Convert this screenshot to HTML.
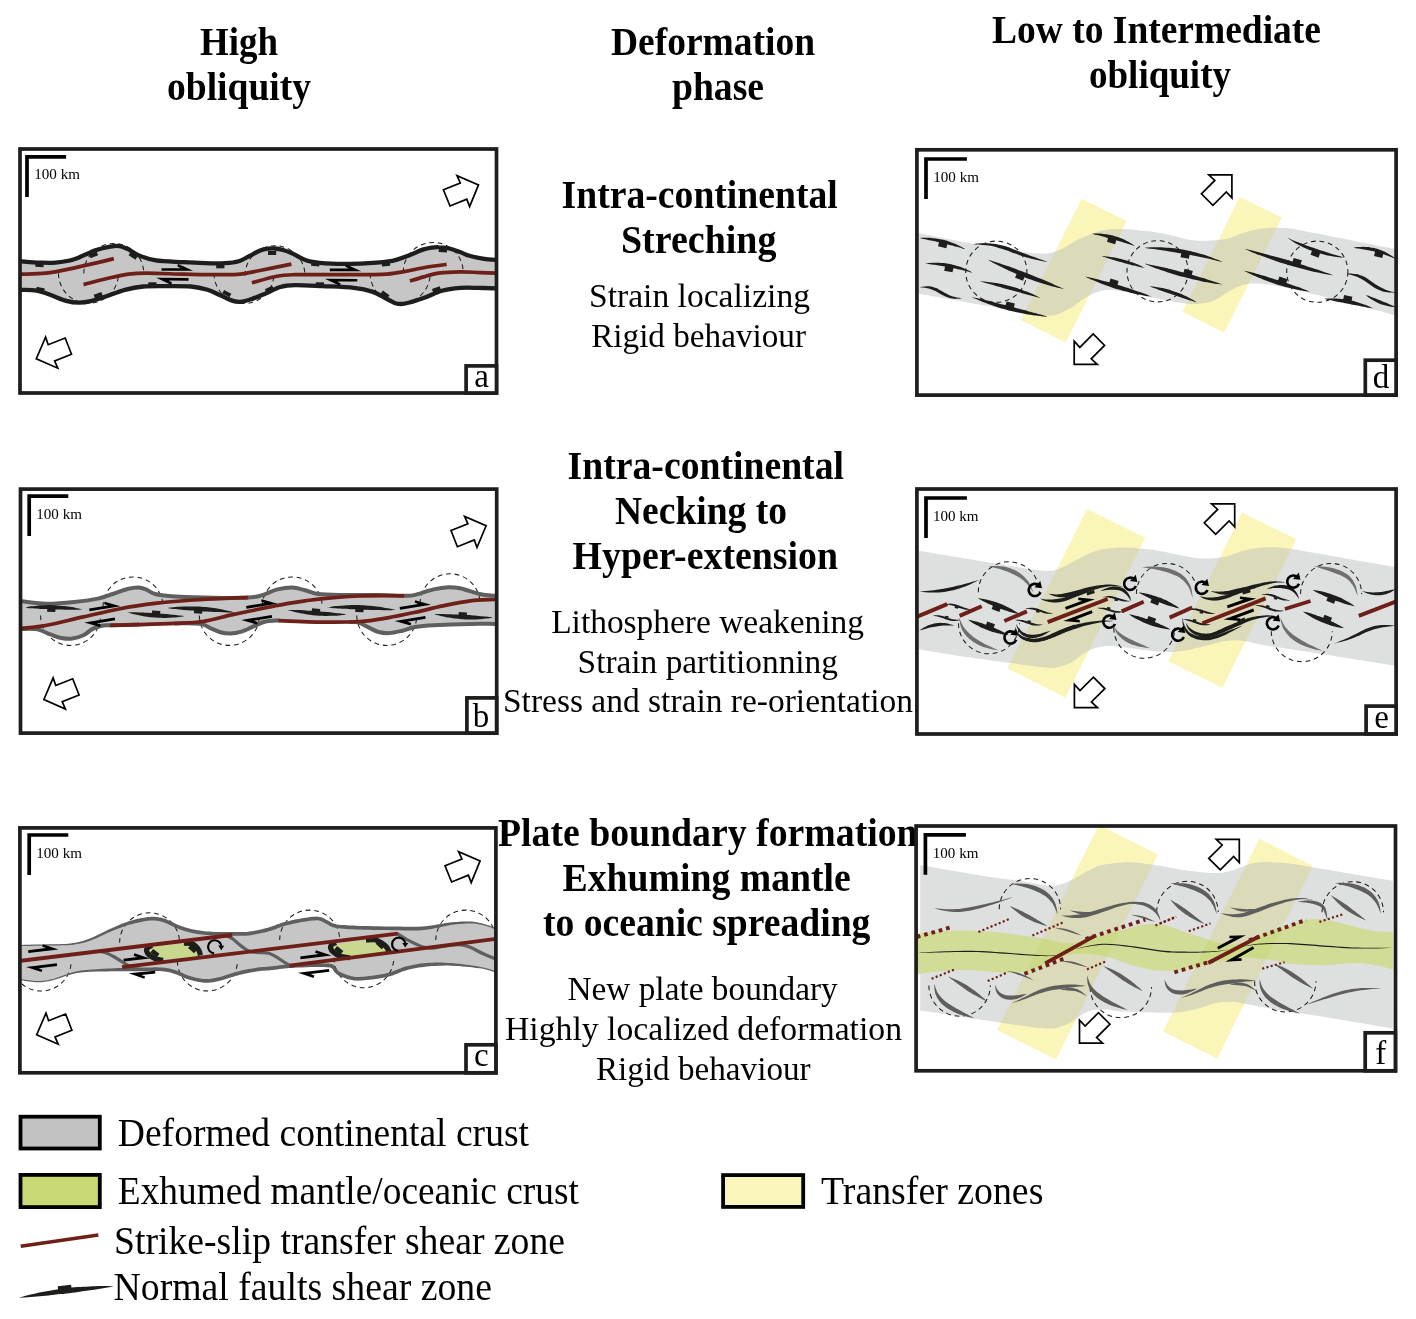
<!DOCTYPE html>
<html><head><meta charset="utf-8"><title>Deformation phases</title>
<style>html,body{margin:0;padding:0;background:#fff}svg{display:block;will-change:transform}text{font-family:"Liberation Serif",serif}</style></head><body>
<svg width="1416" height="1319" viewBox="0 0 1416 1319">
<rect width="1416" height="1319" fill="#fff"/>
<text x="200" y="55" font-size="39.3" font-weight="bold" textLength="78" lengthAdjust="spacingAndGlyphs" fill="#000">High</text>
<text x="167" y="99.8" font-size="39.3" font-weight="bold" textLength="144" lengthAdjust="spacingAndGlyphs" fill="#000">obliquity</text>
<text x="611" y="55" font-size="39.3" font-weight="bold" textLength="204" lengthAdjust="spacingAndGlyphs" fill="#000">Deformation</text>
<text x="672" y="99.8" font-size="39.3" font-weight="bold" textLength="92" lengthAdjust="spacingAndGlyphs" fill="#000">phase</text>
<text x="992" y="43.1" font-size="39.3" font-weight="bold" textLength="329" lengthAdjust="spacingAndGlyphs" fill="#000">Low to Intermediate</text>
<text x="1089" y="87.9" font-size="39.3" font-weight="bold" textLength="142" lengthAdjust="spacingAndGlyphs" fill="#000">obliquity</text>
<text x="561.6" y="208.1" font-size="39.3" font-weight="bold" textLength="276.2" lengthAdjust="spacingAndGlyphs" fill="#000">Intra-continental</text>
<text x="621" y="252.9" font-size="39.3" font-weight="bold" textLength="155.4" lengthAdjust="spacingAndGlyphs" fill="#000">Streching</text>
<text x="589" y="306.9" font-size="33.5" textLength="221" lengthAdjust="spacingAndGlyphs" fill="#000">Strain localizing</text>
<text x="591.2" y="347" font-size="33.5" textLength="214.8" lengthAdjust="spacingAndGlyphs" fill="#000">Rigid behaviour</text>
<text x="567.6" y="479.3" font-size="39.3" font-weight="bold" textLength="276.4" lengthAdjust="spacingAndGlyphs" fill="#000">Intra-continental</text>
<text x="615" y="524.1" font-size="39.3" font-weight="bold" textLength="172" lengthAdjust="spacingAndGlyphs" fill="#000">Necking to</text>
<text x="572.6" y="569" font-size="39.3" font-weight="bold" textLength="265.4" lengthAdjust="spacingAndGlyphs" fill="#000">Hyper-extension</text>
<text x="551.2" y="633" font-size="33.5" textLength="312.8" lengthAdjust="spacingAndGlyphs" fill="#000">Lithosphere weakening</text>
<text x="577.6" y="672.6" font-size="33.5" textLength="260.4" lengthAdjust="spacingAndGlyphs" fill="#000">Strain partitionning</text>
<text x="503" y="712.1" font-size="33.5" textLength="410" lengthAdjust="spacingAndGlyphs" fill="#000">Stress and strain re-orientation</text>
<text x="498" y="845.7" font-size="39.3" font-weight="bold" textLength="419.6" lengthAdjust="spacingAndGlyphs" fill="#000">Plate boundary formation</text>
<text x="562.6" y="891.2" font-size="39.3" font-weight="bold" textLength="288.2" lengthAdjust="spacingAndGlyphs" fill="#000">Exhuming mantle</text>
<text x="543" y="935.8" font-size="39.3" font-weight="bold" textLength="327.4" lengthAdjust="spacingAndGlyphs" fill="#000">to oceanic spreading</text>
<text x="567.4" y="999.8" font-size="33.5" textLength="270.4" lengthAdjust="spacingAndGlyphs" fill="#000">New plate boundary</text>
<text x="505" y="1039.6" font-size="33.5" textLength="397.1" lengthAdjust="spacingAndGlyphs" fill="#000">Highly localized deformation</text>
<text x="596" y="1079.7" font-size="33.5" textLength="214.6" lengthAdjust="spacingAndGlyphs" fill="#000">Rigid behaviour</text>
<rect x="20.5" y="1116.7" width="79.3" height="31.8" fill="#c2c2c2" stroke="#000" stroke-width="3.8"/>
<rect x="20.5" y="1174.9" width="79.3" height="32.2" fill="#c7d874" stroke="#000" stroke-width="3.8"/>
<rect x="723.1" y="1175.1" width="80.1" height="31.8" fill="#faf6bb" stroke="#000" stroke-width="3.8"/>
<text x="117.8" y="1146" font-size="39.2" textLength="411.2" lengthAdjust="spacingAndGlyphs" fill="#000">Deformed continental crust</text>
<text x="117.8" y="1203.8" font-size="39.2" textLength="461.2" lengthAdjust="spacingAndGlyphs" fill="#000">Exhumed mantle/oceanic crust</text>
<text x="114" y="1253.5" font-size="39.2" textLength="451" lengthAdjust="spacingAndGlyphs" fill="#000">Strike-slip transfer shear zone</text>
<text x="113.5" y="1299.7" font-size="39.2" textLength="378.5" lengthAdjust="spacingAndGlyphs" fill="#000">Normal faults shear zone</text>
<text x="821" y="1204" font-size="39.2" textLength="222.4" lengthAdjust="spacingAndGlyphs" fill="#000">Transfer zones</text>
<line x1="20.7" y1="1246.2" x2="98.3" y2="1235" stroke="#6e1f18" stroke-width="3.6"/>
<path d="M19,1297.7C20,1297.4 22.8,1296.5 24.8,1296C26.7,1295.5 28.6,1295 30.6,1294.6C32.5,1294.1 34.5,1293.7 36.4,1293.2C38.3,1292.8 40.3,1292.4 42.2,1292C44.2,1291.6 46.1,1291.3 48.1,1290.9C50,1290.6 52,1290.2 53.9,1289.9C55.9,1289.6 57.9,1289.3 59.8,1289C61.8,1288.8 63.7,1288.5 65.7,1288.3C67.7,1288 69.6,1287.8 71.6,1287.6C73.6,1287.4 75.5,1287.3 77.5,1287.1C79.5,1286.9 81.5,1286.8 83.4,1286.7C85.4,1286.6 87.4,1286.5 89.4,1286.4C91.4,1286.3 93.4,1286.2 95.3,1286.2C97.3,1286.1 99.3,1286.1 101.3,1286.1C103.3,1286.1 105.3,1286.1 107.3,1286.1C109.3,1286.2 112.3,1286.4 113.3,1286.4L113.3,1286.4C112.3,1286.6 109.4,1287.2 107.5,1287.5C105.5,1287.9 103.5,1288.2 101.6,1288.5C99.6,1288.8 97.7,1289.1 95.7,1289.4C93.8,1289.7 91.8,1290 89.9,1290.3C87.9,1290.6 85.9,1290.9 84,1291.1C82,1291.4 80.1,1291.7 78.1,1291.9C76.1,1292.2 74.2,1292.5 72.2,1292.7C70.2,1293 68.3,1293.2 66.3,1293.4C64.4,1293.7 62.4,1293.9 60.4,1294.1C58.5,1294.3 56.5,1294.6 54.5,1294.8C52.6,1295 50.6,1295.2 48.6,1295.4C46.6,1295.6 44.7,1295.8 42.7,1295.9C40.7,1296.1 38.8,1296.3 36.8,1296.5C34.8,1296.6 32.8,1296.8 30.9,1297C28.9,1297.1 26.9,1297.3 24.9,1297.4C23,1297.5 20,1297.7 19,1297.7Z" fill="#1d1d1b"/><rect x="57.9" y="1285.5" width="13.5" height="4.2" fill="#1d1d1b" transform="rotate(-6.8 64.7 1287.6)"/>
<clipPath id="clipa"><rect x="19.9" y="149" width="476.6" height="244.1"/></clipPath>
<g clip-path="url(#clipa)">
<path d="M16,261C16.9,261.1 17.1,261 21.1,261.3C25.1,261.6 34.3,262.4 40,262.6C45.7,262.8 49.5,263.1 55.1,262.6C60.7,262.1 66.7,261.6 73.4,259.5C80.1,257.4 89.4,252.5 95.5,250.3C101.6,248.2 106.2,247.3 110.2,246.6C114.2,245.9 116.4,245.6 119.4,246.1C122.5,246.6 125.1,247.8 128.5,249.4C131.9,251 135,254 139.6,255.8C144.2,257.6 148.8,259.3 156.1,260.4C163.4,261.5 175.4,261.7 183.6,262.2C191.8,262.7 198.1,263 205,263.2C211.9,263.4 219.4,263.5 225,263.2C230.6,262.9 234.6,262.5 238.7,261.3C242.8,260.1 246.1,257.6 249.7,255.8C253.3,254 257.1,251.7 260.2,250.5C263.2,249.3 265.6,249 268,248.7C270.4,248.4 272.4,248.3 274.9,248.5C277.4,248.7 280.2,249.2 283,250C285.8,250.8 288.6,251.8 291.4,253C294.2,254.2 296.9,256.1 300,257.5C303.1,258.9 304.5,260.3 309.8,261.3C315.1,262.3 325.1,263.3 331.8,263.7C338.5,264.1 343.9,264 350,263.9C356.1,263.8 361.4,263.7 368.5,263.2C375.6,262.7 386.3,261.9 392.4,260.8C398.5,259.7 400.1,258.6 405.3,256.7C410.5,254.8 419.2,250.9 423.6,249.4C428.1,247.9 429.6,248 432,247.6C434.4,247.2 435.4,247 438.3,247.2C441.2,247.3 445.7,247.7 449.3,248.5C452.9,249.3 456.6,250.8 460,252C463.4,253.2 465.5,254.7 469.5,255.8C473.5,256.9 479.9,258.2 484.2,258.9C488.5,259.6 492.2,259.6 495.2,259.8C498.2,260 500.9,260 502,260L502,288.4C500.9,288.4 499.1,288.4 495.2,288.3C491.3,288.2 484.5,288 478.7,287.9C472.9,287.8 466.4,287.4 460.3,287.9C454.2,288.4 448.1,289 442,290.7C435.9,292.4 429.7,295.9 423.6,298C417.5,300.1 409.9,302.6 405.3,303.5C400.7,304.4 399.2,304.2 396.1,303.5C393,302.8 390.9,301 386.9,299C382.9,297 377.7,293.5 372.2,291.6C366.7,289.8 362.1,288.8 353.8,287.9C345.5,287 332.4,286.6 322.6,286.1C312.8,285.7 302.1,285.1 295.1,285.2C288.1,285.3 285.3,285.6 280.4,287C275.5,288.4 270.6,291.3 265.7,293.4C260.8,295.4 255.3,297.9 251,299.3C246.7,300.7 243.3,301.6 240,301.8C236.7,302 234.7,301.5 231.4,300.4C228.1,299.3 224.3,297.1 220.3,295.3C216.3,293.5 212.4,291.3 207.5,289.8C202.6,288.3 198,287.1 191,286.5C184,285.9 173.3,286.1 165.3,286.1C157.3,286.1 149.9,285.9 143.2,286.5C136.5,287.1 131,288.2 124.9,289.8C118.8,291.4 112,294.4 106.5,296.2C101,298 96.4,299.7 91.8,300.8C87.2,301.9 83.3,302.6 79,302.6C74.7,302.6 70.7,302 66.1,300.8C61.5,299.6 56.3,297 51.4,295.3C46.5,293.6 41.8,291.6 36.7,290.7C31.7,289.8 24.6,290 21.1,289.8C17.7,289.6 16.9,289.6 16,289.6Z" fill="#c6c6c6"/>
<path d="M83.8,273.5 A30,30 0 0 1 143.8,273.5" fill="none" stroke="#1d1d1b" stroke-width="1.05" stroke-dasharray="4.8,3.8"/>
<path d="M58.5,273.3 A30,30 0 0 0 118.5,273.3" fill="none" stroke="#1d1d1b" stroke-width="1.05" stroke-dasharray="4.8,3.8"/>
<path d="M245,275.7 A30,30 0 0 1 305,275.7" fill="none" stroke="#1d1d1b" stroke-width="1.05" stroke-dasharray="4.8,3.8"/>
<path d="M214,273.5 A30,30 0 0 0 274,273.5" fill="none" stroke="#1d1d1b" stroke-width="1.05" stroke-dasharray="4.8,3.8"/>
<path d="M403.2,272.4 A30,30 0 0 1 463.2,272.4" fill="none" stroke="#1d1d1b" stroke-width="1.05" stroke-dasharray="4.8,3.8"/>
<path d="M370.2,273.5 A30,30 0 0 0 430.2,273.5" fill="none" stroke="#1d1d1b" stroke-width="1.05" stroke-dasharray="4.8,3.8"/>
<rect x="35.4" y="263" width="8.2" height="4" fill="#1d1d1b" transform="rotate(3 39.5 265)"/>
<rect x="89.5" y="252.9" width="8.2" height="4" fill="#1d1d1b" transform="rotate(-22 93.6 254.9)"/>
<rect x="129" y="253.8" width="8.2" height="4" fill="#1d1d1b" transform="rotate(32 133.1 255.8)"/>
<rect x="216.2" y="264.3" width="8.2" height="4" fill="#1d1d1b" transform="rotate(0 220.3 266.3)"/>
<rect x="268" y="251" width="8.2" height="4" fill="#1d1d1b" transform="rotate(0 272.1 253)"/>
<rect x="311.2" y="262.1" width="8.2" height="4" fill="#1d1d1b" transform="rotate(5 315.3 264.1)"/>
<rect x="381.9" y="262.1" width="8.2" height="4" fill="#1d1d1b" transform="rotate(-5 386 264.1)"/>
<rect x="438.8" y="248.3" width="8.2" height="4" fill="#1d1d1b" transform="rotate(3 442.9 250.3)"/>
<rect x="36.3" y="287.6" width="8.2" height="4" fill="#1d1d1b" transform="rotate(12 40.4 289.6)"/>
<rect x="94.1" y="293.3" width="8.2" height="4" fill="#1d1d1b" transform="rotate(-20 98.2 295.3)"/>
<rect x="148.3" y="282.3" width="8.2" height="4" fill="#1d1d1b" transform="rotate(0 152.4 284.3)"/>
<rect x="222.7" y="291.6" width="8.2" height="4" fill="#1d1d1b" transform="rotate(27 226.8 293.6)"/>
<rect x="265.3" y="287.4" width="8.2" height="4" fill="#1d1d1b" transform="rotate(-25 269.4 289.4)"/>
<rect x="315.8" y="282.3" width="8.2" height="4" fill="#1d1d1b" transform="rotate(0 319.9 284.3)"/>
<rect x="380.9" y="292.6" width="8.2" height="4" fill="#1d1d1b" transform="rotate(35 385 294.6)"/>
<rect x="432.4" y="287.6" width="8.2" height="4" fill="#1d1d1b" transform="rotate(-20 436.5 289.6)"/>
<path d="M16,261C16.9,261.1 17.1,261 21.1,261.3C25.1,261.6 34.3,262.4 40,262.6C45.7,262.8 49.5,263.1 55.1,262.6C60.7,262.1 66.7,261.6 73.4,259.5C80.1,257.4 89.4,252.5 95.5,250.3C101.6,248.2 106.2,247.3 110.2,246.6C114.2,245.9 116.4,245.6 119.4,246.1C122.5,246.6 125.1,247.8 128.5,249.4C131.9,251 135,254 139.6,255.8C144.2,257.6 148.8,259.3 156.1,260.4C163.4,261.5 175.4,261.7 183.6,262.2C191.8,262.7 198.1,263 205,263.2C211.9,263.4 219.4,263.5 225,263.2C230.6,262.9 234.6,262.5 238.7,261.3C242.8,260.1 246.1,257.6 249.7,255.8C253.3,254 257.1,251.7 260.2,250.5C263.2,249.3 265.6,249 268,248.7C270.4,248.4 272.4,248.3 274.9,248.5C277.4,248.7 280.2,249.2 283,250C285.8,250.8 288.6,251.8 291.4,253C294.2,254.2 296.9,256.1 300,257.5C303.1,258.9 304.5,260.3 309.8,261.3C315.1,262.3 325.1,263.3 331.8,263.7C338.5,264.1 343.9,264 350,263.9C356.1,263.8 361.4,263.7 368.5,263.2C375.6,262.7 386.3,261.9 392.4,260.8C398.5,259.7 400.1,258.6 405.3,256.7C410.5,254.8 419.2,250.9 423.6,249.4C428.1,247.9 429.6,248 432,247.6C434.4,247.2 435.4,247 438.3,247.2C441.2,247.3 445.7,247.7 449.3,248.5C452.9,249.3 456.6,250.8 460,252C463.4,253.2 465.5,254.7 469.5,255.8C473.5,256.9 479.9,258.2 484.2,258.9C488.5,259.6 492.2,259.6 495.2,259.8C498.2,260 500.9,260 502,260" fill="none" stroke="#1d1d1b" stroke-width="4.3"/>
<path d="M16,289.6C16.9,289.6 17.7,289.6 21.1,289.8C24.6,290 31.7,289.8 36.7,290.7C41.8,291.6 46.5,293.6 51.4,295.3C56.3,297 61.5,299.6 66.1,300.8C70.7,302 74.7,302.6 79,302.6C83.3,302.6 87.2,301.9 91.8,300.8C96.4,299.7 101,298 106.5,296.2C112,294.4 118.8,291.4 124.9,289.8C131,288.2 136.5,287.1 143.2,286.5C149.9,285.9 157.3,286.1 165.3,286.1C173.3,286.1 184,285.9 191,286.5C198,287.1 202.6,288.3 207.5,289.8C212.4,291.3 216.3,293.5 220.3,295.3C224.3,297.1 228.1,299.3 231.4,300.4C234.7,301.5 236.7,302 240,301.8C243.3,301.6 246.7,300.7 251,299.3C255.3,297.9 260.8,295.4 265.7,293.4C270.6,291.3 275.5,288.4 280.4,287C285.3,285.6 288.1,285.3 295.1,285.2C302.1,285.1 312.8,285.7 322.6,286.1C332.4,286.6 345.5,287 353.8,287.9C362.1,288.8 366.7,289.8 372.2,291.6C377.7,293.5 382.9,297 386.9,299C390.9,301 393,302.8 396.1,303.5C399.2,304.2 400.7,304.4 405.3,303.5C409.9,302.6 417.5,300.1 423.6,298C429.7,295.9 435.9,292.4 442,290.7C448.1,289 454.2,288.4 460.3,287.9C466.4,287.4 472.9,287.8 478.7,287.9C484.5,288 491.3,288.2 495.2,288.3C499.1,288.4 500.9,288.4 502,288.4" fill="none" stroke="#1d1d1b" stroke-width="4.3"/>
<polygon points="161.5,270.8 193.1,270.8 178.2,264 177.2,266.3 180.7,268.2 161.5,268.2" fill="#000"/>
<polygon points="188.5,278.1 156.2,277.8 171,284.7 172.1,282.4 168.6,280.5 188.5,280.7" fill="#000"/>
<polygon points="329.8,271.2 361.2,271.2 346.3,264.4 345.3,266.7 348.8,268.6 329.8,268.6" fill="#000"/>
<polygon points="357.3,279 324.8,278.8 339.7,285.7 340.7,283.4 337.2,281.5 357.3,281.6" fill="#000"/>
<path d="M16,274.3C16.9,274.3 16.1,274.4 21.1,274.2C26.1,274 37.2,274.2 45.9,273.2C54.6,272.2 65.1,269.8 73.4,268.1C81.7,266.4 88.8,264.7 95.5,263.1C102.2,261.5 110.8,259.4 113.8,258.6" fill="none" stroke="#6e1f18" stroke-width="3.7"/>
<path d="M83.5,284.6C88,283.5 102.7,279.5 110.2,277.8C117.7,276.1 122.4,275 128.5,274.2C134.6,273.4 137.7,273.2 146.9,273.2C156.1,273.2 171.4,273.9 183.6,274.2C195.8,274.4 210.9,274.7 220.3,274.7C229.7,274.7 233.4,274.9 240,274.2C246.6,273.5 251.4,272.2 260,270.5C268.6,268.8 286.2,265.2 291.4,264.1" fill="none" stroke="#6e1f18" stroke-width="3.7"/>
<path d="M251.9,282.8C256,281.7 269.5,277.6 276.7,276.2C283.9,274.8 285.9,274.9 295.1,274.7C304.3,274.4 319.6,274.7 331.8,274.7C344,274.7 359.3,274.8 368.5,274.7C377.7,274.6 380.8,274.8 386.9,274.2C393,273.6 399.2,272.5 405.3,271.4C411.4,270.3 416.7,268.9 423.6,267.7C430.5,266.5 442.8,264.9 446.6,264.4" fill="none" stroke="#6e1f18" stroke-width="3.7"/>
<path d="M409.9,281C412.2,280.3 418.9,278.2 423.6,276.9C428.3,275.6 432.2,274 438.3,273.2C444.4,272.4 453.4,271.9 460.3,271.8C467.2,271.7 474.2,272.4 480,272.6C485.8,272.8 491.5,273.1 495.2,273.2C498.9,273.3 500.9,273.4 502,273.4" fill="none" stroke="#6e1f18" stroke-width="3.7"/>
<polygon points="443.4,189.8 460.3,183 457,175.7 478.5,184.9 469.6,206.6 466.8,199.1 450,206" fill="#fff" stroke="#000" stroke-width="1.7" stroke-linejoin="miter"/>
<polygon points="71.5,354.2 54.6,360.9 57.8,368.2 36.3,358.7 45.6,337.1 48.2,344.7 65.2,338" fill="#fff" stroke="#000" stroke-width="1.7" stroke-linejoin="miter"/>
</g>
<path d="M27,196.9 V156.9 H66.1" fill="none" stroke="#000" stroke-width="3.7"/><text x="34.3" y="179.3" font-size="14" textLength="45.6" lengthAdjust="spacingAndGlyphs" fill="#000">100 km</text>
<rect x="20" y="149" width="476.5" height="244" fill="none" stroke="#1d1d1b" stroke-width="3.7"/><rect x="466.1" y="365.9" width="30.4" height="27.1" fill="#fff" stroke="#1d1d1b" stroke-width="3.7"/><text x="481.6" y="386.8" font-size="33" text-anchor="middle" fill="#000">a</text>
<clipPath id="clipb"><rect x="20.4" y="489" width="476.3" height="244.1"/></clipPath>
<g clip-path="url(#clipb)">
<path d="M16,601C17,601 16.8,600.8 21.9,601.3C27,601.8 38,603.6 46.7,603.7C55.4,603.8 65.7,602.8 74.3,601.9C82.9,601 91.7,599.9 98.1,598.6C104.5,597.3 107.9,595.6 112.8,594C117.7,592.4 123.2,590.1 127.5,589C131.8,587.9 135.4,587.4 138.5,587.5C141.6,587.6 143.1,588.3 145.9,589.4C148.7,590.5 150.8,592.9 155.1,594C159.4,595.1 165.2,595.7 171.6,596.2C178,596.8 183.8,597 193.6,597.3C203.4,597.6 221.3,598 230.3,598C239.3,598 243.3,597.9 247.8,597.6C252.3,597.4 254.6,597 257.4,596.5C260.2,596 261.3,595.5 264.7,594.3C268.1,593.1 272.9,590.5 277.5,589.4C282.1,588.3 287.6,587.4 292.2,587.5C296.8,587.6 300.8,589.2 305.1,590.3C309.4,591.4 311.8,593.2 317.9,594C324,594.8 331.7,594.8 341.8,594.9C351.9,595 368.1,594.8 378.5,594.9C388.9,595 398.1,595.8 404.2,595.8C410.3,595.8 410.4,596 415.3,594.9C420.2,593.8 428.1,590.7 433.6,589.4C439.1,588.1 443.7,587.4 448.3,587.2C452.9,587.1 456,587.4 461.2,588.5C466.4,589.6 473.9,592.8 479.5,594C485.1,595.2 491.4,595.5 495.1,595.8C498.9,596.1 500.9,596 502,596L502,623.9C500.9,623.9 500.4,623.9 495.1,623.9C489.8,623.9 480.6,623.7 470.3,623.9C460.1,624.1 442.8,624.7 433.6,625.2C424.4,625.7 420.5,626.1 415.3,627C410.1,627.9 406.7,629.7 402.4,630.7C398.1,631.7 393.6,632.9 389.6,633.1C385.6,633.3 381.9,632.9 378.5,632C375.1,631.1 372.8,629.5 369.4,627.9C366,626.3 361.5,623.4 358.3,622.4C355.1,621.4 355.8,622 350,622C344.2,622 335.3,622.4 323.4,622.1C311.5,621.8 288.3,620.5 278.5,620.4C268.7,620.3 268.8,620.8 264.7,621.8C260.6,622.8 258.1,624.5 254.2,626.1C250.3,627.7 245.4,630.4 241.4,631.6C237.4,632.8 233.7,633.4 230.3,633.5C226.9,633.6 224.2,633.3 221.2,632.5C218.1,631.7 215.1,630.3 212,628.9C208.9,627.5 205.9,625.2 202.8,624.3C199.7,623.4 198.2,623.5 193.6,623.4C189,623.2 184.5,623.2 175.3,623.4C166.1,623.6 149.4,624.3 138.5,624.6C127.6,624.9 116.2,625 110.1,625.2C104,625.4 104.7,625.1 101.8,625.7C98.9,626.3 95.7,627.3 92.6,628.9C89.5,630.5 86.8,633.7 83.4,635.3C80,636.9 76.1,638.1 72.4,638.6C68.7,639.1 65.1,638.7 61.4,638C57.7,637.3 54.4,635.8 50.4,634.4C46.4,633 42.2,630.3 37.5,629.4C32.8,628.5 25.5,629 21.9,628.9C18.3,628.8 17,628.8 16,628.8Z" fill="#c6c6c6"/>
<path d="M103,606.9 A30,30 0 0 1 163,606.9" fill="none" stroke="#1d1d1b" stroke-width="1.05" stroke-dasharray="4.8,3.8"/>
<path d="M40.6,615.4 A30,30 0 0 0 100.6,615.4" fill="none" stroke="#1d1d1b" stroke-width="1.05" stroke-dasharray="4.8,3.8"/>
<path d="M262.2,606.9 A30,30 0 0 1 322.2,606.9" fill="none" stroke="#1d1d1b" stroke-width="1.05" stroke-dasharray="4.8,3.8"/>
<path d="M199.4,615.4 A30,30 0 0 0 259.4,615.4" fill="none" stroke="#1d1d1b" stroke-width="1.05" stroke-dasharray="4.8,3.8"/>
<path d="M420.1,603.8 A30,30 0 0 1 480.1,603.8" fill="none" stroke="#1d1d1b" stroke-width="1.05" stroke-dasharray="4.8,3.8"/>
<path d="M356.8,615.4 A30,30 0 0 0 416.8,615.4" fill="none" stroke="#1d1d1b" stroke-width="1.05" stroke-dasharray="4.8,3.8"/>
<path d="M16,601C17,601 16.8,600.8 21.9,601.3C27,601.8 38,603.6 46.7,603.7C55.4,603.8 65.7,602.8 74.3,601.9C82.9,601 91.7,599.9 98.1,598.6C104.5,597.3 107.9,595.6 112.8,594C117.7,592.4 123.2,590.1 127.5,589C131.8,587.9 135.4,587.4 138.5,587.5C141.6,587.6 143.1,588.3 145.9,589.4C148.7,590.5 150.8,592.9 155.1,594C159.4,595.1 165.2,595.7 171.6,596.2C178,596.8 183.8,597 193.6,597.3C203.4,597.6 221.3,598 230.3,598C239.3,598 243.3,597.9 247.8,597.6C252.3,597.4 254.6,597 257.4,596.5C260.2,596 261.3,595.5 264.7,594.3C268.1,593.1 272.9,590.5 277.5,589.4C282.1,588.3 287.6,587.4 292.2,587.5C296.8,587.6 300.8,589.2 305.1,590.3C309.4,591.4 311.8,593.2 317.9,594C324,594.8 331.7,594.8 341.8,594.9C351.9,595 368.1,594.8 378.5,594.9C388.9,595 398.1,595.8 404.2,595.8C410.3,595.8 410.4,596 415.3,594.9C420.2,593.8 428.1,590.7 433.6,589.4C439.1,588.1 443.7,587.4 448.3,587.2C452.9,587.1 456,587.4 461.2,588.5C466.4,589.6 473.9,592.8 479.5,594C485.1,595.2 491.4,595.5 495.1,595.8C498.9,596.1 500.9,596 502,596" fill="none" stroke="#5f5f5f" stroke-width="4.0" stroke-linecap="round"/>
<path d="M16,628.8C17,628.8 18.3,628.8 21.9,628.9C25.5,629 32.8,628.5 37.5,629.4C42.2,630.3 46.4,633 50.4,634.4C54.4,635.8 57.7,637.3 61.4,638C65.1,638.7 68.7,639.1 72.4,638.6C76.1,638.1 80,636.9 83.4,635.3C86.8,633.7 89.5,630.5 92.6,628.9C95.7,627.3 98.9,626.3 101.8,625.7C104.7,625.1 104,625.4 110.1,625.2C116.2,625 133.8,624.7 138.5,624.6" fill="none" stroke="#5f5f5f" stroke-width="4.0" stroke-linecap="round"/>
<path d="M175.3,623.4C178.4,623.4 189,623.2 193.6,623.4C198.2,623.5 199.7,623.4 202.8,624.3C205.9,625.2 208.9,627.5 212,628.9C215.1,630.3 218.1,631.7 221.2,632.5C224.2,633.3 226.9,633.6 230.3,633.5C233.7,633.4 237.4,632.8 241.4,631.6C245.4,630.4 250.3,627.7 254.2,626.1C258.1,624.5 260.6,622.8 264.7,621.8C268.8,620.8 276.2,620.6 278.5,620.4" fill="none" stroke="#5f5f5f" stroke-width="4.0" stroke-linecap="round"/>
<path d="M350,622C351.4,622.1 355.1,621.4 358.3,622.4C361.5,623.4 366,626.3 369.4,627.9C372.8,629.5 375.1,631.1 378.5,632C381.9,632.9 385.6,633.3 389.6,633.1C393.6,632.9 398.1,631.7 402.4,630.7C406.7,629.7 410.1,627.9 415.3,627C420.5,626.1 424.4,625.7 433.6,625.2C442.8,624.7 460.1,624.1 470.3,623.9C480.6,623.7 489.8,623.9 495.1,623.9C500.4,623.9 500.9,623.9 502,623.9" fill="none" stroke="#5f5f5f" stroke-width="4.0" stroke-linecap="round"/>
<path d="M23.8,607.6C24.4,607.5 26.3,607.1 27.5,606.9C28.7,606.6 30,606.5 31.2,606.3C32.4,606.1 33.6,606 34.9,605.9C36.1,605.7 37.3,605.6 38.6,605.5C39.8,605.4 41,605.4 42.2,605.3C43.5,605.2 44.7,605.2 45.9,605.2C47.1,605.1 48.4,605.1 49.6,605.1C50.8,605.1 52,605.2 53.3,605.2C54.5,605.2 55.7,605.3 56.9,605.4C58.2,605.5 59.4,605.6 60.6,605.7C61.8,605.8 63,605.9 64.3,606C65.5,606.2 66.7,606.4 67.9,606.5C69.1,606.7 70.3,606.9 71.6,607.1C72.8,607.3 74,607.6 75.2,607.8C76.4,608.1 77.6,608.3 78.9,608.6C80.1,608.9 81.9,609.4 82.5,609.6L82.5,609.6C81.9,609.6 80,609.7 78.8,609.7C77.6,609.8 76.4,609.8 75.1,609.8C73.9,609.8 72.7,609.8 71.5,609.7C70.3,609.7 69,609.7 67.8,609.7C66.6,609.7 65.4,609.7 64.1,609.7C62.9,609.7 61.7,609.6 60.5,609.6C59.2,609.6 58,609.5 56.8,609.5C55.6,609.5 54.3,609.4 53.1,609.4C51.9,609.4 50.7,609.3 49.5,609.3C48.2,609.2 47,609.2 45.8,609.1C44.6,609 43.3,609 42.1,608.9C40.9,608.9 39.7,608.8 38.5,608.7C37.2,608.6 36,608.6 34.8,608.5C33.6,608.4 32.3,608.3 31.1,608.3C29.9,608.2 28.7,608.1 27.5,608C26.2,607.9 24.4,607.7 23.8,607.6Z" fill="#1d1d1b"/><rect x="47.2" y="608.3" width="8.2" height="3.6" fill="#1d1d1b" transform="rotate(2 51.3 610.1)"/>
<path d="M127.5,612.3C128.1,612.3 129.9,612.2 131.1,612.2C132.3,612.2 133.5,612.3 134.6,612.3C135.8,612.3 137,612.4 138.2,612.4C139.4,612.4 140.6,612.5 141.8,612.5C143,612.6 144.2,612.6 145.3,612.7C146.5,612.7 147.7,612.8 148.9,612.8C150.1,612.9 151.3,613 152.5,613C153.6,613.1 154.8,613.2 156,613.3C157.2,613.3 158.4,613.4 159.6,613.5C160.8,613.6 161.9,613.7 163.1,613.8C164.3,613.9 165.5,614 166.7,614.1C167.9,614.2 169,614.3 170.2,614.5C171.4,614.6 172.6,614.7 173.8,614.8C175,615 176.1,615.1 177.3,615.2C178.5,615.4 179.7,615.5 180.9,615.6C182,615.8 183.8,616.1 184.4,616.2L184.4,616.2C183.8,616.3 182,616.7 180.8,616.8C179.6,617 178.4,617.1 177.2,617.3C176,617.4 174.8,617.5 173.6,617.6C172.4,617.7 171.2,617.7 170,617.8C168.8,617.8 167.6,617.9 166.4,617.9C165.2,617.9 164,617.9 162.8,617.9C161.7,617.9 160.5,617.9 159.3,617.8C158.1,617.8 156.9,617.7 155.7,617.6C154.5,617.6 153.3,617.5 152.2,617.3C151,617.2 149.8,617.1 148.6,616.9C147.4,616.8 146.3,616.6 145.1,616.4C143.9,616.3 142.7,616.1 141.5,615.8C140.4,615.6 139.2,615.4 138,615.1C136.9,614.9 135.7,614.6 134.5,614.3C133.3,614 132.2,613.8 131,613.4C129.8,613.1 128.1,612.5 127.5,612.3Z" fill="#1d1d1b"/><rect x="152" y="610.8" width="8.2" height="3.6" fill="#1d1d1b" transform="rotate(3.9 156.1 612.6)"/>
<path d="M167,608.1C167.7,608 169.9,607.6 171.3,607.5C172.7,607.3 174.2,607.2 175.6,607.1C177,606.9 178.4,606.8 179.9,606.8C181.3,606.7 182.7,606.6 184.1,606.6C185.6,606.5 187,606.5 188.4,606.5C189.8,606.5 191.3,606.5 192.7,606.5C194.1,606.5 195.5,606.5 196.9,606.6C198.3,606.6 199.8,606.7 201.2,606.8C202.6,606.9 204,607 205.4,607.1C206.8,607.3 208.2,607.4 209.6,607.6C211.1,607.7 212.5,607.9 213.9,608.1C215.3,608.3 216.7,608.5 218.1,608.8C219.5,609 220.9,609.2 222.3,609.5C223.7,609.8 225.1,610.1 226.5,610.4C227.9,610.7 229.3,611 230.7,611.3C232.1,611.7 234.2,612.3 234.9,612.5L234.9,612.5C234.2,612.5 232.1,612.5 230.6,612.5C229.2,612.5 227.8,612.4 226.4,612.4C225,612.4 223.5,612.3 222.1,612.3C220.7,612.2 219.3,612.1 217.9,612.1C216.5,612 215,612 213.6,611.9C212.2,611.8 210.8,611.8 209.4,611.7C208,611.6 206.6,611.5 205.1,611.5C203.7,611.4 202.3,611.3 200.9,611.2C199.5,611.1 198.1,611 196.6,610.9C195.2,610.8 193.8,610.7 192.4,610.6C191,610.5 189.6,610.4 188.2,610.3C186.8,610.1 185.3,610 183.9,609.9C182.5,609.8 181.1,609.6 179.7,609.5C178.3,609.4 176.9,609.2 175.5,609.1C174,609 172.6,608.8 171.2,608.7C169.8,608.5 167.7,608.2 167,608.1Z" fill="#1d1d1b"/><rect x="194" y="609.9" width="8.2" height="3.6" fill="#1d1d1b" transform="rotate(3.7 198.1 611.7)"/>
<path d="M287.6,609.9C288.2,609.9 290.1,609.9 291.3,609.9C292.5,609.9 293.8,609.9 295,610C296.2,610 297.4,610.1 298.7,610.1C299.9,610.2 301.1,610.2 302.4,610.3C303.6,610.3 304.8,610.4 306,610.4C307.3,610.5 308.5,610.6 309.7,610.7C310.9,610.7 312.2,610.8 313.4,610.9C314.6,611 315.9,611.1 317.1,611.2C318.3,611.2 319.5,611.3 320.8,611.4C322,611.6 323.2,611.7 324.4,611.8C325.6,611.9 326.9,612 328.1,612.1C329.3,612.3 330.5,612.4 331.8,612.5C333,612.6 334.2,612.8 335.4,612.9C336.6,613.1 337.9,613.2 339.1,613.3C340.3,613.5 341.5,613.6 342.7,613.8C344,614 345.8,614.3 346.4,614.4L346.4,614.4C345.8,614.5 343.9,614.8 342.7,615C341.4,615.2 340.2,615.3 338.9,615.4C337.7,615.5 336.5,615.6 335.2,615.7C334,615.7 332.7,615.8 331.5,615.8C330.3,615.9 329,615.9 327.8,615.9C326.6,615.9 325.3,615.9 324.1,615.9C322.9,615.9 321.6,615.8 320.4,615.8C319.2,615.7 318,615.6 316.7,615.5C315.5,615.4 314.3,615.3 313.1,615.2C311.8,615.1 310.6,614.9 309.4,614.8C308.2,614.6 307,614.4 305.8,614.2C304.5,614 303.3,613.8 302.1,613.6C300.9,613.4 299.7,613.1 298.5,612.8C297.3,612.6 296,612.3 294.8,612C293.6,611.7 292.4,611.4 291.2,611.1C290,610.7 288.2,610.1 287.6,609.9Z" fill="#1d1d1b"/><rect x="311.9" y="608.6" width="8.2" height="3.6" fill="#1d1d1b" transform="rotate(4.4 316 610.4)"/>
<path d="M327.1,607.4C327.8,607.3 330,606.9 331.4,606.7C332.9,606.5 334.3,606.3 335.8,606.1C337.2,606 338.7,605.9 340.1,605.7C341.5,605.6 343,605.5 344.4,605.4C345.9,605.3 347.3,605.3 348.7,605.2C350.2,605.2 351.6,605.1 353.1,605.1C354.5,605.1 355.9,605.1 357.4,605.1C358.8,605.2 360.3,605.2 361.7,605.3C363.1,605.3 364.6,605.4 366,605.5C367.4,605.6 368.9,605.7 370.3,605.8C371.7,605.9 373.2,606.1 374.6,606.2C376,606.4 377.4,606.6 378.9,606.8C380.3,607 381.7,607.2 383.2,607.4C384.6,607.7 386,607.9 387.4,608.2C388.9,608.4 390.3,608.7 391.7,609C393.2,609.4 395.3,609.9 396,610.1L396,610.1C395.3,610.1 393.1,610.2 391.7,610.2C390.2,610.2 388.8,610.2 387.4,610.2C385.9,610.2 384.5,610.2 383.1,610.2C381.6,610.2 380.2,610.1 378.7,610.1C377.3,610.1 375.9,610.1 374.4,610C373,610 371.6,610 370.1,609.9C368.7,609.9 367.3,609.9 365.8,609.8C364.4,609.8 363,609.7 361.5,609.6C360.1,609.6 358.6,609.5 357.2,609.5C355.8,609.4 354.3,609.3 352.9,609.3C351.5,609.2 350,609.1 348.6,609C347.2,608.9 345.7,608.9 344.3,608.8C342.9,608.7 341.4,608.6 340,608.5C338.6,608.4 337.1,608.3 335.7,608.2C334.3,608.1 332.8,608 331.4,607.9C330,607.7 327.8,607.5 327.1,607.4Z" fill="#1d1d1b"/><rect x="355.3" y="608.5" width="8.2" height="3.6" fill="#1d1d1b" transform="rotate(2.2 359.4 610.3)"/>
<path d="M434.5,614.2C435.1,614.2 437,614.1 438.2,614.1C439.4,614.1 440.6,614.1 441.9,614.1C443.1,614.1 444.3,614.2 445.6,614.2C446.8,614.2 448,614.2 449.2,614.3C450.5,614.3 451.7,614.3 452.9,614.4C454.2,614.4 455.4,614.4 456.6,614.5C457.8,614.5 459.1,614.6 460.3,614.7C461.5,614.7 462.7,614.8 464,614.9C465.2,614.9 466.4,615 467.6,615.1C468.9,615.2 470.1,615.2 471.3,615.3C472.5,615.4 473.8,615.5 475,615.6C476.2,615.7 477.4,615.8 478.6,615.9C479.9,616 481.1,616.1 482.3,616.2C483.5,616.4 484.8,616.5 486,616.6C487.2,616.7 488.4,616.8 489.6,617C490.9,617.1 492.7,617.4 493.3,617.5L493.3,617.5C492.7,617.6 490.8,618 489.6,618.2C488.3,618.4 487.1,618.5 485.9,618.6C484.6,618.8 483.4,618.9 482.2,619C480.9,619.1 479.7,619.2 478.5,619.2C477.2,619.3 476,619.4 474.8,619.4C473.5,619.4 472.3,619.4 471.1,619.4C469.8,619.4 468.6,619.4 467.4,619.4C466.2,619.4 464.9,619.3 463.7,619.2C462.5,619.2 461.3,619.1 460,619C458.8,618.9 457.6,618.8 456.4,618.6C455.2,618.5 453.9,618.3 452.7,618.2C451.5,618 450.3,617.8 449.1,617.6C447.8,617.4 446.6,617.2 445.4,616.9C444.2,616.7 443,616.4 441.8,616.2C440.5,615.9 439.3,615.6 438.1,615.3C436.9,615 435.1,614.4 434.5,614.2Z" fill="#1d1d1b"/><rect x="458.7" y="612.3" width="8.2" height="3.6" fill="#1d1d1b" transform="rotate(3.2 462.8 614.1)"/>
<path d="M16,628.8C17,628.7 16.8,628.9 21.9,628.3C27,627.7 36.5,627.1 46.7,625.2C57,623.3 71.2,619.6 83.4,616.9C95.7,614.1 108,611 120.2,608.7C132.4,606.4 144.7,604.7 156.9,603.2C169.1,601.8 181.4,600.8 193.6,600C205.8,599.2 221.3,598.6 230.3,598.2C239.3,597.8 244.9,597.7 247.8,597.6" fill="none" stroke="#6e1f18" stroke-width="3.7"/>
<path d="M110.1,625.4C114.8,625.3 127.6,624.9 138.5,624.6C149.4,624.3 164.6,623.9 175.3,623.4C186,622.9 193.6,622.9 202.8,621.5C212,620.1 222.4,616.9 230.3,615.1C238.2,613.4 243.7,612.3 250,611C256.4,609.7 262.3,608.5 268.4,607.3C274.5,606.1 280.6,604.7 286.7,603.6C292.8,602.5 299,601.6 305.1,600.8C311.2,600 314.2,599.4 323.4,598.6C332.6,597.8 346.7,596.5 360.2,596C373.7,595.5 396.9,595.8 404.2,595.8" fill="none" stroke="#6e1f18" stroke-width="3.7"/>
<path d="M278.5,620.6C286,620.9 309.8,622 323.4,622.1C337,622.2 349.5,622.2 360.2,621.5C370.9,620.8 378.5,619.3 387.7,617.8C396.9,616.3 406.1,614.3 415.3,612.3C424.5,610.3 433.6,607.8 442.8,605.9C452,604 461.6,601.9 470.3,600.8C479,599.7 489.8,599.8 495.1,599.5C500.4,599.2 500.9,599.3 502,599.3" fill="none" stroke="#6e1f18" stroke-width="3.7"/>
<polygon points="89.5,611.2 120.5,606.2 104.7,601.7 104.1,604.1 107.8,605.4 89.1,608.4" fill="#000"/>
<polygon points="114.7,617.4 84.2,622.6 100.1,627 100.7,624.6 96.9,623.3 115.2,620.2" fill="#000"/>
<polygon points="246.5,608.7 277.5,603.7 261.7,599.2 261.1,601.6 264.8,602.9 246.1,605.9" fill="#000"/>
<polygon points="271.7,614.9 241.2,620.1 257.1,624.5 257.7,622.1 253.9,620.8 272.2,617.7" fill="#000"/>
<polygon points="400,609.7 431,604.7 415.2,600.2 414.6,602.6 418.3,603.9 399.6,606.9" fill="#000"/>
<polygon points="425.2,615.9 394.7,621.1 410.6,625.5 411.2,623.1 407.4,621.8 425.7,618.7" fill="#000"/>
<polygon points="451,530.5 467.9,523.8 464.6,516.4 486.1,525.8 477,547.5 474.3,539.9 457.4,546.7" fill="#fff" stroke="#000" stroke-width="1.7" stroke-linejoin="miter"/>
<polygon points="79.1,695 62.2,701.7 65.4,709 43.9,699.5 53.1,677.9 55.8,685.5 72.7,678.8" fill="#fff" stroke="#000" stroke-width="1.7" stroke-linejoin="miter"/>
</g>
<path d="M29.2,536.1 V496.2 H68.3" fill="none" stroke="#000" stroke-width="3.7"/><text x="36.3" y="519.2" font-size="14" textLength="45.6" lengthAdjust="spacingAndGlyphs" fill="#000">100 km</text>
<rect x="20.5" y="489.1" width="476.2" height="244" fill="none" stroke="#1d1d1b" stroke-width="3.7"/><rect x="466.9" y="697.9" width="29.7" height="35.1" fill="#fff" stroke="#1d1d1b" stroke-width="3.7"/><text x="481" y="726.6" font-size="33" text-anchor="middle" fill="#000">b</text>
<clipPath id="clipc"><rect x="19.8" y="827.8" width="476.1" height="245"/></clipPath>
<g clip-path="url(#clipc)">
<path d="M16,945.6C17,945.6 16.8,945.6 21.9,945.5C27,945.4 38.6,945.1 46.7,944.9C54.8,944.7 63.5,945 70.6,944.2C77.6,943.4 82.6,942.2 89,940C95.4,937.8 102.8,933.5 109.2,930.8C115.6,928 121.4,925.4 127.5,923.5C133.6,921.6 141,920 145.9,919.2C150.8,918.4 153.5,918.5 156.9,918.9C160.3,919.2 162.4,919.9 166.1,921.3C169.8,922.7 174.3,925.4 178.9,927.1C183.5,928.8 188.1,930.3 193.6,931.4C199.1,932.5 204.3,933.2 212,933.6C219.7,934 233.2,933.9 239.5,933.9C245.8,933.9 245.2,934.1 250,933.4C254.8,932.7 262.9,931 268.4,929.5C273.9,928 277.6,925.9 283.1,924.4C288.6,922.9 295.6,921.3 301.4,920.3C307.2,919.3 313.6,918.2 317.9,918.5C322.2,918.8 324,920.9 327.1,922.2C330.2,923.5 330.8,925.3 336.3,926.2C341.8,927.1 350.1,927.3 360.2,927.7C370.3,928.1 386.8,928.3 396.9,928.4C407,928.5 414.1,928.8 420.8,928.4C427.5,928 432.1,927 437.3,926.2C442.5,925.4 446.5,924.1 452,923.5C457.5,922.9 465.4,922.4 470.3,922.5C475.2,922.6 477.4,923.1 481.4,924C485.4,924.9 490.8,926.7 494.2,927.7C497.6,928.7 500.7,929.6 502,930L502,973.3C500.7,972.9 497.9,972.2 494.2,971.2C490.4,970.2 486.5,968.6 479.5,967.5C472.5,966.4 460.9,964.9 452,964.4C443.1,963.9 433.9,964.1 426.3,964.8C418.7,965.5 412.5,966.7 406.1,968.4C399.7,970.1 394.8,973.2 387.7,974.9C380.6,976.6 369.9,978 363.8,978.5C357.7,979 355.3,978.9 351,978C346.7,977.1 341.2,974.9 338.1,973C335,971.1 334.8,967.9 332.6,966.6C330.4,965.3 328.8,965.5 325,965.3C321.2,965.1 315.9,965.1 310,965.3C304.1,965.4 296.2,965.7 289.5,966.2C282.8,966.7 275.3,967.9 270,968.4C264.7,968.9 263,968.6 257.9,969.4C252.8,970.2 245.6,971.5 239.5,973C233.4,974.5 226.4,977.2 221.2,978.5C216,979.8 212.3,980.7 208.3,980.9C204.3,981.1 201,980.5 197.3,979.8C193.6,979.1 190,978 186.3,976.7C182.6,975.4 179.3,973.3 175.3,972.1C171.3,970.9 168.5,969.9 162.4,969.4C156.3,968.9 147.1,969.3 138.5,969.4C129.9,969.5 120.2,969.6 111,969.9C101.8,970.2 90.4,970.5 83.4,971.2C76.4,971.9 74,972.9 68.8,974.3C63.6,975.7 57.4,978.6 52.2,979.8C47,981 42.5,981.7 37.5,981.7C32.5,981.7 25.5,980.2 21.9,979.8C18.3,979.4 17,979.4 16,979.3Z" fill="#c6c6c6"/>
<path d="M11.2,961 A30,30 0 0 0 71.2,961" fill="none" stroke="#1d1d1b" stroke-width="1.05" stroke-dasharray="4.8,3.8"/>
<path d="M119.6,942.8 A30,30 0 0 1 179.6,942.8" fill="none" stroke="#1d1d1b" stroke-width="1.05" stroke-dasharray="4.8,3.8"/>
<path d="M177.4,960.9 A30,30 0 0 0 237.4,960.9" fill="none" stroke="#1d1d1b" stroke-width="1.05" stroke-dasharray="4.8,3.8"/>
<path d="M279.7,940.1 A30,30 0 0 1 339.7,940.1" fill="none" stroke="#1d1d1b" stroke-width="1.05" stroke-dasharray="4.8,3.8"/>
<path d="M333.8,957.7 A30,30 0 0 0 393.8,957.7" fill="none" stroke="#1d1d1b" stroke-width="1.05" stroke-dasharray="4.8,3.8"/>
<path d="M435.8,940.1 A30,30 0 0 1 495.8,940.1" fill="none" stroke="#1d1d1b" stroke-width="1.05" stroke-dasharray="4.8,3.8"/>
<path d="M16,946.2 L16.3,946.2 L16.6,946.2 L17,946.2 L17.4,946.2 L18.1,946.2 L19,946.2 L20.2,946.1 L21.9,946.1 L24.1,946 L26.8,946 L29.9,945.9 L33.2,945.8 L36.6,945.8 L40.1,945.7 L43.5,945.6 L46.7,945.5 L49.8,945.4 L52.9,945.4 L56,945.4 L59.1,945.4 L62.1,945.3 L65.1,945.3 L67.9,945.2 L70.7,944.9 L73.3,944.7 L75.7,944.3 L78,944 L80.2,943.5 L82.5,943 L84.7,942.4 L87,941.8 L89.4,941 L91.9,940.1 L94.4,939.1 L97,937.9 L99.6,936.7 L102.2,935.5 L104.8,934.3 L107.3,933.1 L109.8,932.1 L112.2,931.1 L114.5,930.1 L116.8,929.2 L119.1,928.3 L121.3,927.4 L123.5,926.6 L125.8,925.8 L128,925.1 L130.3,924.5 L132.7,923.9 L135.2,923.3 L137.6,922.7 L139.9,922.2 L142.2,921.7 L144.3,921.3 L146.2,921 L147.9,920.8 L149.4,920.6 L150.7,920.5 L152,920.5 L153.2,920.5 L154.3,920.5 L155.5,920.6 L156.7,920.7 L157.9,920.9 L158.9,921.1 L159.9,921.3 L160.9,921.5 L161.9,921.8 L163,922.2 L164.2,922.6 L165.4,923 L166.8,923.6 L168.2,924.2 L169.7,925 L171.3,925.7 L173,926.6 L174.7,927.4 L176.5,928.1 L178.2,928.8 L180,929.5 L181.8,930.1 L183.5,930.7 L185.4,931.2 L187.2,931.8 L189.2,932.3 L191.2,932.8 L193.2,933.2 L195.3,933.6 L197.4,934 L199.6,934.3 L201.8,934.6 L204.1,934.8 L206.5,935.1 L209.1,935.3 L211.9,935.4 L215.1,935.6 L218.6,935.7 L222.4,935.7 L226.2,935.8 L230,935.8 L233.6,935.8 L236.8,935.8 L239.5,935.7 L241.6,935.7 L243.1,935.8 L244.3,935.8 L245.4,935.8 L246.4,935.7 L247.4,935.6 L248.7,935.5 L250.3,935.2 L252.3,934.9 L254.5,934.5 L256.8,934.1 L259.3,933.5 L261.8,933 L264.3,932.4 L266.7,931.9 L268.9,931.3 L270.9,930.7 L272.9,930 L274.7,929.4 L276.4,928.7 L278.1,928 L279.9,927.4 L281.7,926.8 L283.6,926.2 L285.7,925.6 L287.9,925 L290.2,924.5 L292.5,923.9 L294.9,923.4 L297.2,923 L299.5,922.5 L301.7,922.1 L303.9,921.8 L306.1,921.4 L308.3,921 L310.5,920.7 L312.5,920.5 L314.4,920.4 L316.2,920.3 L317.8,920.3 L319.1,920.5 L320.2,920.8 L321.2,921.2 L322.1,921.6 L323.1,922.2 L324.1,922.7 L325.2,923.3 L326.3,923.9 L327.3,924.3 L328.1,924.8 L328.9,925.3 L329.9,925.9 L331,926.5 L332.3,927.1 L334,927.6 L336,928 L338.3,928.3 L340.8,928.6 L343.5,928.8 L346.4,929 L349.6,929.2 L352.9,929.3 L356.4,929.4 L360.1,929.5 L364.2,929.7 L368.7,929.8 L373.6,929.9 L378.5,930 L383.5,930.1 L388.3,930.1 L392.8,930.2 L396.9,930.2 L400.5,930.3 L403.9,930.4 L407.1,930.4 L410.1,930.4 L412.9,930.4 L415.7,930.4 L418.3,930.4 L420.9,930.2 L423.4,930.1 L425.7,929.8 L427.8,929.5 L429.9,929.2 L431.8,928.9 L433.8,928.5 L435.6,928.1 L437.6,927.8 L439.5,927.4 L441.3,927 L443.1,926.6 L444.8,926.2 L446.6,925.8 L448.4,925.4 L450.2,925.1 L452.2,924.8 L454.3,924.5 L456.6,924.3 L459,924.1 L461.4,923.9 L463.9,923.7 L466.2,923.6 L468.3,923.5 L470.3,923.4 L472,923.5 L473.5,923.5 L474.8,923.6 L476.1,923.8 L477.3,924 L478.5,924.2 L479.8,924.4 L481.2,924.7 L482.8,925 L484.4,925.4 L486.1,925.9 L487.8,926.4 L489.5,926.9 L491.1,927.4 L492.6,927.9 L494,928.3 L495.3,928.7 L496.5,929.1 L497.6,929.4 L498.7,929.7 L499.7,930 L500.5,930.2 L501.2,930.5 L501.8,930.6 L502.2,929.4 L501.6,929.2 L500.9,929 L500.1,928.7 L499.1,928.5 L498,928.1 L496.9,927.8 L495.7,927.4 L494.4,927.1 L493,926.7 L491.5,926.2 L489.9,925.7 L488.2,925.2 L486.5,924.7 L484.8,924.2 L483.1,923.7 L481.6,923.3 L480.1,923 L478.8,922.7 L477.6,922.4 L476.3,922.1 L475,921.9 L473.6,921.8 L472.1,921.6 L470.3,921.6 L468.3,921.5 L466.1,921.5 L463.8,921.5 L461.3,921.6 L458.8,921.7 L456.4,921.9 L454,922 L451.8,922.2 L449.8,922.4 L447.9,922.7 L446,923 L444.2,923.3 L442.5,923.7 L440.7,924 L438.9,924.3 L437,924.6 L435.1,924.9 L433.2,925.2 L431.3,925.5 L429.4,925.7 L427.4,926 L425.3,926.2 L423.1,926.4 L420.7,926.6 L418.2,926.7 L415.6,926.7 L412.9,926.7 L410.1,926.7 L407.1,926.7 L404,926.7 L400.6,926.6 L396.9,926.6 L392.9,926.5 L388.4,926.4 L383.5,926.4 L378.6,926.3 L373.6,926.2 L368.8,926.1 L364.3,926 L360.3,925.9 L356.6,925.7 L353.1,925.6 L349.7,925.5 L346.6,925.3 L343.8,925.1 L341.1,924.9 L338.7,924.7 L336.6,924.4 L334.9,924 L333.6,923.6 L332.6,923.2 L331.7,922.7 L330.9,922.2 L330,921.7 L329,921.1 L327.9,920.5 L326.8,920 L325.9,919.5 L324.9,918.9 L323.8,918.3 L322.6,917.8 L321.3,917.3 L319.7,916.9 L318,916.7 L316.2,916.6 L314.2,916.7 L312.1,916.8 L310,917.1 L307.8,917.4 L305.5,917.7 L303.3,918.1 L301.1,918.5 L298.8,918.9 L296.5,919.3 L294.1,919.8 L291.7,920.3 L289.4,920.9 L287,921.5 L284.8,922 L282.6,922.6 L280.6,923.2 L278.6,923.9 L276.8,924.6 L275.1,925.2 L273.4,925.9 L271.6,926.5 L269.8,927.1 L267.9,927.7 L265.8,928.3 L263.5,928.8 L261,929.4 L258.6,929.9 L256.1,930.4 L253.8,930.9 L251.6,931.3 L249.7,931.6 L248.2,931.8 L247,931.9 L246.1,932 L245.3,932.1 L244.3,932.1 L243.1,932.1 L241.6,932 L239.5,932.1 L236.8,932.1 L233.6,932.1 L230,932.1 L226.3,932.1 L222.4,932 L218.7,932 L215.2,931.9 L212.1,931.8 L209.4,931.6 L206.8,931.4 L204.5,931.2 L202.2,930.9 L200.1,930.6 L198,930.3 L196,930 L194,929.6 L192,929.2 L190.1,928.7 L188.2,928.2 L186.4,927.7 L184.7,927.2 L183,926.6 L181.2,926 L179.6,925.4 L177.9,924.7 L176.2,924 L174.6,923.2 L173,922.4 L171.4,921.6 L169.8,920.9 L168.2,920.2 L166.8,919.6 L165.4,919.1 L164.2,918.6 L163,918.3 L161.9,917.9 L160.7,917.6 L159.6,917.4 L158.4,917.2 L157.1,917.1 L155.8,916.9 L154.6,916.8 L153.3,916.8 L151.9,916.8 L150.5,916.8 L149,916.9 L147.4,917.1 L145.6,917.4 L143.6,917.7 L141.5,918.1 L139.2,918.6 L136.7,919.1 L134.3,919.7 L131.8,920.4 L129.4,921.1 L127,921.9 L124.7,922.7 L122.4,923.5 L120.1,924.4 L117.9,925.4 L115.6,926.4 L113.3,927.4 L111,928.4 L108.6,929.5 L106.2,930.7 L103.7,931.9 L101.1,933.2 L98.6,934.5 L96,935.8 L93.5,937 L91,938.1 L88.6,939 L86.3,939.8 L84.1,940.5 L82,941.2 L79.8,941.7 L77.7,942.2 L75.4,942.7 L73,943.1 L70.5,943.5 L67.8,943.8 L65,944 L62.1,944.1 L59,944.2 L56,944.2 L52.9,944.2 L49.8,944.2 L46.7,944.3 L43.5,944.4 L40.1,944.5 L36.6,944.6 L33.2,944.6 L29.8,944.7 L26.8,944.8 L24.1,944.8 L21.9,944.9 L20.2,944.9 L18.9,945 L18,945 L17.4,945 L16.9,945 L16.6,945 L16.3,945 L16,945Z" fill="#5f5f5f"/>
<path d="M16,979.9 L16.3,979.9 L16.8,980 L17.3,980 L17.9,980 L18.7,980.1 L19.5,980.2 L20.6,980.3 L21.8,980.4 L23.3,980.6 L25,980.9 L27,981.2 L29.1,981.5 L31.2,981.8 L33.4,982.1 L35.5,982.2 L37.5,982.3 L39.4,982.3 L41.2,982.2 L43.1,982 L44.9,981.8 L46.7,981.5 L48.5,981.2 L50.4,980.8 L52.3,980.4 L54.4,979.8 L56.5,979.2 L58.6,978.5 L60.7,977.7 L62.8,976.9 L65,976.2 L67,975.5 L69,975 L70.8,974.5 L72.5,974.1 L74.1,973.7 L75.6,973.3 L77.2,973 L79,972.7 L81.1,972.4 L83.5,972.2 L86.3,972 L89.5,971.8 L92.9,971.7 L96.4,971.6 L100.1,971.5 L103.8,971.4 L107.5,971.4 L111,971.3 L114.5,971.3 L118,971.3 L121.5,971.3 L125,971.2 L128.5,971.3 L131.9,971.3 L135.3,971.3 L138.5,971.2 L141.8,971.2 L145,971.2 L148.2,971.1 L151.4,971 L154.4,971 L157.3,971 L159.9,971.1 L162.3,971.2 L164.4,971.4 L166.2,971.7 L167.8,971.9 L169.2,972.3 L170.6,972.6 L171.9,973 L173.3,973.4 L174.7,973.9 L176.1,974.3 L177.5,974.9 L178.8,975.4 L180.1,976.1 L181.5,976.7 L182.8,977.3 L184.2,977.9 L185.7,978.4 L187.1,978.9 L188.5,979.4 L189.9,979.8 L191.3,980.2 L192.7,980.6 L194.1,981 L195.5,981.3 L196.9,981.6 L198.3,981.9 L199.7,982.1 L201.1,982.3 L202.5,982.5 L203.9,982.7 L205.3,982.8 L206.8,982.8 L208.4,982.7 L210,982.6 L211.5,982.5 L213.1,982.2 L214.6,981.9 L216.3,981.6 L218,981.2 L219.8,980.8 L221.7,980.3 L223.7,979.7 L225.9,979.1 L228.2,978.3 L230.6,977.6 L232.9,976.8 L235.3,976.1 L237.7,975.4 L240,974.8 L242.3,974.2 L244.6,973.7 L247,973.2 L249.4,972.7 L251.8,972.3 L254.1,971.9 L256.2,971.5 L258.2,971.2 L259.9,971 L261.4,970.8 L262.7,970.7 L264,970.7 L265.3,970.6 L266.7,970.5 L268.3,970.4 L270.2,970.2 L272.3,970 L274.6,969.7 L277,969.4 L279.5,969.1 L282,968.8 L284.6,968.5 L287.1,968.3 L289.6,968 L292.2,967.9 L294.8,967.7 L297.4,967.6 L300.1,967.5 L302.7,967.4 L305.3,967.3 L307.7,967.2 L310,967.1 L312.2,967.1 L314.3,967.1 L316.4,967 L318.3,967 L320.1,967 L321.9,967 L323.4,967.1 L324.9,967.1 L326.2,967.2 L327.4,967.3 L328.4,967.3 L329.2,967.4 L329.9,967.5 L330.5,967.6 L331,967.9 L331.6,968.2 L332.1,968.5 L332.5,969 L332.9,969.7 L333.4,970.5 L334.1,971.5 L334.8,972.6 L335.9,973.6 L337.1,974.5 L338.5,975.4 L340,976.1 L341.7,976.9 L343.4,977.6 L345.2,978.3 L347.1,978.9 L348.9,979.4 L350.6,979.8 L352.2,980.1 L353.7,980.4 L355.2,980.5 L356.6,980.6 L358.2,980.7 L359.9,980.6 L361.8,980.5 L364,980.3 L366.5,980.1 L369.3,979.8 L372.4,979.4 L375.7,979 L378.9,978.5 L382.2,977.9 L385.3,977.3 L388.1,976.7 L390.8,976 L393.3,975.2 L395.6,974.3 L397.8,973.4 L400,972.5 L402.1,971.6 L404.3,970.9 L406.6,970.2 L408.9,969.6 L411.3,969 L413.7,968.5 L416.1,968 L418.5,967.6 L421.1,967.2 L423.7,966.9 L426.5,966.6 L429.4,966.3 L432.4,966.1 L435.5,965.9 L438.7,965.8 L442,965.7 L445.3,965.6 L448.6,965.6 L451.9,965.7 L455.3,965.9 L458.9,966.1 L462.6,966.4 L466.3,966.7 L469.9,967.1 L473.4,967.5 L476.5,967.9 L479.4,968.2 L481.9,968.6 L484.1,969.1 L486.1,969.5 L487.9,970 L489.6,970.5 L491.1,971 L492.6,971.4 L494,971.8 L495.4,972.2 L496.7,972.5 L497.8,972.8 L498.8,973.1 L499.8,973.4 L500.6,973.6 L501.3,973.8 L501.8,973.9 L502.2,972.7 L501.6,972.5 L500.9,972.3 L500.1,972.1 L499.2,971.9 L498.1,971.6 L497,971.3 L495.7,970.9 L494.4,970.6 L493,970.2 L491.5,969.8 L489.9,969.3 L488.3,968.8 L486.4,968.3 L484.4,967.8 L482.1,967.2 L479.6,966.8 L476.8,966.3 L473.6,965.7 L470.2,965.2 L466.6,964.7 L462.9,964.2 L459.2,963.8 L455.5,963.4 L452.1,963.1 L448.7,962.9 L445.3,962.7 L442,962.6 L438.7,962.6 L435.4,962.6 L432.2,962.7 L429.1,962.8 L426.1,963 L423.3,963.2 L420.6,963.6 L418,964 L415.4,964.4 L412.9,964.9 L410.5,965.4 L408.1,966 L405.6,966.6 L403.2,967.3 L400.9,968.2 L398.6,969 L396.4,969.9 L394.2,970.8 L392,971.7 L389.7,972.4 L387.3,973.1 L384.5,973.7 L381.5,974.3 L378.4,974.8 L375.1,975.3 L372,975.7 L368.9,976.1 L366.1,976.4 L363.6,976.7 L361.5,976.8 L359.7,976.9 L358.2,977 L356.8,976.9 L355.5,976.9 L354.2,976.7 L352.9,976.5 L351.4,976.2 L349.8,975.8 L348.2,975.3 L346.5,974.8 L344.8,974.1 L343.1,973.5 L341.6,972.8 L340.2,972.1 L339.1,971.5 L338.3,970.8 L337.7,970.2 L337.1,969.4 L336.6,968.6 L336.1,967.7 L335.4,966.8 L334.6,965.8 L333.6,965 L332.6,964.5 L331.6,964.1 L330.6,963.9 L329.6,963.7 L328.6,963.6 L327.6,963.6 L326.4,963.5 L325.1,963.5 L323.6,963.4 L321.9,963.3 L320.2,963.3 L318.3,963.3 L316.3,963.3 L314.3,963.4 L312.1,963.4 L310,963.5 L307.6,963.5 L305.2,963.6 L302.6,963.7 L300,963.8 L297.3,963.9 L294.6,964 L291.9,964.2 L289.4,964.4 L286.8,964.6 L284.2,964.8 L281.6,965.1 L279,965.5 L276.5,965.8 L274.1,966.1 L271.9,966.3 L269.8,966.6 L268,966.7 L266.5,966.8 L265.1,966.9 L263.8,967 L262.4,967 L261,967.2 L259.4,967.3 L257.6,967.6 L255.6,967.9 L253.4,968.2 L251.1,968.7 L248.7,969.1 L246.3,969.6 L243.8,970.1 L241.4,970.6 L239,971.2 L236.7,971.8 L234.3,972.5 L231.8,973.3 L229.4,974.1 L227.1,974.8 L224.8,975.5 L222.7,976.2 L220.7,976.7 L218.9,977.2 L217.1,977.6 L215.5,978 L213.9,978.3 L212.5,978.6 L211,978.8 L209.6,978.9 L208.2,979.1 L206.8,979.1 L205.5,979.1 L204.2,979 L202.9,978.9 L201.6,978.7 L200.3,978.5 L199,978.2 L197.7,978 L196.3,977.7 L195,977.4 L193.7,977.1 L192.3,976.7 L191,976.3 L189.6,975.9 L188.3,975.4 L186.9,975 L185.6,974.5 L184.3,973.9 L183,973.3 L181.7,972.7 L180.3,972.1 L178.9,971.4 L177.4,970.9 L175.9,970.3 L174.4,969.9 L173,969.5 L171.6,969 L170.1,968.7 L168.5,968.3 L166.7,968 L164.8,967.8 L162.5,967.6 L160,967.4 L157.3,967.3 L154.4,967.3 L151.3,967.4 L148.2,967.4 L145,967.5 L141.7,967.5 L138.5,967.6 L135.2,967.6 L131.9,967.7 L128.4,967.8 L125,967.9 L121.4,968 L117.9,968.1 L114.4,968.3 L111,968.5 L107.4,968.6 L103.8,968.8 L100,969 L96.3,969.2 L92.7,969.4 L89.3,969.7 L86.1,969.9 L83.3,970.2 L80.8,970.6 L78.7,970.9 L76.9,971.3 L75.2,971.7 L73.6,972.1 L72.1,972.6 L70.4,973.1 L68.6,973.6 L66.6,974.2 L64.5,975 L62.4,975.8 L60.3,976.6 L58.2,977.3 L56.1,978.1 L54,978.7 L52.1,979.2 L50.2,979.6 L48.3,980 L46.5,980.4 L44.7,980.6 L42.9,980.8 L41.2,981 L39.3,981.1 L37.5,981.1 L35.6,981 L33.5,980.9 L31.4,980.6 L29.2,980.3 L27.2,980 L25.2,979.7 L23.5,979.4 L22,979.2 L20.7,979.1 L19.7,979 L18.8,978.9 L18,978.8 L17.4,978.8 L16.9,978.8 L16.4,978.7 L16,978.7Z" fill="#5f5f5f"/>
<path d="M99.2,951.2C100.5,951.6 104.6,952.4 107,953.3C109.4,954.2 111.3,955.3 113.5,956.5C115.7,957.7 117.9,959.2 120.2,960.6C122.5,962 125.4,963.7 127.5,965C129.6,966.3 130.9,967.6 133,968.3C135.1,969 138.8,969.2 140,969.4" fill="none" stroke="#5f5f5f" stroke-width="3.2" stroke-linecap="round"/>
<path d="M226,935.6C227,936.1 230.2,937.3 232,938.4C233.8,939.5 235.2,940.9 237,942.4C238.8,943.9 240.8,945.9 243,947.4C245.2,948.9 247.3,950.6 250,951.5C252.7,952.4 255.9,952.3 259,952.6C262.1,952.9 265.3,952.5 268.4,953.3C271.5,954.1 274.9,956.1 277.5,957.6C280.1,959.1 281.8,960.6 284,962C286.2,963.4 289.8,965.3 291,966" fill="none" stroke="#5f5f5f" stroke-width="3.2" stroke-linecap="round"/>
<path d="M397.8,933.9C399.2,934.8 403.2,937.5 406.1,939.1C409,940.7 412.2,942.3 415.3,943.7C418.4,945.1 421.1,946.6 424.4,947.3C427.7,948 431.1,948.3 435,948C438.9,947.7 443.6,946.1 448,945.6C452.4,945.1 457.5,944.5 461.2,944.8C464.9,945.1 466.6,945.8 470.3,947.3C474,948.8 479.2,952 483.2,953.8C487.2,955.6 491.1,957.1 494.2,958.3C497.3,959.5 500.7,960.5 502,961" fill="none" stroke="#5f5f5f" stroke-width="3.2" stroke-linecap="round"/>
<polygon points="149.6,947.3 186.3,943.1 193.6,945.5 199.1,953.8 197.3,956.5 162.4,959.6 153.2,957.4 146.8,951" fill="#c8d88c"/>
<polygon points="333.5,944.2 367.5,940 378.5,940.9 387.7,947.3 388.6,952.8 352.8,957.1 341.8,956.5 330.8,948.2" fill="#c8d88c"/>
<path d="M152,945.6C151.3,945.9 148.7,946.7 147.8,947.6C146.9,948.5 146.3,949.9 146.6,951.2C146.9,952.5 148.1,954.1 149.5,955.3C150.9,956.5 152.8,957.8 155,958.6C157.2,959.4 161.7,960 163,960.3" fill="none" stroke="#1d1d1b" stroke-width="5.2" stroke-linecap="butt"/>
<path d="M184,943.2C185.2,943.3 189.5,943.1 191.5,943.6C193.5,944.1 194.7,945.2 196,946.4C197.3,947.6 198.5,949.5 199.2,951C199.9,952.5 200.2,954.7 200.4,955.4" fill="none" stroke="#1d1d1b" stroke-width="5.2" stroke-linecap="butt"/>
<path d="M336,942.6C335.3,942.9 332.7,943.7 331.8,944.6C330.9,945.5 330.3,946.9 330.6,948.2C330.9,949.5 331.9,951 333.5,952.3C335.1,953.6 337.2,955.3 340,956.2C342.8,957.1 348.3,957.5 350,957.8" fill="none" stroke="#1d1d1b" stroke-width="5.2" stroke-linecap="butt"/>
<path d="M366,940C367.4,940 372,939.4 374.5,939.8C377,940.2 379,941.2 381,942.4C383,943.6 385.1,945.3 386.5,947C387.9,948.7 389.1,951.7 389.6,952.6" fill="none" stroke="#1d1d1b" stroke-width="5.2" stroke-linecap="butt"/>
<rect x="150.9" y="950.9" width="8" height="4.6" fill="#1d1d1b" transform="rotate(38 154.9 953.2)"/>
<rect x="188.6" y="946.6" width="8" height="4.6" fill="#1d1d1b" transform="rotate(42 192.6 948.9)"/>
<rect x="334.8" y="948" width="8" height="4.6" fill="#1d1d1b" transform="rotate(38 338.8 950.3)"/>
<rect x="376.2" y="942.5" width="8" height="4.6" fill="#1d1d1b" transform="rotate(42 380.2 944.8)"/>
<line x1="16" y1="961.4" x2="232.2" y2="935" stroke="#6e1f18" stroke-width="3.8"/>
<line x1="122" y1="967.2" x2="397.8" y2="933.6" stroke="#6e1f18" stroke-width="3.8"/>
<line x1="289.5" y1="965.7" x2="502" y2="938.1" stroke="#6e1f18" stroke-width="3.8"/>
<g transform="rotate(0 214.7 946.8)"><path d="M214.1,953.4 A6.6,6.6 0 1 1 221.3,947" fill="none" stroke="#000" stroke-width="2.2"/><polygon points="221.2,950.2 224.3,945.7 218.3,945.5" fill="#000"/></g>
<g transform="rotate(0 398.7 944.2)"><path d="M398.1,950.8 A6.6,6.6 0 1 1 405.3,944.4" fill="none" stroke="#000" stroke-width="2.2"/><polygon points="405.2,947.6 408.3,943.1 402.3,942.9" fill="#000"/></g>
<polygon points="28.4,953 58.5,949.4 42.9,944.2 42.2,946.6 45.9,948.1 28.1,950.2" fill="#000"/>
<polygon points="56.8,963.2 26,967 41.6,972.1 42.4,969.7 38.6,968.3 57.1,966" fill="#000"/>
<polygon points="123.8,961.6 150,958.4 134.4,953.3 133.6,955.7 137.4,957.1 123.5,958.8" fill="#000"/>
<polygon points="155.1,970.8 128.8,973.2 144.3,978.8 145.1,976.4 141.4,974.9 155.4,973.6" fill="#000"/>
<polygon points="300.5,959.2 331.5,955.4 315.9,950.3 315.1,952.7 318.9,954.1 300.2,956.4" fill="#000"/>
<polygon points="329,969 298,972.8 313.6,977.9 314.4,975.5 310.6,974.1 329.3,971.8" fill="#000"/>
<polygon points="445,865.8 461.9,859 458.6,851.7 480.1,860.9 471.2,882.6 468.4,875.1 451.6,882" fill="#fff" stroke="#000" stroke-width="1.7" stroke-linejoin="miter"/>
<polygon points="71.9,1030.2 55,1036.9 58.2,1044.2 36.7,1034.7 46,1013.1 48.6,1020.7 65.6,1014" fill="#fff" stroke="#000" stroke-width="1.7" stroke-linejoin="miter"/>
</g>
<path d="M29.2,874.9 V835 H68.3" fill="none" stroke="#000" stroke-width="3.7"/><text x="36.3" y="858.2" font-size="14" textLength="45.6" lengthAdjust="spacingAndGlyphs" fill="#000">100 km</text>
<rect x="19.9" y="827.9" width="476" height="244.9" fill="none" stroke="#1d1d1b" stroke-width="3.7"/><rect x="466" y="1044.8" width="29.9" height="28" fill="#fff" stroke="#1d1d1b" stroke-width="3.7"/><text x="481.4" y="1065.7" font-size="33" text-anchor="middle" fill="#000">c</text>
<clipPath id="clipd"><rect x="916.8" y="149.7" width="479.3" height="245.4"/></clipPath>
<g clip-path="url(#clipd)">
<polygon points="1081.7,198.8 1126.7,221 1065.7,342.4 1020.8,320.1" fill="#faf5b8"/>
<polygon points="1239.7,197.1 1281.8,217.5 1224.2,332.8 1182.6,311.7" fill="#faf5b8"/>
<path d="M912,231.8C913.2,232 910.4,231.4 919.2,233.2C928.1,234.9 948.3,239.2 965.1,242.3C981.9,245.4 1007.7,249.6 1020.2,251.5C1032.7,253.4 1035,253.3 1040,253.6C1045,253.8 1046.3,253.8 1050,253C1053.7,252.2 1058.6,250.6 1062.4,248.8C1066.2,247.1 1069.3,244.5 1073,242.5C1076.7,240.5 1079.4,238.8 1084.4,236.8C1089.4,234.8 1096.7,231.7 1102.8,230.4C1108.9,229.1 1113.5,228.8 1121.2,228.9C1128.9,229.1 1140.6,230.3 1148.7,231.3C1156.8,232.3 1163.7,233.7 1170,235C1176.3,236.3 1181.7,238.2 1186.7,239.2C1191.7,240.2 1196,240.6 1200,240.8C1204,241 1206.1,240.8 1210.6,240.5C1215.1,240.2 1221.3,240.1 1227.1,238.7C1232.9,237.3 1239.4,233.9 1245.5,232.2C1251.6,230.4 1256.8,228.9 1263.8,228.2C1270.8,227.5 1279.1,227.4 1287.7,228.2C1296.3,229 1304.6,231.1 1315.3,233.2C1326,235.2 1338.8,237.9 1352,240.5C1365.2,243.1 1385.9,247.2 1394.2,248.8C1402.5,250.4 1400.7,250.1 1402,250.3L1402,317C1400.7,316.6 1399.5,316.3 1394.2,314.9C1388.9,313.5 1380.4,311 1370.3,308.4C1360.2,305.8 1345.8,302.4 1333.6,299.3C1321.4,296.2 1307.6,292.6 1296.9,290.1C1286.2,287.7 1277.7,285.6 1269.4,284.6C1261.1,283.6 1253.4,283.2 1247.3,284C1241.2,284.8 1238.1,286.5 1232.6,289.2C1227.1,291.9 1219.8,297.8 1214.3,300.2C1208.8,302.6 1204.5,303.2 1199.6,303.8C1194.7,304.4 1189.9,303.9 1185,303.5C1180.1,303.1 1177.6,302.6 1170,301.1C1162.4,299.6 1149.2,296.5 1139.5,294.7C1129.8,292.9 1119,290.6 1112,290.1C1105,289.6 1101.9,290.5 1097.3,291.9C1092.7,293.3 1088.7,295.7 1084.4,298.3C1080.1,300.9 1076.2,304.8 1071.6,307.5C1067,310.2 1060.8,313.2 1056.9,314.5C1053,315.8 1051.1,315.4 1048,315.4C1044.9,315.4 1046.2,315.7 1038.5,314.5C1030.8,313.3 1014,310.5 1001.8,308.4C989.6,306.3 978.9,304.4 965.1,302C951.3,299.6 928.1,295.4 919.2,293.8C910.4,292.2 913.2,292.7 912,292.5Z" fill="#b9baba" fill-opacity="0.465"/>
<path d="M919.2,238.1C919.7,238.1 921.3,237.9 922.3,237.8C923.3,237.8 924.3,237.8 925.3,237.8C926.4,237.8 927.4,237.8 928.4,237.8C929.4,237.9 930.4,237.9 931.4,238C932.4,238.1 933.3,238.2 934.3,238.3C935.3,238.4 936.3,238.5 937.3,238.7C938.2,238.8 939.2,239 940.2,239.2C941.1,239.4 942.1,239.6 943.1,239.8C944,240 945,240.3 945.9,240.6C946.9,240.8 947.8,241.1 948.7,241.4C949.7,241.7 950.6,242.1 951.5,242.4C952.5,242.7 953.4,243.1 954.3,243.5C955.2,243.9 956.1,244.3 957.1,244.7C958,245.1 958.9,245.6 959.8,246C960.7,246.5 961.6,247 962.5,247.5C963.3,248 964.7,248.8 965.1,249.1L965.1,249.1C964.6,249 963.2,248.6 962.2,248.4C961.3,248.1 960.4,247.8 959.4,247.6C958.5,247.3 957.5,247 956.6,246.8C955.6,246.5 954.7,246.3 953.7,246C952.8,245.7 951.8,245.5 950.9,245.3C949.9,245 948.9,244.8 948,244.5C947,244.3 946.1,244 945.1,243.8C944.2,243.6 943.2,243.3 942.3,243.1C941.3,242.9 940.4,242.7 939.4,242.4C938.4,242.2 937.5,242 936.5,241.8C935.6,241.6 934.6,241.3 933.6,241.1C932.7,240.9 931.7,240.7 930.8,240.5C929.8,240.3 928.8,240.1 927.9,239.9C926.9,239.7 925.9,239.5 925,239.3C924,239.1 923,238.9 922.1,238.7C921.1,238.5 919.7,238.2 919.2,238.1Z" fill="#1d1d1b"/><rect x="938.5" y="242.4" width="8.5" height="5" fill="#1d1d1b" transform="rotate(13.5 942.8 244.9)"/>
<path d="M925.6,263.5C926.1,263.4 927.7,263.2 928.7,263.1C929.8,263 930.8,262.9 931.8,262.8C932.8,262.8 933.8,262.7 934.9,262.7C935.9,262.7 936.9,262.7 937.9,262.7C938.9,262.8 939.9,262.8 940.9,262.9C941.9,262.9 942.9,263 943.9,263.1C944.9,263.2 945.9,263.4 946.8,263.5C947.8,263.7 948.8,263.8 949.8,264C950.8,264.2 951.7,264.4 952.7,264.7C953.7,264.9 954.6,265.1 955.6,265.4C956.5,265.7 957.5,266 958.4,266.3C959.4,266.6 960.3,266.9 961.3,267.3C962.2,267.6 963.2,268 964.1,268.4C965,268.8 966,269.2 966.9,269.7C967.8,270.1 968.8,270.5 969.7,271C970.6,271.5 971.9,272.3 972.4,272.6L972.4,272.6C971.9,272.5 970.5,272.2 969.5,271.9C968.5,271.7 967.6,271.4 966.6,271.2C965.6,271 964.7,270.7 963.7,270.5C962.7,270.3 961.8,270 960.8,269.8C959.8,269.6 958.9,269.4 957.9,269.2C956.9,269 955.9,268.7 955,268.5C954,268.3 953,268.1 952.1,267.9C951.1,267.7 950.1,267.6 949.1,267.4C948.2,267.2 947.2,267 946.2,266.8C945.2,266.6 944.3,266.4 943.3,266.3C942.3,266.1 941.3,265.9 940.3,265.8C939.4,265.6 938.4,265.4 937.4,265.3C936.4,265.1 935.4,265 934.5,264.8C933.5,264.7 932.5,264.5 931.5,264.4C930.5,264.2 929.5,264.1 928.5,264C927.6,263.8 926.1,263.6 925.6,263.5Z" fill="#1d1d1b"/><rect x="944.6" y="266.5" width="8.5" height="5" fill="#1d1d1b" transform="rotate(11 948.8 269)"/>
<path d="M919.2,287.3C919.7,287.2 921.2,286.9 922.2,286.7C923.2,286.6 924.2,286.4 925.2,286.4C926.1,286.3 927.1,286.3 928.1,286.3C929,286.3 929.9,286.4 930.9,286.6C931.8,286.7 932.7,286.9 933.6,287.2C934.5,287.5 935.3,287.8 936.2,288.1C937.1,288.5 937.9,288.9 938.8,289.4C939.6,289.8 940.4,290.3 941.3,290.8C942.1,291.2 942.9,291.7 943.8,292.2C944.6,292.7 945.4,293.2 946.3,293.6C947.1,294.1 948,294.5 948.8,294.9C949.7,295.3 950.5,295.6 951.4,295.9C952.3,296.3 953.2,296.5 954.1,296.8C955,297 955.9,297.2 956.8,297.4C957.7,297.5 958.6,297.7 959.6,297.8C960.5,298 961.8,298.2 962.3,298.3L962.3,298.3C961.8,298.4 960.3,298.6 959.3,298.7C958.4,298.7 957.4,298.8 956.4,298.8C955.5,298.8 954.5,298.8 953.6,298.7C952.7,298.6 951.7,298.5 950.8,298.3C949.9,298.1 949,297.9 948.1,297.6C947.3,297.3 946.4,296.9 945.5,296.5C944.7,296.2 943.8,295.7 943,295.3C942.1,294.8 941.3,294.3 940.5,293.9C939.6,293.4 938.8,292.9 938,292.4C937.1,292 936.3,291.5 935.5,291.1C934.6,290.6 933.8,290.2 932.9,289.9C932,289.5 931.1,289.2 930.3,288.9C929.4,288.7 928.5,288.4 927.6,288.2C926.7,288.1 925.7,287.9 924.8,287.8C923.9,287.7 922.9,287.6 922,287.6C921.1,287.5 919.7,287.3 919.2,287.3Z" fill="#1d1d1b"/>
<path d="M973.3,244.2C974.1,244.1 976.7,243.7 978.4,243.6C980,243.4 981.7,243.4 983.3,243.3C985,243.3 986.6,243.3 988.3,243.3C989.9,243.4 991.5,243.5 993.1,243.7C994.7,243.9 996.3,244.1 997.8,244.4C999.4,244.7 1001,245.1 1002.5,245.5C1004,245.9 1005.6,246.3 1007.1,246.8C1008.6,247.3 1010.1,247.9 1011.6,248.4C1013.1,249 1014.6,249.6 1016.1,250.2C1017.6,250.8 1019.1,251.4 1020.6,252C1022.1,252.6 1023.6,253.2 1025.1,253.8C1026.6,254.4 1028.1,254.9 1029.6,255.5C1031.1,256.1 1032.6,256.6 1034.1,257.1C1035.6,257.7 1037.1,258.2 1038.7,258.7C1040.2,259.2 1041.7,259.7 1043.2,260.3C1044.7,260.8 1046.9,261.7 1047.7,262L1047.7,262C1046.9,261.9 1044.5,261.5 1043,261.2C1041.4,261 1039.8,260.7 1038.3,260.3C1036.7,260 1035.1,259.7 1033.6,259.3C1032,259 1030.5,258.6 1029,258.1C1027.4,257.7 1025.9,257.3 1024.4,256.8C1022.8,256.3 1021.3,255.8 1019.8,255.3C1018.3,254.7 1016.8,254.2 1015.3,253.6C1013.8,253.1 1012.3,252.5 1010.8,251.9C1009.3,251.4 1007.8,250.8 1006.3,250.3C1004.7,249.8 1003.2,249.2 1001.7,248.8C1000.2,248.3 998.7,247.8 997.1,247.4C995.6,247 994,246.6 992.5,246.3C990.9,246 989.3,245.7 987.7,245.5C986.2,245.3 984.6,245.1 983,244.9C981.4,244.8 979.7,244.7 978.1,244.5C976.5,244.4 974.1,244.3 973.3,244.2Z" fill="#1d1d1b"/>
<path d="M988,259.8C988.8,260 991.3,260.7 992.9,261.2C994.5,261.7 996.2,262.3 997.8,262.8C999.4,263.3 1001,263.9 1002.6,264.4C1004.2,265 1005.9,265.5 1007.5,266.1C1009.1,266.6 1010.7,267.2 1012.3,267.8C1013.9,268.3 1015.5,268.9 1017.1,269.5C1018.7,270.1 1020.3,270.7 1021.9,271.3C1023.5,271.9 1025.1,272.5 1026.6,273.1C1028.2,273.7 1029.8,274.3 1031.4,275C1033,275.6 1034.6,276.2 1036.1,276.9C1037.7,277.5 1039.3,278.1 1040.9,278.8C1042.4,279.5 1044,280.1 1045.6,280.8C1047.1,281.5 1048.7,282.1 1050.3,282.8C1051.8,283.5 1053.4,284.2 1054.9,284.9C1056.5,285.5 1058,286.2 1059.6,287C1061.1,287.7 1063.4,288.8 1064.2,289.2L1064.2,289.2C1063.4,289 1060.8,288.5 1059.1,288.1C1057.5,287.7 1055.8,287.3 1054.2,286.8C1052.5,286.4 1050.9,286 1049.2,285.5C1047.6,285 1045.9,284.5 1044.3,284C1042.7,283.5 1041,283 1039.4,282.5C1037.8,282 1036.2,281.4 1034.6,280.9C1033,280.3 1031.4,279.8 1029.8,279.2C1028.2,278.6 1026.6,278 1025,277.4C1023.4,276.8 1021.8,276.2 1020.2,275.5C1018.7,274.9 1017.1,274.2 1015.5,273.5C1014,272.9 1012.4,272.2 1010.9,271.5C1009.3,270.8 1007.7,270.1 1006.2,269.3C1004.7,268.6 1003.1,267.9 1001.6,267.1C1000.1,266.4 998.5,265.6 997,264.8C995.5,264 994,263.2 992.5,262.4C991,261.6 988.7,260.2 988,259.8Z" fill="#1d1d1b"/><rect x="1015.7" y="274.4" width="8.5" height="5" fill="#1d1d1b" transform="rotate(21.1 1019.9 276.9)"/>
<path d="M979.8,281.3C980.5,281.3 982.5,281.4 983.9,281.5C985.2,281.6 986.6,281.8 987.9,281.9C989.2,282.1 990.6,282.3 991.9,282.5C993.2,282.7 994.5,282.9 995.9,283.1C997.2,283.3 998.5,283.5 999.8,283.8C1001.1,284 1002.4,284.3 1003.7,284.6C1005,284.9 1006.3,285.2 1007.6,285.5C1008.9,285.8 1010.2,286.2 1011.5,286.5C1012.7,286.9 1014,287.2 1015.3,287.6C1016.6,288 1017.8,288.4 1019.1,288.9C1020.3,289.3 1021.6,289.7 1022.9,290.2C1024.1,290.6 1025.4,291.1 1026.6,291.6C1027.9,292.1 1029.1,292.6 1030.3,293.1C1031.6,293.6 1032.8,294.1 1034,294.7C1035.2,295.2 1036.5,295.8 1037.7,296.4C1038.9,297 1040.7,298 1041.3,298.3L1041.3,298.3C1040.7,298.1 1038.7,297.7 1037.4,297.3C1036.1,297 1034.9,296.7 1033.6,296.3C1032.3,296 1031,295.6 1029.7,295.3C1028.4,294.9 1027.2,294.6 1025.9,294.2C1024.6,293.9 1023.3,293.5 1022,293.2C1020.8,292.8 1019.5,292.5 1018.2,292.1C1016.9,291.8 1015.6,291.4 1014.3,291.1C1013.1,290.7 1011.8,290.3 1010.5,290C1009.2,289.6 1007.9,289.3 1006.7,288.9C1005.4,288.6 1004.1,288.2 1002.8,287.9C1001.5,287.5 1000.3,287.1 999,286.8C997.7,286.4 996.4,286.1 995.1,285.7C993.9,285.3 992.6,285 991.3,284.6C990,284.3 988.7,283.9 987.5,283.6C986.2,283.2 984.9,282.8 983.6,282.5C982.3,282.1 980.4,281.5 979.8,281.3Z" fill="#1d1d1b"/>
<path d="M971.5,296.9C972.3,297.1 974.7,297.6 976.3,298C977.9,298.3 979.5,298.7 981.1,299.1C982.7,299.5 984.3,299.9 985.9,300.3C987.5,300.7 989.1,301.1 990.6,301.5C992.2,301.9 993.8,302.3 995.4,302.7C997,303.1 998.6,303.5 1000.2,303.9C1001.8,304.3 1003.4,304.7 1005,305.1C1006.6,305.5 1008.1,305.9 1009.7,306.3C1011.3,306.7 1012.9,307.1 1014.5,307.6C1016.1,308 1017.7,308.4 1019.2,308.8C1020.8,309.2 1022.4,309.7 1024,310.1C1025.6,310.5 1027.2,310.9 1028.7,311.4C1030.3,311.8 1031.9,312.2 1033.5,312.7C1035.1,313.1 1036.7,313.5 1038.2,314C1039.8,314.4 1041.4,314.8 1043,315.3C1044.6,315.7 1046.9,316.5 1047.7,316.7L1047.7,316.7C1046.9,316.6 1044.4,316.5 1042.7,316.4C1041,316.2 1039.4,316 1037.8,315.8C1036.1,315.6 1034.5,315.4 1032.8,315.2C1031.2,315 1029.6,314.7 1027.9,314.5C1026.3,314.2 1024.7,313.9 1023.1,313.6C1021.5,313.3 1019.9,313 1018.3,312.6C1016.6,312.3 1015,311.9 1013.4,311.6C1011.8,311.2 1010.3,310.8 1008.7,310.4C1007.1,310 1005.5,309.5 1003.9,309.1C1002.3,308.6 1000.8,308.2 999.2,307.7C997.6,307.2 996.1,306.7 994.5,306.2C993,305.6 991.4,305.1 989.8,304.6C988.3,304 986.8,303.4 985.2,302.8C983.7,302.2 982.1,301.6 980.6,301C979.1,300.4 977.5,299.7 976,299.1C974.5,298.4 972.3,297.3 971.5,296.9Z" fill="#1d1d1b"/><rect x="1005.8" y="302.4" width="8.5" height="5" fill="#1d1d1b" transform="rotate(14.6 1010.1 304.9)"/>
<path d="M1091.8,233.7C1092.3,233.7 1093.8,233.5 1094.8,233.5C1095.7,233.5 1096.7,233.5 1097.7,233.5C1098.6,233.5 1099.6,233.6 1100.6,233.6C1101.5,233.7 1102.5,233.8 1103.4,233.9C1104.3,234 1105.3,234.1 1106.2,234.2C1107.1,234.4 1108.1,234.5 1109,234.7C1109.9,234.9 1110.8,235.1 1111.7,235.3C1112.6,235.5 1113.5,235.7 1114.4,236C1115.3,236.3 1116.2,236.5 1117.1,236.8C1118,237.1 1118.9,237.4 1119.8,237.8C1120.6,238.1 1121.5,238.5 1122.4,238.8C1123.2,239.2 1124.1,239.6 1125,240C1125.8,240.4 1126.7,240.9 1127.5,241.3C1128.3,241.8 1129.2,242.2 1130,242.7C1130.8,243.2 1131.7,243.7 1132.5,244.3C1133.3,244.8 1134.5,245.7 1134.9,246L1134.9,246C1134.5,245.9 1133.1,245.5 1132.2,245.2C1131.3,244.9 1130.4,244.6 1129.5,244.3C1128.7,244.1 1127.8,243.8 1126.9,243.5C1126,243.2 1125.1,242.9 1124.2,242.7C1123.3,242.4 1122.4,242.1 1121.5,241.8C1120.6,241.6 1119.7,241.3 1118.8,241C1117.9,240.8 1117,240.5 1116.2,240.2C1115.3,240 1114.4,239.7 1113.5,239.5C1112.6,239.2 1111.7,239 1110.8,238.7C1109.9,238.5 1109,238.2 1108.1,238C1107.2,237.7 1106.3,237.5 1105.4,237.2C1104.5,237 1103.6,236.7 1102.7,236.5C1101.7,236.3 1100.8,236 1099.9,235.8C1099,235.6 1098.1,235.3 1097.2,235.1C1096.3,234.9 1095.4,234.7 1094.5,234.4C1093.6,234.2 1092.3,233.8 1091.8,233.7Z" fill="#1d1d1b"/><rect x="1107.5" y="238.1" width="8.5" height="5" fill="#1d1d1b" transform="rotate(15.9 1111.7 240.6)"/>
<path d="M1101.9,256.1C1102.4,256.1 1103.8,256.2 1104.8,256.2C1105.7,256.3 1106.6,256.4 1107.6,256.5C1108.5,256.6 1109.4,256.8 1110.4,256.9C1111.3,257 1112.2,257.2 1113.2,257.3C1114.1,257.5 1115,257.6 1115.9,257.8C1116.8,258 1117.8,258.2 1118.7,258.4C1119.6,258.6 1120.5,258.8 1121.4,259C1122.3,259.3 1123.2,259.5 1124.1,259.7C1125,260 1125.9,260.2 1126.8,260.5C1127.7,260.8 1128.6,261.1 1129.4,261.4C1130.3,261.7 1131.2,262 1132.1,262.3C1133,262.6 1133.8,262.9 1134.7,263.3C1135.6,263.6 1136.4,264 1137.3,264.3C1138.2,264.7 1139,265.1 1139.9,265.5C1140.8,265.8 1141.6,266.2 1142.5,266.7C1143.3,267.1 1144.6,267.8 1145,268L1145,268C1144.5,267.9 1143.2,267.7 1142.2,267.5C1141.3,267.3 1140.4,267.1 1139.5,266.9C1138.6,266.7 1137.7,266.5 1136.8,266.3C1135.9,266.1 1135,265.8 1134.1,265.6C1133.2,265.4 1132.3,265.2 1131.3,264.9C1130.4,264.7 1129.5,264.5 1128.6,264.3C1127.7,264 1126.8,263.8 1125.9,263.6C1125,263.3 1124.1,263.1 1123.2,262.8C1122.3,262.6 1121.4,262.3 1120.5,262.1C1119.7,261.8 1118.8,261.6 1117.9,261.3C1117,261 1116.1,260.8 1115.2,260.5C1114.3,260.2 1113.4,259.9 1112.5,259.7C1111.6,259.4 1110.7,259.1 1109.8,258.8C1109,258.5 1108.1,258.3 1107.2,258C1106.3,257.7 1105.4,257.4 1104.5,257.1C1103.6,256.8 1102.3,256.3 1101.9,256.1Z" fill="#1d1d1b"/>
<path d="M1084.4,276.3C1085.1,276.4 1087.3,276.9 1088.8,277.2C1090.2,277.5 1091.7,277.8 1093.1,278.2C1094.5,278.5 1096,278.9 1097.4,279.3C1098.9,279.6 1100.3,280 1101.7,280.4C1103.2,280.7 1104.6,281.1 1106,281.5C1107.5,281.9 1108.9,282.3 1110.3,282.7C1111.7,283.1 1113.2,283.5 1114.6,283.9C1116,284.3 1117.4,284.7 1118.8,285.2C1120.3,285.6 1121.7,286 1123.1,286.5C1124.5,286.9 1125.9,287.4 1127.3,287.8C1128.7,288.3 1130.1,288.8 1131.5,289.2C1132.9,289.7 1134.3,290.2 1135.7,290.7C1137.1,291.1 1138.5,291.6 1139.9,292.1C1141.3,292.6 1142.7,293.1 1144.1,293.6C1145.5,294.2 1146.9,294.7 1148.3,295.2C1149.7,295.7 1151.7,296.6 1152.4,296.9L1152.4,296.9C1151.7,296.8 1149.4,296.5 1147.9,296.3C1146.5,296.1 1145,295.8 1143.5,295.5C1142.1,295.2 1140.6,294.9 1139.2,294.6C1137.7,294.3 1136.3,294 1134.8,293.7C1133.4,293.4 1131.9,293 1130.5,292.7C1129,292.3 1127.6,292 1126.2,291.6C1124.7,291.2 1123.3,290.8 1121.9,290.4C1120.5,290 1119,289.6 1117.6,289.2C1116.2,288.8 1114.8,288.3 1113.4,287.9C1112,287.4 1110.6,286.9 1109.2,286.4C1107.8,286 1106.4,285.5 1105,285C1103.6,284.5 1102.2,283.9 1100.8,283.4C1099.4,282.9 1098,282.3 1096.7,281.8C1095.3,281.2 1093.9,280.6 1092.5,280.1C1091.2,279.5 1089.8,278.9 1088.4,278.3C1087.1,277.6 1085.1,276.6 1084.4,276.3Z" fill="#1d1d1b"/><rect x="1109.6" y="279.6" width="8.5" height="5" fill="#1d1d1b" transform="rotate(16.9 1113.8 282.1)"/>
<path d="M1143.2,247.8C1144.1,247.7 1146.7,247.5 1148.4,247.4C1150.1,247.3 1151.8,247.3 1153.5,247.3C1155.2,247.3 1156.9,247.3 1158.6,247.3C1160.3,247.3 1162,247.4 1163.7,247.5C1165.4,247.6 1167.1,247.7 1168.8,247.8C1170.5,248 1172.1,248.1 1173.8,248.3C1175.5,248.5 1177.1,248.7 1178.8,249C1180.5,249.2 1182.1,249.5 1183.8,249.8C1185.4,250.1 1187.1,250.4 1188.7,250.7C1190.4,251.1 1192,251.5 1193.6,251.9C1195.3,252.3 1196.9,252.7 1198.5,253.2C1200.1,253.6 1201.8,254.1 1203.4,254.6C1205,255.1 1206.6,255.6 1208.2,256.2C1209.8,256.7 1211.4,257.3 1213,257.9C1214.6,258.5 1216.2,259.2 1217.8,259.8C1219.4,260.5 1221.7,261.6 1222.5,262L1222.5,262C1221.7,261.8 1219.2,261.3 1217.6,260.9C1215.9,260.5 1214.3,260.1 1212.7,259.8C1211,259.4 1209.4,259 1207.8,258.6C1206.1,258.3 1204.5,257.9 1202.8,257.6C1201.2,257.2 1199.5,256.9 1197.9,256.6C1196.3,256.2 1194.6,255.9 1193,255.6C1191.3,255.2 1189.7,254.9 1188,254.6C1186.4,254.3 1184.7,254 1183.1,253.7C1181.4,253.4 1179.8,253.1 1178.1,252.9C1176.4,252.6 1174.8,252.3 1173.1,252C1171.5,251.7 1169.8,251.5 1168.2,251.2C1166.5,251 1164.8,250.7 1163.2,250.5C1161.5,250.2 1159.9,250 1158.2,249.8C1156.5,249.5 1154.9,249.3 1153.2,249.1C1151.5,248.9 1149.9,248.7 1148.2,248.5C1146.5,248.3 1144,247.9 1143.2,247.8Z" fill="#1d1d1b"/><rect x="1180.9" y="253.1" width="8.5" height="5" fill="#1d1d1b" transform="rotate(10.2 1185.2 255.6)"/>
<path d="M1144.1,263.5C1144.9,263.6 1147.5,264.1 1149.1,264.4C1150.8,264.7 1152.4,265.1 1154.1,265.4C1155.8,265.8 1157.4,266.1 1159.1,266.5C1160.7,266.8 1162.4,267.2 1164,267.6C1165.7,268 1167.3,268.4 1169,268.8C1170.6,269.2 1172.2,269.6 1173.9,270C1175.5,270.4 1177.2,270.8 1178.8,271.2C1180.4,271.6 1182.1,272.1 1183.7,272.5C1185.3,272.9 1187,273.4 1188.6,273.8C1190.2,274.3 1191.9,274.8 1193.5,275.2C1195.1,275.7 1196.7,276.2 1198.4,276.7C1200,277.2 1201.6,277.6 1203.2,278.1C1204.8,278.6 1206.4,279.2 1208.1,279.7C1209.7,280.2 1211.3,280.7 1212.9,281.2C1214.5,281.8 1216.1,282.3 1217.7,282.8C1219.3,283.4 1221.7,284.3 1222.5,284.6L1222.5,284.6C1221.7,284.5 1219.1,284.2 1217.4,284C1215.7,283.8 1214,283.5 1212.4,283.2C1210.7,282.9 1209,282.6 1207.3,282.3C1205.7,282 1204,281.7 1202.3,281.4C1200.7,281 1199,280.7 1197.4,280.3C1195.7,280 1194.1,279.6 1192.4,279.2C1190.8,278.8 1189.1,278.4 1187.5,278C1185.8,277.6 1184.2,277.2 1182.6,276.8C1180.9,276.3 1179.3,275.9 1177.7,275.4C1176.1,274.9 1174.4,274.4 1172.8,273.9C1171.2,273.5 1169.6,272.9 1168,272.4C1166.4,271.9 1164.8,271.4 1163.1,270.8C1161.5,270.3 1159.9,269.7 1158.3,269.1C1156.8,268.6 1155.2,268 1153.6,267.4C1152,266.8 1150.4,266.2 1148.8,265.5C1147.2,264.9 1144.9,263.8 1144.1,263.5Z" fill="#1d1d1b"/><rect x="1183.8" y="269.7" width="8.5" height="5" fill="#1d1d1b" transform="rotate(15.1 1188 272.2)"/>
<path d="M1149.6,286.4C1150.1,286.4 1151.8,286.5 1152.8,286.6C1153.9,286.7 1154.9,286.9 1156,287C1157,287.2 1158,287.3 1159.1,287.5C1160.1,287.7 1161.2,287.9 1162.2,288.1C1163.2,288.3 1164.2,288.5 1165.2,288.8C1166.2,289 1167.3,289.3 1168.3,289.6C1169.3,289.8 1170.3,290.1 1171.3,290.4C1172.3,290.7 1173.2,291 1174.2,291.4C1175.2,291.7 1176.2,292.1 1177.2,292.4C1178.1,292.8 1179.1,293.2 1180.1,293.6C1181,294 1182,294.4 1182.9,294.8C1183.9,295.2 1184.8,295.7 1185.8,296.1C1186.7,296.6 1187.7,297 1188.6,297.5C1189.5,298 1190.4,298.5 1191.4,299C1192.3,299.5 1193.2,300.1 1194.1,300.6C1195,301.2 1196.4,302.1 1196.8,302.4L1196.8,302.4C1196.3,302.3 1194.8,301.8 1193.8,301.6C1192.8,301.3 1191.8,300.9 1190.8,300.6C1189.8,300.3 1188.9,300 1187.9,299.7C1186.9,299.3 1185.9,299 1184.9,298.7C1183.9,298.4 1182.9,298.1 1181.9,297.7C1181,297.4 1180,297.1 1179,296.8C1178,296.4 1177,296.1 1176,295.8C1175,295.4 1174.1,295.1 1173.1,294.8C1172.1,294.4 1171.1,294.1 1170.1,293.8C1169.1,293.4 1168.2,293.1 1167.2,292.8C1166.2,292.4 1165.2,292.1 1164.2,291.7C1163.3,291.4 1162.3,291 1161.3,290.7C1160.3,290.4 1159.3,290 1158.4,289.7C1157.4,289.3 1156.4,289 1155.4,288.6C1154.5,288.3 1153.5,287.9 1152.5,287.6C1151.5,287.2 1150.1,286.6 1149.6,286.4Z" fill="#1d1d1b"/>
<path d="M1244.6,248.8C1245.5,249 1248.4,249.6 1250.3,250.1C1252.2,250.5 1254,251 1255.9,251.5C1257.8,252 1259.7,252.4 1261.5,252.9C1263.4,253.4 1265.3,253.9 1267.2,254.4C1269,254.9 1270.9,255.4 1272.8,256C1274.6,256.5 1276.5,257 1278.4,257.5C1280.2,258 1282.1,258.6 1283.9,259.1C1285.8,259.7 1287.6,260.2 1289.5,260.8C1291.4,261.3 1293.2,261.9 1295.1,262.4C1296.9,263 1298.8,263.6 1300.6,264.2C1302.4,264.7 1304.3,265.3 1306.1,265.9C1308,266.5 1309.8,267.1 1311.7,267.7C1313.5,268.3 1315.3,268.9 1317.2,269.6C1319,270.2 1320.8,270.8 1322.7,271.4C1324.5,272.1 1326.3,272.7 1328.2,273.3C1330,274 1332.7,275.1 1333.6,275.4L1333.6,275.4C1332.6,275.2 1329.7,274.8 1327.8,274.5C1325.9,274.2 1324,273.8 1322.1,273.4C1320.2,273 1318.3,272.6 1316.4,272.2C1314.5,271.8 1312.6,271.4 1310.7,270.9C1308.8,270.5 1306.9,270 1305,269.6C1303.2,269.1 1301.3,268.6 1299.4,268.1C1297.5,267.6 1295.7,267.1 1293.8,266.6C1292,266.1 1290.1,265.5 1288.2,265C1286.4,264.4 1284.5,263.9 1282.7,263.3C1280.8,262.7 1279,262.1 1277.2,261.5C1275.3,260.9 1273.5,260.2 1271.7,259.6C1269.8,258.9 1268,258.3 1266.2,257.6C1264.4,257 1262.6,256.3 1260.8,255.6C1258.9,254.9 1257.1,254.2 1255.3,253.4C1253.5,252.7 1251.7,252 1249.9,251.2C1248.1,250.4 1245.5,249.2 1244.6,248.8Z" fill="#1d1d1b"/><rect x="1292.8" y="259" width="8.5" height="5" fill="#1d1d1b" transform="rotate(16.6 1297 261.5)"/>
<path d="M1243.6,270.4C1244.3,270.6 1246.5,271 1247.9,271.4C1249.3,271.8 1250.7,272.1 1252.2,272.5C1253.6,272.9 1255,273.3 1256.4,273.7C1257.8,274.1 1259.2,274.5 1260.7,274.9C1262.1,275.3 1263.5,275.7 1264.9,276.1C1266.3,276.5 1267.7,277 1269.1,277.4C1270.5,277.8 1271.9,278.2 1273.3,278.7C1274.7,279.1 1276.1,279.6 1277.5,280C1278.9,280.5 1280.3,280.9 1281.7,281.4C1283.1,281.8 1284.5,282.3 1285.9,282.8C1287.3,283.2 1288.7,283.7 1290,284.2C1291.4,284.7 1292.8,285.2 1294.2,285.7C1295.6,286.1 1297,286.6 1298.4,287.1C1299.7,287.6 1301.1,288.1 1302.5,288.7C1303.9,289.2 1305.2,289.7 1306.6,290.2C1308,290.8 1310,291.6 1310.7,291.9L1310.7,291.9C1310,291.8 1307.7,291.6 1306.3,291.3C1304.8,291.1 1303.3,290.9 1301.9,290.6C1300.4,290.3 1299,290.1 1297.5,289.8C1296.1,289.5 1294.6,289.2 1293.2,288.8C1291.8,288.5 1290.3,288.2 1288.9,287.8C1287.5,287.5 1286,287.1 1284.6,286.7C1283.2,286.3 1281.8,285.9 1280.4,285.5C1279,285.1 1277.6,284.6 1276.2,284.2C1274.8,283.7 1273.4,283.3 1272,282.8C1270.6,282.3 1269.2,281.8 1267.8,281.3C1266.5,280.8 1265.1,280.3 1263.7,279.7C1262.4,279.2 1261,278.6 1259.6,278.1C1258.3,277.5 1256.9,276.9 1255.6,276.3C1254.2,275.7 1252.9,275.1 1251.5,274.5C1250.2,273.8 1248.9,273.2 1247.5,272.5C1246.2,271.9 1244.3,270.8 1243.6,270.4Z" fill="#1d1d1b"/><rect x="1278.4" y="277.7" width="8.5" height="5" fill="#1d1d1b" transform="rotate(17.8 1282.6 280.2)"/>
<path d="M1287.7,238.1C1288.3,238.3 1290,239 1291.2,239.5C1292.4,239.9 1293.5,240.4 1294.7,240.9C1295.9,241.3 1297,241.8 1298.2,242.3C1299.4,242.7 1300.5,243.2 1301.7,243.6C1302.9,244 1304.1,244.5 1305.2,244.9C1306.4,245.4 1307.6,245.8 1308.8,246.2C1309.9,246.6 1311.1,247.1 1312.3,247.5C1313.5,247.9 1314.7,248.3 1315.9,248.7C1317,249.1 1318.2,249.5 1319.4,249.9C1320.6,250.3 1321.8,250.7 1323,251.1C1324.2,251.5 1325.4,251.9 1326.6,252.2C1327.8,252.6 1329,253 1330.2,253.4C1331.4,253.7 1332.6,254.1 1333.8,254.4C1335,254.8 1336.2,255.1 1337.4,255.5C1338.6,255.8 1339.8,256.2 1341,256.5C1342.2,256.9 1344,257.4 1344.6,257.6L1344.6,257.6C1343.9,257.6 1342,257.5 1340.7,257.4C1339.4,257.3 1338.1,257.1 1336.9,257C1335.6,256.8 1334.3,256.6 1333.1,256.4C1331.8,256.2 1330.6,256 1329.3,255.8C1328.1,255.5 1326.8,255.3 1325.6,255C1324.4,254.7 1323.2,254.4 1322,254.1C1320.7,253.8 1319.5,253.4 1318.3,253.1C1317.1,252.7 1315.9,252.3 1314.8,251.9C1313.6,251.5 1312.4,251.1 1311.2,250.6C1310.1,250.2 1308.9,249.7 1307.7,249.2C1306.6,248.7 1305.4,248.2 1304.3,247.7C1303.1,247.2 1302,246.6 1300.9,246C1299.7,245.5 1298.6,244.9 1297.5,244.3C1296.4,243.6 1295.3,243 1294.2,242.4C1293.1,241.7 1292,241 1290.9,240.3C1289.8,239.6 1288.2,238.5 1287.7,238.1Z" fill="#1d1d1b"/><rect x="1311.1" y="251.4" width="8.5" height="5" fill="#1d1d1b" transform="rotate(18.9 1315.4 253.9)"/>
<path d="M1352.9,247.8C1353.4,247.7 1354.9,247.4 1355.9,247.3C1356.9,247.1 1357.9,247.1 1358.9,247C1359.8,246.9 1360.8,246.9 1361.8,246.9C1362.7,246.8 1363.7,246.9 1364.6,246.9C1365.6,246.9 1366.5,247 1367.5,247.1C1368.4,247.1 1369.3,247.2 1370.3,247.4C1371.2,247.5 1372.1,247.7 1373,247.8C1373.9,248 1374.8,248.2 1375.7,248.5C1376.6,248.7 1377.5,249 1378.4,249.2C1379.3,249.5 1380.2,249.8 1381,250.2C1381.9,250.5 1382.8,250.9 1383.6,251.3C1384.5,251.6 1385.3,252 1386.2,252.5C1387,252.9 1387.9,253.4 1388.7,253.9C1389.5,254.4 1390.4,254.9 1391.2,255.4C1392,255.9 1392.8,256.5 1393.6,257.1C1394.4,257.7 1395.6,258.7 1396,259L1396,259C1395.6,258.8 1394.3,258.3 1393.4,258C1392.5,257.6 1391.7,257.3 1390.8,256.9C1389.9,256.6 1389,256.2 1388.2,255.9C1387.3,255.6 1386.4,255.3 1385.5,255C1384.7,254.7 1383.8,254.4 1382.9,254.1C1382,253.8 1381.1,253.5 1380.2,253.3C1379.3,253 1378.5,252.7 1377.6,252.5C1376.7,252.2 1375.8,252 1374.9,251.8C1374,251.5 1373.1,251.3 1372.2,251.1C1371.3,250.9 1370.4,250.7 1369.5,250.5C1368.6,250.3 1367.6,250.1 1366.7,249.9C1365.8,249.7 1364.9,249.5 1364,249.4C1363.1,249.2 1362.2,249.1 1361.2,248.9C1360.3,248.8 1359.4,248.6 1358.5,248.5C1357.5,248.4 1356.6,248.3 1355.7,248.2C1354.8,248.1 1353.4,247.9 1352.9,247.8Z" fill="#1d1d1b"/><rect x="1374.5" y="252.1" width="8.5" height="5" fill="#1d1d1b" transform="rotate(14.6 1378.7 254.6)"/>
<path d="M1345.6,273.5C1346.2,273.5 1348,273.4 1349.2,273.5C1350.4,273.5 1351.6,273.5 1352.7,273.7C1353.9,273.8 1355,273.9 1356.2,274.1C1357.3,274.3 1358.4,274.6 1359.5,274.9C1360.5,275.3 1361.6,275.7 1362.6,276.1C1363.7,276.6 1364.7,277.1 1365.7,277.6C1366.6,278.2 1367.6,278.8 1368.6,279.4C1369.5,280 1370.5,280.7 1371.4,281.4C1372.4,282 1373.3,282.7 1374.3,283.4C1375.2,284 1376.2,284.7 1377.1,285.3C1378.1,285.9 1379.1,286.5 1380.1,287.1C1381.1,287.6 1382.1,288.1 1383.1,288.6C1384.1,289.1 1385.2,289.5 1386.2,289.9C1387.3,290.2 1388.4,290.6 1389.4,290.9C1390.5,291.2 1391.6,291.5 1392.7,291.7C1393.8,292 1395.5,292.5 1396,292.6L1396,292.6C1395.4,292.6 1393.6,292.7 1392.4,292.6C1391.2,292.6 1390,292.6 1388.9,292.4C1387.7,292.3 1386.6,292.2 1385.4,292C1384.3,291.8 1383.2,291.5 1382.1,291.2C1381.1,290.8 1380,290.4 1379,290C1377.9,289.5 1376.9,289 1375.9,288.5C1375,287.9 1374,287.3 1373,286.7C1372.1,286.1 1371.1,285.4 1370.2,284.7C1369.2,284.1 1368.3,283.4 1367.3,282.7C1366.4,282.1 1365.4,281.4 1364.5,280.8C1363.5,280.2 1362.5,279.6 1361.5,279C1360.5,278.5 1359.5,278 1358.5,277.5C1357.5,277 1356.4,276.6 1355.4,276.2C1354.3,275.9 1353.2,275.5 1352.2,275.2C1351.1,274.9 1350,274.6 1348.9,274.4C1347.8,274.1 1346.1,273.6 1345.6,273.5Z" fill="#1d1d1b"/>
<path d="M1323.5,298.7C1324,298.7 1325.7,298.5 1326.8,298.4C1327.9,298.4 1328.9,298.4 1330,298.4C1331.1,298.4 1332.1,298.4 1333.2,298.4C1334.3,298.4 1335.3,298.5 1336.4,298.5C1337.5,298.6 1338.5,298.7 1339.6,298.8C1340.6,298.9 1341.7,299 1342.7,299.1C1343.8,299.2 1344.8,299.4 1345.9,299.6C1346.9,299.7 1347.9,299.9 1349,300.1C1350,300.3 1351,300.5 1352.1,300.8C1353.1,301 1354.1,301.3 1355.1,301.5C1356.1,301.8 1357.2,302.1 1358.2,302.4C1359.2,302.7 1360.2,303 1361.2,303.4C1362.2,303.7 1363.2,304.1 1364.2,304.5C1365.2,304.8 1366.2,305.2 1367.2,305.6C1368.2,306 1369.2,306.5 1370.2,306.9C1371.2,307.4 1372.6,308.2 1373.1,308.4L1373.1,308.4C1372.6,308.3 1371,308.1 1370,307.9C1368.9,307.8 1367.9,307.6 1366.9,307.4C1365.8,307.2 1364.8,307 1363.8,306.8C1362.7,306.6 1361.7,306.4 1360.7,306.2C1359.6,306 1358.6,305.8 1357.5,305.6C1356.5,305.4 1355.5,305.2 1354.4,305C1353.4,304.8 1352.4,304.6 1351.3,304.4C1350.3,304.2 1349.3,304 1348.2,303.8C1347.2,303.6 1346.2,303.4 1345.1,303.2C1344.1,303 1343.1,302.8 1342,302.6C1341,302.4 1340,302.2 1338.9,302C1337.9,301.8 1336.9,301.6 1335.9,301.4C1334.8,301.1 1333.8,300.9 1332.8,300.7C1331.7,300.5 1330.7,300.3 1329.7,300.1C1328.6,299.9 1327.6,299.7 1326.6,299.4C1325.5,299.2 1324,298.8 1323.5,298.7Z" fill="#1d1d1b"/><rect x="1343.5" y="295.8" width="8.5" height="5" fill="#1d1d1b" transform="rotate(11.1 1347.8 298.3)"/>
<path d="M1365.8,295C1366.1,295.1 1367.1,295.4 1367.7,295.6C1368.4,295.8 1369,296.1 1369.7,296.3C1370.3,296.6 1370.9,296.8 1371.6,297C1372.2,297.3 1372.8,297.5 1373.5,297.8C1374.1,298 1374.7,298.2 1375.4,298.5C1376,298.7 1376.6,299 1377.3,299.2C1377.9,299.5 1378.5,299.7 1379.2,300C1379.8,300.2 1380.4,300.5 1381,300.7C1381.7,301 1382.3,301.2 1382.9,301.5C1383.6,301.8 1384.2,302 1384.8,302.3C1385.4,302.5 1386.1,302.8 1386.7,303.1C1387.3,303.3 1387.9,303.6 1388.6,303.9C1389.2,304.1 1389.8,304.4 1390.4,304.7C1391.1,304.9 1391.7,305.2 1392.3,305.5C1392.9,305.7 1393.6,306 1394.2,306.3C1394.8,306.6 1395.7,307 1396,307.2L1396,307.2C1395.6,307.2 1394.6,307.2 1393.8,307.1C1393.1,307 1392.4,306.9 1391.8,306.8C1391.1,306.8 1390.4,306.6 1389.7,306.5C1389,306.4 1388.3,306.3 1387.7,306.1C1387,306 1386.3,305.8 1385.7,305.6C1385,305.4 1384.3,305.3 1383.7,305.1C1383,304.9 1382.4,304.6 1381.8,304.4C1381.1,304.2 1380.5,304 1379.9,303.7C1379.2,303.4 1378.6,303.2 1378,302.9C1377.4,302.6 1376.7,302.3 1376.1,302C1375.5,301.7 1374.9,301.4 1374.3,301C1373.7,300.7 1373.1,300.4 1372.6,300C1372,299.6 1371.4,299.3 1370.8,298.9C1370.2,298.5 1369.7,298.1 1369.1,297.7C1368.5,297.3 1368,296.9 1367.4,296.4C1366.9,296 1366.1,295.2 1365.8,295Z" fill="#1d1d1b"/>
<circle cx="996.3" cy="271.7" r="30.6" fill="none" stroke="#1d1d1b" stroke-width="1.05" stroke-dasharray="4.8,3.8"/>
<circle cx="1157.6" cy="271.3" r="30.6" fill="none" stroke="#1d1d1b" stroke-width="1.05" stroke-dasharray="4.8,3.8"/>
<circle cx="1317.3" cy="271.7" r="30.6" fill="none" stroke="#1d1d1b" stroke-width="1.05" stroke-dasharray="4.8,3.8"/>
<polygon points="1201.4,193.8 1214.8,180.4 1208.8,174.8 1231.9,174.8 1231.9,197.9 1226.3,191.9 1212.9,205.3" fill="#fff" stroke="#000" stroke-width="1.7" stroke-linejoin="miter"/>
<polygon points="1104.6,345.4 1091.2,358.8 1097.3,364.4 1074.2,364.4 1074.2,341.3 1079.8,347.4 1093.2,334" fill="#fff" stroke="#000" stroke-width="1.7" stroke-linejoin="miter"/>
</g>
<path d="M926,199 V159 H966.9" fill="none" stroke="#000" stroke-width="3.7"/><text x="933.3" y="181.9" font-size="14" textLength="45.6" lengthAdjust="spacingAndGlyphs" fill="#000">100 km</text>
<rect x="916.9" y="149.8" width="479.2" height="245.3" fill="none" stroke="#1d1d1b" stroke-width="3.7"/><rect x="1365.3" y="360.2" width="30.8" height="34.8" fill="#fff" stroke="#1d1d1b" stroke-width="3.7"/><text x="1381" y="387.9" font-size="33" text-anchor="middle" fill="#000">d</text>
<clipPath id="clipe"><rect x="916.8" y="488.9" width="479.3" height="245.1"/></clipPath>
<g clip-path="url(#clipe)">
<polygon points="1087.1,509 1145.3,537.8 1065.4,697.4 1007.3,668.5" fill="#faf5b8"/>
<polygon points="1242.2,512.6 1296.3,539.2 1222.4,687.7 1168.2,661.2" fill="#faf5b8"/>
<path d="M912,550C913.2,550.2 910.4,549.7 919.2,551.1C928.1,552.5 948.3,555.8 965.1,558.5C981.9,561.2 1007.7,565.6 1020.2,567.6C1032.7,569.6 1035.1,569.9 1040,570.4C1044.9,570.9 1046.8,571 1049.6,570.8C1052.4,570.6 1054.2,570.2 1057,569.4C1059.8,568.6 1063.1,567.2 1066.1,565.8C1069.1,564.4 1072,562.5 1075,560.8C1078,559.1 1081.4,557.2 1084.4,555.7C1087.4,554.2 1089.9,553.1 1093,552C1096.1,550.9 1098.1,550.1 1102.8,549.3C1107.5,548.5 1113.5,547.4 1121.2,547.4C1128.9,547.4 1140.6,548.4 1148.7,549.3C1156.8,550.2 1163.7,551.8 1170,553C1176.3,554.2 1181.7,555.7 1186.7,556.6C1191.7,557.5 1196,558.1 1200,558.4C1204,558.7 1207.3,558.6 1210.6,558.5C1213.9,558.4 1216.9,558.1 1220,557.6C1223.1,557.1 1224.8,556.9 1229,555.7C1233.2,554.5 1239.7,551.6 1245.5,550.2C1251.3,548.8 1256.8,547.7 1263.8,547.4C1270.8,547.1 1279.1,547.5 1287.7,548.4C1296.3,549.3 1304.6,551.2 1315.3,553C1326,554.8 1338.8,557.1 1352,559.4C1365.2,561.7 1385.9,565.3 1394.2,566.7C1402.5,568.1 1400.7,567.8 1402,568L1402,666.8C1400.7,666.6 1407.7,667.8 1394,665.6C1380.3,663.4 1340.2,657 1320,653.8C1299.8,650.6 1283.2,648.2 1273,646.6C1262.8,645 1263,645 1258.8,644.2C1254.6,643.4 1251.6,642.4 1248,641.8C1244.4,641.1 1240.9,640.4 1237,640.3C1233.1,640.2 1229,640.4 1224.6,641.1C1220.2,641.8 1215.5,643.2 1210.8,644.4C1206.1,645.6 1200.9,647.1 1196.6,648.1C1192.3,649.1 1188.9,650 1185,650.6C1181.1,651.2 1177.5,651.8 1173.3,652C1169.1,652.2 1165.6,652 1160,651.6C1154.4,651.2 1147.5,650.3 1139.5,649.4C1131.5,648.5 1119,646.3 1112,646C1105,645.7 1101.9,646.3 1097.3,647.5C1092.7,648.7 1088.7,650.5 1084.4,653C1080.1,655.5 1076.2,659.8 1071.6,662.2C1067,664.6 1060.5,666.5 1056.9,667.4C1053.3,668.3 1053.1,667.9 1050,667.8C1046.9,667.7 1045,667.6 1038.5,666.8C1032,666 1023.2,664.8 1011,663.1C998.8,661.4 980.4,659 965.1,656.7C949.8,654.4 928.1,650.8 919.2,649.4C910.4,648 913.2,648.5 912,648.3Z" fill="#b9baba" fill-opacity="0.465"/>
<path d="M978.3,592.2 A30.5,30.5 0 0 1 1039.3,592.2" fill="none" stroke="#1d1d1b" stroke-width="1.05" stroke-dasharray="4.8,3.8"/>
<path d="M958.5,623.3 A30.5,30.5 0 0 0 1019.5,623.3" fill="none" stroke="#1d1d1b" stroke-width="1.05" stroke-dasharray="4.8,3.8"/>
<path d="M1136.4,593.9 A30.5,30.5 0 0 1 1197.4,593.9" fill="none" stroke="#1d1d1b" stroke-width="1.05" stroke-dasharray="4.8,3.8"/>
<path d="M1113.8,627.8 A30.5,30.5 0 0 0 1174.8,627.8" fill="none" stroke="#1d1d1b" stroke-width="1.05" stroke-dasharray="4.8,3.8"/>
<path d="M1300.6,593.9 A30.5,30.5 0 0 1 1361.6,593.9" fill="none" stroke="#1d1d1b" stroke-width="1.05" stroke-dasharray="4.8,3.8"/>
<path d="M1271.3,631.2 A30.5,30.5 0 0 0 1332.3,631.2" fill="none" stroke="#1d1d1b" stroke-width="1.05" stroke-dasharray="4.8,3.8"/>
<path d="M988.4,566.2 L990,566.6 L992.2,567.2 L994.7,567.8 L997.5,568.4 L1000.2,569.1 L1002.6,569.9 L1004.8,570.7 L1007.1,571.5 L1009.4,572.4 L1011.6,573.4 L1013.7,574.4 L1015.7,575.4 L1017.6,576.5 L1019.4,577.6 L1021.2,578.8 L1022.9,580.1 L1024.5,581.5 L1026,582.9 L1027.5,584.5 L1028.9,586.3 L1030.4,588.3 L1031.7,590.1 L1032.8,591.7 L1033.6,592.8 L1033.6,592.8 L1033.1,591.5 L1032.4,589.7 L1031.5,587.6 L1030.5,585.3 L1029.3,583.1 L1028,581.1 L1026.6,579.4 L1025.1,577.7 L1023.4,576.1 L1021.6,574.6 L1019.7,573.1 L1017.7,571.8 L1015.6,570.6 L1013.3,569.5 L1010.9,568.6 L1008.4,567.7 L1005.9,567.1 L1003.4,566.5 L1000.7,566.2 L997.8,566 L994.9,566 L992.3,566 L990,566.1 L988.4,566.2Z" fill="#6f6f6e"/>
<path d="M959.1,617.6 L959.3,618.9 L959.5,620.6 L959.9,622.7 L960.3,624.9 L961,627.1 L961.8,629.2 L962.8,631.1 L964,632.9 L965.4,634.7 L966.8,636.4 L968.4,638.1 L970.2,639.6 L972.1,641.1 L974.2,642.5 L976.3,643.7 L978.6,644.9 L980.9,646 L983.3,646.9 L986,647.8 L988.9,648.6 L991.8,649.2 L994.6,649.7 L996.9,650.1 L998.6,650.4 L998.6,650.4 L997.1,649.6 L994.9,648.7 L992.4,647.5 L989.6,646.3 L987,645.1 L984.7,643.9 L982.6,642.7 L980.5,641.5 L978.4,640.2 L976.4,639 L974.5,637.7 L972.8,636.4 L971.1,635 L969.6,633.7 L968.1,632.3 L966.7,630.8 L965.4,629.3 L964.2,627.8 L963.1,626.2 L962.1,624.2 L961.2,622.3 L960.4,620.4 L959.7,618.7 L959.1,617.6Z" fill="#6f6f6e"/>
<path d="M1142,567 L1144,567.4 L1146.8,567.9 L1150.1,568.5 L1153.6,569.1 L1156.9,569.7 L1159.7,570.3 L1162.1,570.9 L1164.4,571.5 L1166.5,572.1 L1168.5,572.8 L1170.4,573.4 L1172.2,574.1 L1174,574.9 L1175.7,575.6 L1177.2,576.3 L1178.7,577.1 L1180.1,578 L1181.4,579 L1182.7,580.1 L1184,581.3 L1185.2,582.6 L1186.4,584 L1187.5,585.4 L1188.5,587 L1189.4,588.8 L1190.2,590.9 L1191,593.1 L1191.7,595.3 L1192.3,597.1 L1192.8,598.4 L1192.8,598.4 L1192.6,597 L1192.4,595.1 L1192.1,592.9 L1191.7,590.5 L1191.2,588.1 L1190.5,586 L1189.7,584.2 L1188.7,582.4 L1187.6,580.7 L1186.5,579.1 L1185.2,577.6 L1183.8,576.2 L1182.3,575 L1180.8,573.8 L1179.1,572.8 L1177.4,571.9 L1175.7,571.1 L1173.8,570.3 L1171.8,569.5 L1169.7,568.8 L1167.6,568.2 L1165.3,567.7 L1162.9,567.2 L1160.3,566.9 L1157.3,566.7 L1153.8,566.6 L1150.3,566.6 L1146.9,566.7 L1144,566.9 L1142,567Z" fill="#6f6f6e"/>
<path d="M1113.8,626.7 L1114.1,627.5 L1114.5,628.7 L1115.1,630 L1115.8,631.5 L1116.6,633 L1117.6,634.4 L1118.8,635.7 L1120,637 L1121.5,638.3 L1123,639.6 L1124.6,640.7 L1126.3,641.8 L1128,642.8 L1129.8,643.6 L1131.7,644.4 L1133.6,645 L1135.5,645.6 L1137.4,646.2 L1139.6,646.7 L1142,647.1 L1144.4,647.5 L1146.6,647.8 L1148.5,648 L1149.9,648.1 L1149.9,648.1 L1148.7,647.5 L1146.9,646.7 L1144.9,645.8 L1142.7,644.8 L1140.5,643.9 L1138.6,643 L1136.8,642.2 L1135,641.4 L1133.2,640.6 L1131.6,639.8 L1129.9,639 L1128.3,638.2 L1126.7,637.3 L1125.1,636.4 L1123.6,635.5 L1122.1,634.5 L1120.7,633.5 L1119.4,632.6 L1118.2,631.6 L1117.1,630.5 L1116.1,629.4 L1115.2,628.3 L1114.4,627.4 L1113.8,626.7Z" fill="#6f6f6e"/>
<path d="M1313.6,566.2 L1315.5,566.8 L1318.1,567.6 L1321.2,568.5 L1324.4,569.5 L1327.6,570.4 L1330.5,571.4 L1333.1,572.4 L1335.8,573.4 L1338.5,574.5 L1341,575.6 L1343.3,576.7 L1345.3,577.8 L1347,578.9 L1348.4,580.1 L1349.7,581.3 L1350.8,582.7 L1351.9,584.1 L1352.9,585.6 L1353.9,587.3 L1354.9,589.2 L1355.7,591.3 L1356.5,593.3 L1357.2,595 L1357.7,596.2 L1357.7,596.2 L1357.5,594.9 L1357.3,593.1 L1356.9,591 L1356.5,588.7 L1355.9,586.5 L1355.1,584.4 L1354.2,582.7 L1353.3,580.9 L1352.2,579.3 L1350.9,577.7 L1349.3,576.1 L1347.5,574.6 L1345.3,573.2 L1342.8,571.8 L1340.1,570.6 L1337.3,569.5 L1334.4,568.6 L1331.5,567.8 L1328.4,567.2 L1325,566.8 L1321.5,566.5 L1318.3,566.3 L1315.6,566.2 L1313.6,566.2Z" fill="#6f6f6e"/>
<path d="M1280.3,617.6 L1280.5,618.8 L1280.8,620.5 L1281.2,622.4 L1281.8,624.6 L1282.5,626.7 L1283.4,628.7 L1284.5,630.5 L1285.7,632.3 L1287,634.1 L1288.6,635.8 L1290.2,637.4 L1292,639 L1294,640.5 L1296.2,641.9 L1298.4,643.2 L1300.8,644.4 L1303.2,645.6 L1305.8,646.6 L1308.6,647.6 L1311.8,648.5 L1315.1,649.4 L1318.2,650.1 L1320.8,650.6 L1322.7,651 L1322.7,651 L1321,650.1 L1318.6,648.9 L1315.7,647.6 L1312.7,646.1 L1309.8,644.7 L1307.2,643.4 L1304.9,642.1 L1302.6,640.9 L1300.5,639.6 L1298.4,638.3 L1296.4,637.1 L1294.6,635.8 L1292.8,634.5 L1291.2,633.1 L1289.6,631.7 L1288.2,630.2 L1286.8,628.8 L1285.6,627.3 L1284.5,625.7 L1283.4,623.9 L1282.5,622 L1281.6,620.2 L1280.9,618.7 L1280.3,617.6Z" fill="#6f6f6e"/>
<path d="M919,591.6 L920.6,591.8 L922.9,592 L925.6,592.2 L928.5,592.5 L931.4,592.6 L934.1,592.6 L936.6,592.5 L939.1,592.4 L941.7,592.2 L944.2,591.9 L946.7,591.5 L949.2,591.1 L951.8,590.5 L954.3,589.9 L956.8,589.2 L959.3,588.5 L961.9,587.6 L964.4,586.7 L967.1,585.7 L970,584.4 L972.9,583 L975.6,581.7 L977.8,580.6 L979.4,579.8 L979.4,579.8 L977.7,580.3 L975.2,580.9 L972.4,581.8 L969.4,582.7 L966.4,583.5 L963.6,584.3 L961.1,584.9 L958.5,585.5 L956,586.1 L953.5,586.7 L951,587.2 L948.6,587.7 L946.1,588.2 L943.7,588.7 L941.2,589.1 L938.8,589.5 L936.4,589.8 L933.9,590.2 L931.3,590.5 L928.4,590.8 L925.6,591 L922.9,591.2 L920.6,591.4 L919,591.6Z" fill="#1d1d1b"/>
<path d="M919,630.6 L920,630.3 L921.5,629.9 L923.2,629.4 L925,628.9 L926.7,628.4 L928.4,628 L930,627.6 L931.6,627.3 L933.2,627 L934.8,626.7 L936.3,626.4 L937.8,626.2 L939.2,626 L940.6,625.8 L941.9,625.7 L943.2,625.6 L944.6,625.6 L945.9,625.5 L947.4,625.5 L949,625.5 L950.7,625.5 L952.2,625.5 L953.5,625.5 L954.5,625.5 L954.5,625.5 L953.6,625.2 L952.3,624.8 L950.9,624.4 L949.2,623.9 L947.6,623.6 L946.1,623.3 L944.7,623.1 L943.3,622.9 L941.8,622.9 L940.4,622.8 L938.9,622.9 L937.4,623 L935.8,623.3 L934.2,623.6 L932.5,624 L930.8,624.5 L929.2,625 L927.6,625.6 L926,626.4 L924.3,627.3 L922.6,628.3 L921.1,629.2 L919.9,630 L919,630.6Z" fill="#1d1d1b"/>
<path d="M1361.6,591.1 L1362.6,591.5 L1363.9,592.1 L1365.6,592.8 L1367.3,593.4 L1369.1,594 L1370.8,594.5 L1372.5,594.8 L1374.1,595 L1375.7,595.2 L1377.3,595.2 L1378.9,595.2 L1380.4,595.2 L1381.9,595 L1383.3,594.8 L1384.6,594.5 L1385.8,594.2 L1387.1,593.8 L1388.4,593.3 L1389.8,592.7 L1391.3,591.9 L1392.7,591.1 L1394.1,590.3 L1395.2,589.5 L1396,589 L1396,589 L1395,589.1 L1393.7,589.4 L1392.2,589.7 L1390.6,590.1 L1389,590.4 L1387.6,590.7 L1386.3,591 L1385.1,591.2 L1383.9,591.5 L1382.7,591.7 L1381.5,591.9 L1380.2,592 L1378.8,592.2 L1377.3,592.3 L1375.8,592.3 L1374.2,592.4 L1372.7,592.4 L1371.2,592.3 L1369.5,592.2 L1367.7,592 L1365.9,591.7 L1364.1,591.4 L1362.7,591.2 L1361.6,591.1Z" fill="#1d1d1b"/>
<path d="M1334,643.6 L1335.3,643.3 L1337.2,642.8 L1339.4,642.3 L1341.8,641.7 L1344.1,641 L1346.3,640.4 L1348.4,639.7 L1350.5,638.9 L1352.5,638.2 L1354.6,637.4 L1356.5,636.6 L1358.3,635.9 L1359.9,635.2 L1361.4,634.5 L1362.7,633.8 L1364,633.2 L1365.3,632.6 L1366.6,632.1 L1368,631.5 L1369.4,631 L1370.7,630.5 L1372.1,630 L1373.5,629.5 L1375,629.1 L1376.5,628.7 L1378.2,628.3 L1379.9,628 L1381.6,627.6 L1383.3,627.3 L1385.1,627 L1387,626.8 L1389,626.5 L1391.2,626.3 L1393.1,626.1 L1394.8,626 L1396,625.8 L1396,625.8 L1394.8,625.7 L1393.1,625.5 L1391.1,625.3 L1389,625.1 L1386.9,625 L1384.9,625 L1383.1,625 L1381.3,625.1 L1379.4,625.3 L1377.7,625.5 L1375.9,625.8 L1374.2,626.1 L1372.6,626.5 L1371.1,626.9 L1369.6,627.4 L1368.2,628 L1366.8,628.6 L1365.4,629.1 L1364,629.8 L1362.7,630.4 L1361.4,631.1 L1360,631.8 L1358.7,632.6 L1357.1,633.3 L1355.4,634.2 L1353.6,635.1 L1351.6,636 L1349.6,637 L1347.7,637.9 L1345.7,638.8 L1343.6,639.7 L1341.4,640.6 L1339.1,641.5 L1337,642.4 L1335.3,643.1 L1334,643.6Z" fill="#1d1d1b"/>
<path d="M944.4,604.6C944.7,604.5 945.6,604.3 946.2,604.1C946.8,604 947.5,603.9 948.1,603.8C948.7,603.8 949.2,603.7 949.8,603.7C950.4,603.6 951,603.6 951.6,603.7C952.2,603.7 952.7,603.8 953.3,603.9C953.9,603.9 954.4,604.1 955,604.2C955.6,604.3 956.1,604.5 956.7,604.7C957.2,604.9 957.8,605.1 958.3,605.3C958.8,605.5 959.4,605.7 959.9,605.9C960.5,606.1 961,606.4 961.6,606.6C962.1,606.8 962.7,607 963.2,607.2C963.7,607.4 964.3,607.6 964.8,607.8C965.4,608 965.9,608.2 966.5,608.3C967.1,608.5 967.6,608.6 968.2,608.8C968.7,608.9 969.3,609.1 969.8,609.2C970.4,609.4 971.2,609.6 971.5,609.7L971.5,609.7C971.2,609.7 970.3,609.8 969.7,609.8C969.1,609.8 968.6,609.8 968,609.8C967.4,609.8 966.8,609.7 966.2,609.7C965.7,609.6 965.1,609.5 964.5,609.4C964,609.3 963.4,609.2 962.8,609.1C962.3,609 961.7,608.8 961.2,608.6C960.6,608.4 960.1,608.3 959.5,608.1C959,607.9 958.4,607.7 957.9,607.4C957.3,607.2 956.8,607 956.3,606.8C955.7,606.6 955.2,606.4 954.6,606.2C954.1,606.1 953.5,605.9 953,605.7C952.4,605.6 951.8,605.4 951.3,605.3C950.7,605.2 950.2,605.1 949.6,605C949,604.9 948.4,604.9 947.9,604.8C947.3,604.8 946.7,604.8 946.1,604.7C945.6,604.7 944.7,604.6 944.4,604.6Z" fill="#1d1d1b"/><rect x="954.8" y="606.4" width="3.4" height="2" fill="#1d1d1b" transform="rotate(10.7 956.5 607.4)"/>
<path d="M933.1,615.4C933.4,615.4 934.3,615.3 934.9,615.3C935.4,615.2 936,615.2 936.6,615.2C937.2,615.3 937.8,615.3 938.3,615.3C938.9,615.4 939.5,615.4 940,615.5C940.6,615.6 941.2,615.7 941.7,615.8C942.3,615.9 942.8,616.1 943.4,616.3C944,616.4 944.5,616.6 945.1,616.8C945.6,617 946.2,617.2 946.7,617.4C947.2,617.5 947.8,617.8 948.3,617.9C948.9,618.1 949.4,618.3 950,618.5C950.5,618.7 951.1,618.8 951.7,619C952.2,619.1 952.8,619.2 953.3,619.3C953.9,619.4 954.5,619.5 955,619.6C955.6,619.7 956.2,619.7 956.7,619.7C957.3,619.8 957.9,619.8 958.5,619.8C959,619.8 959.9,619.9 960.2,619.9L960.2,619.9C959.9,620 959,620.3 958.4,620.4C957.8,620.5 957.2,620.7 956.6,620.7C956,620.8 955.4,620.9 954.8,620.9C954.2,621 953.6,621 953.1,621C952.5,621 951.9,620.9 951.3,620.8C950.8,620.8 950.2,620.7 949.7,620.5C949.1,620.4 948.5,620.2 948,620.1C947.4,619.9 946.9,619.7 946.3,619.5C945.8,619.3 945.2,619.1 944.7,618.9C944.2,618.7 943.6,618.5 943.1,618.3C942.5,618.1 942,617.9 941.4,617.7C940.9,617.5 940.3,617.3 939.8,617.2C939.2,617 938.7,616.8 938.1,616.7C937.6,616.5 937,616.4 936.4,616.3C935.9,616.1 935.3,616 934.8,615.9C934.2,615.7 933.4,615.5 933.1,615.4Z" fill="#1d1d1b"/><rect x="945.1" y="615.9" width="3.4" height="2" fill="#1d1d1b" transform="rotate(9.4 946.8 616.9)"/>
<path d="M1025.2,608.8C1025.5,608.7 1026.5,608.5 1027.1,608.3C1027.7,608.2 1028.3,608.1 1029,608C1029.6,607.9 1030.2,607.9 1030.8,607.8C1031.4,607.8 1032,607.8 1032.6,607.8C1033.2,607.9 1033.8,607.9 1034.4,608C1035,608.1 1035.6,608.2 1036.2,608.3C1036.8,608.5 1037.3,608.6 1037.9,608.8C1038.5,609 1039.1,609.2 1039.6,609.4C1040.2,609.6 1040.8,609.8 1041.3,610C1041.9,610.2 1042.5,610.5 1043,610.7C1043.6,610.9 1044.2,611.1 1044.7,611.3C1045.3,611.5 1045.9,611.7 1046.5,611.9C1047,612 1047.6,612.2 1048.2,612.4C1048.8,612.5 1049.3,612.7 1049.9,612.8C1050.5,612.9 1051.1,613.1 1051.7,613.2C1052.2,613.4 1053.1,613.6 1053.4,613.7L1053.4,613.7C1053.1,613.7 1052.2,613.8 1051.6,613.8C1051,613.8 1050.4,613.8 1049.8,613.8C1049.1,613.8 1048.5,613.8 1048,613.7C1047.4,613.7 1046.8,613.6 1046.2,613.5C1045.6,613.4 1045,613.3 1044.4,613.2C1043.8,613 1043.3,612.9 1042.7,612.7C1042.1,612.5 1041.5,612.3 1041,612.1C1040.4,612 1039.8,611.7 1039.2,611.5C1038.7,611.3 1038.1,611.1 1037.5,610.9C1037,610.7 1036.4,610.5 1035.8,610.4C1035.2,610.2 1034.7,610 1034.1,609.9C1033.5,609.7 1032.9,609.6 1032.3,609.5C1031.8,609.4 1031.2,609.3 1030.6,609.2C1030,609.1 1029.4,609.1 1028.8,609C1028.2,609 1027.6,608.9 1027,608.9C1026.4,608.9 1025.5,608.8 1025.2,608.8Z" fill="#1d1d1b"/><rect x="1036.1" y="610.5" width="3.4" height="2" fill="#1d1d1b" transform="rotate(9.9 1037.8 611.5)"/>
<path d="M1015,619.9C1015.3,619.9 1016.2,619.8 1016.8,619.8C1017.4,619.8 1018,619.8 1018.6,619.8C1019.2,619.8 1019.8,619.8 1020.4,619.9C1021,619.9 1021.6,620 1022.2,620.1C1022.8,620.1 1023.4,620.3 1024,620.4C1024.6,620.5 1025.1,620.7 1025.7,620.8C1026.3,621 1026.9,621.2 1027.4,621.4C1028,621.6 1028.6,621.8 1029.1,622C1029.7,622.2 1030.3,622.4 1030.9,622.6C1031.4,622.7 1032,622.9 1032.6,623.1C1033.2,623.3 1033.7,623.5 1034.3,623.6C1034.9,623.7 1035.5,623.9 1036.1,624C1036.6,624.1 1037.2,624.2 1037.8,624.3C1038.4,624.3 1039,624.4 1039.6,624.4C1040.2,624.5 1040.8,624.5 1041.4,624.5C1042,624.5 1042.9,624.6 1043.2,624.6L1043.2,624.6C1042.9,624.7 1041.9,625 1041.3,625.1C1040.7,625.2 1040.1,625.3 1039.4,625.4C1038.8,625.5 1038.2,625.6 1037.6,625.6C1037,625.6 1036.4,625.7 1035.8,625.6C1035.2,625.6 1034.6,625.6 1034,625.5C1033.4,625.4 1032.8,625.3 1032.2,625.2C1031.7,625 1031.1,624.9 1030.5,624.7C1029.9,624.5 1029.4,624.3 1028.8,624.1C1028.2,623.9 1027.6,623.7 1027.1,623.5C1026.5,623.3 1025.9,623.1 1025.4,622.9C1024.8,622.7 1024.2,622.4 1023.7,622.3C1023.1,622.1 1022.5,621.9 1021.9,621.7C1021.4,621.5 1020.8,621.4 1020.2,621.2C1019.6,621.1 1019.1,620.9 1018.5,620.8C1017.9,620.6 1017.3,620.5 1016.7,620.4C1016.2,620.2 1015.3,620 1015,619.9Z" fill="#1d1d1b"/><rect x="1027.5" y="620.5" width="3.4" height="2" fill="#1d1d1b" transform="rotate(9.5 1029.2 621.5)"/>
<path d="M1102.5,597.3C1102.8,597.2 1103.7,596.9 1104.3,596.8C1105,596.6 1105.6,596.5 1106.2,596.4C1106.8,596.3 1107.4,596.2 1108,596.1C1108.6,596.1 1109.1,596.1 1109.7,596.1C1110.3,596.1 1110.9,596.1 1111.5,596.2C1112.1,596.2 1112.6,596.3 1113.2,596.4C1113.8,596.6 1114.4,596.7 1114.9,596.9C1115.5,597 1116.1,597.2 1116.6,597.4C1117.2,597.6 1117.7,597.8 1118.3,597.9C1118.9,598.1 1119.4,598.3 1120,598.5C1120.5,598.7 1121.1,598.9 1121.7,599.1C1122.2,599.3 1122.8,599.4 1123.4,599.6C1123.9,599.8 1124.5,599.9 1125.1,600C1125.6,600.2 1126.2,600.3 1126.8,600.4C1127.3,600.5 1127.9,600.6 1128.5,600.8C1129.1,600.9 1129.9,601.1 1130.2,601.2L1130.2,601.2C1129.9,601.2 1129,601.3 1128.4,601.4C1127.8,601.4 1127.2,601.4 1126.6,601.4C1126,601.4 1125.5,601.4 1124.9,601.4C1124.3,601.4 1123.7,601.3 1123.1,601.2C1122.6,601.2 1122,601.1 1121.4,601C1120.8,600.9 1120.3,600.7 1119.7,600.6C1119.1,600.4 1118.6,600.3 1118,600.1C1117.4,599.9 1116.9,599.7 1116.3,599.5C1115.7,599.4 1115.2,599.2 1114.6,599C1114.1,598.8 1113.5,598.6 1112.9,598.5C1112.4,598.3 1111.8,598.2 1111.2,598C1110.7,597.9 1110.1,597.8 1109.5,597.7C1108.9,597.6 1108.3,597.6 1107.8,597.5C1107.2,597.4 1106.6,597.4 1106,597.4C1105.4,597.4 1104.8,597.4 1104.3,597.3C1103.7,597.3 1102.8,597.3 1102.5,597.3Z" fill="#1d1d1b"/><rect x="1114.5" y="599" width="3.4" height="2" fill="#1d1d1b" transform="rotate(8 1116.2 600)"/>
<path d="M1097.4,608C1097.7,608 1098.5,607.8 1099.1,607.8C1099.7,607.8 1100.3,607.7 1100.8,607.7C1101.4,607.7 1101.9,607.7 1102.5,607.7C1103.1,607.7 1103.6,607.8 1104.2,607.8C1104.7,607.9 1105.3,608 1105.8,608.1C1106.4,608.2 1106.9,608.3 1107.5,608.4C1108,608.6 1108.6,608.7 1109.1,608.9C1109.7,609.1 1110.2,609.2 1110.7,609.4C1111.3,609.6 1111.8,609.8 1112.4,609.9C1112.9,610.1 1113.4,610.3 1114,610.4C1114.5,610.6 1115.1,610.7 1115.6,610.8C1116.2,610.9 1116.7,611 1117.3,611.1C1117.8,611.2 1118.4,611.3 1118.9,611.3C1119.5,611.3 1120.1,611.4 1120.6,611.4C1121.2,611.4 1121.7,611.4 1122.3,611.4C1122.9,611.4 1123.7,611.4 1124,611.4L1124,611.4C1123.7,611.5 1122.8,611.8 1122.2,612C1121.7,612.1 1121.1,612.3 1120.5,612.4C1119.9,612.5 1119.3,612.6 1118.8,612.7C1118.2,612.7 1117.6,612.8 1117.1,612.8C1116.5,612.8 1115.9,612.7 1115.4,612.7C1114.8,612.6 1114.3,612.6 1113.7,612.5C1113.2,612.4 1112.6,612.2 1112.1,612.1C1111.5,611.9 1111,611.8 1110.5,611.6C1109.9,611.4 1109.4,611.2 1108.8,611C1108.3,610.9 1107.8,610.7 1107.2,610.5C1106.7,610.3 1106.1,610.1 1105.6,610C1105.1,609.8 1104.5,609.6 1104,609.5C1103.4,609.3 1102.9,609.2 1102.3,609.1C1101.8,608.9 1101.2,608.8 1100.7,608.7C1100.1,608.6 1099.6,608.5 1099,608.4C1098.5,608.3 1097.7,608.1 1097.4,608Z" fill="#1d1d1b"/><rect x="1107" y="607.3" width="3.4" height="2" fill="#1d1d1b" transform="rotate(7.3 1108.7 608.3)"/>
<path d="M1187.7,609.7C1188,609.6 1188.9,609.3 1189.5,609.2C1190.2,609 1190.8,608.9 1191.4,608.8C1192,608.7 1192.6,608.6 1193.2,608.6C1193.8,608.5 1194.4,608.5 1194.9,608.5C1195.5,608.5 1196.1,608.5 1196.7,608.6C1197.3,608.7 1197.9,608.8 1198.4,608.9C1199,609 1199.6,609.1 1200.1,609.3C1200.7,609.5 1201.3,609.6 1201.8,609.8C1202.4,610 1202.9,610.2 1203.5,610.4C1204.1,610.6 1204.6,610.8 1205.2,611C1205.7,611.2 1206.3,611.4 1206.9,611.6C1207.4,611.7 1208,611.9 1208.6,612.1C1209.1,612.2 1209.7,612.4 1210.3,612.5C1210.8,612.7 1211.4,612.8 1212,612.9C1212.6,613 1213.1,613.1 1213.7,613.3C1214.3,613.4 1215.1,613.6 1215.4,613.7L1215.4,613.7C1215.1,613.7 1214.2,613.8 1213.6,613.9C1213,613.9 1212.4,613.9 1211.8,613.9C1211.2,613.9 1210.7,613.9 1210.1,613.9C1209.5,613.8 1208.9,613.8 1208.3,613.7C1207.7,613.6 1207.2,613.6 1206.6,613.4C1206,613.3 1205.5,613.2 1204.9,613C1204.3,612.9 1203.8,612.7 1203.2,612.5C1202.6,612.4 1202.1,612.2 1201.5,612C1200.9,611.8 1200.4,611.6 1199.8,611.4C1199.3,611.3 1198.7,611.1 1198.1,610.9C1197.6,610.8 1197,610.6 1196.4,610.5C1195.9,610.3 1195.3,610.2 1194.7,610.1C1194.1,610 1193.6,610 1193,609.9C1192.4,609.9 1191.8,609.8 1191.2,609.8C1190.6,609.8 1190,609.8 1189.5,609.8C1188.9,609.7 1188,609.7 1187.7,609.7Z" fill="#1d1d1b"/><rect x="1199.7" y="611.4" width="3.4" height="2" fill="#1d1d1b" transform="rotate(8.2 1201.4 612.4)"/>
<path d="M1182.6,619.3C1182.9,619.3 1183.8,619.2 1184.4,619.2C1185,619.2 1185.7,619.2 1186.3,619.2C1186.9,619.2 1187.5,619.3 1188.1,619.3C1188.7,619.4 1189.2,619.5 1189.8,619.6C1190.4,619.7 1191,619.8 1191.6,619.9C1192.2,620 1192.8,620.2 1193.3,620.4C1193.9,620.5 1194.5,620.7 1195,620.9C1195.6,621.1 1196.2,621.3 1196.8,621.6C1197.3,621.8 1197.9,622 1198.5,622.2C1199,622.4 1199.6,622.6 1200.2,622.8C1200.7,622.9 1201.3,623.1 1201.9,623.3C1202.5,623.4 1203.1,623.6 1203.6,623.7C1204.2,623.8 1204.8,623.9 1205.4,624C1206,624.1 1206.6,624.1 1207.2,624.2C1207.8,624.2 1208.4,624.2 1209,624.3C1209.6,624.3 1210.5,624.4 1210.8,624.4L1210.8,624.4C1210.5,624.5 1209.5,624.7 1208.9,624.9C1208.3,625 1207.6,625.1 1207,625.2C1206.4,625.2 1205.8,625.3 1205.2,625.3C1204.6,625.4 1204,625.4 1203.4,625.3C1202.8,625.3 1202.2,625.2 1201.6,625.1C1201,625.1 1200.4,624.9 1199.8,624.8C1199.2,624.7 1198.6,624.5 1198.1,624.3C1197.5,624.1 1196.9,623.9 1196.4,623.7C1195.8,623.5 1195.2,623.3 1194.7,623.1C1194.1,622.9 1193.5,622.6 1193,622.4C1192.4,622.2 1191.8,622 1191.3,621.8C1190.7,621.6 1190.1,621.4 1189.5,621.2C1189,621 1188.4,620.8 1187.8,620.7C1187.2,620.5 1186.7,620.4 1186.1,620.2C1185.5,620.1 1184.9,619.9 1184.3,619.8C1183.8,619.6 1182.9,619.4 1182.6,619.3Z" fill="#1d1d1b"/><rect x="1192.9" y="619.3" width="3.4" height="2" fill="#1d1d1b" transform="rotate(10.3 1194.6 620.3)"/>
<path d="M1261.7,594.5C1262,594.4 1263,594.2 1263.6,594.1C1264.3,594 1264.9,593.9 1265.5,593.9C1266.2,593.8 1266.8,593.8 1267.4,593.8C1268,593.8 1268.6,593.8 1269.2,593.9C1269.8,593.9 1270.4,594 1271,594.1C1271.6,594.2 1272.2,594.4 1272.8,594.5C1273.4,594.7 1273.9,594.9 1274.5,595.1C1275.1,595.3 1275.6,595.5 1276.2,595.7C1276.8,596 1277.3,596.2 1277.9,596.5C1278.5,596.7 1279,596.9 1279.6,597.2C1280.1,597.4 1280.7,597.7 1281.3,597.9C1281.8,598.1 1282.4,598.3 1283,598.5C1283.6,598.7 1284.1,598.9 1284.7,599.1C1285.3,599.3 1285.9,599.5 1286.4,599.6C1287,599.8 1287.6,600 1288.2,600.1C1288.8,600.3 1289.6,600.6 1289.9,600.7L1289.9,600.7C1289.6,600.7 1288.7,600.7 1288,600.7C1287.4,600.7 1286.8,600.7 1286.2,600.6C1285.6,600.6 1285,600.5 1284.4,600.5C1283.8,600.4 1283.2,600.3 1282.6,600.2C1282,600 1281.5,599.9 1280.9,599.7C1280.3,599.6 1279.7,599.4 1279.1,599.2C1278.6,599 1278,598.8 1277.4,598.6C1276.9,598.4 1276.3,598.1 1275.7,597.9C1275.2,597.7 1274.6,597.4 1274,597.2C1273.5,597 1272.9,596.8 1272.3,596.5C1271.8,596.3 1271.2,596.1 1270.6,596C1270,595.8 1269.5,595.6 1268.9,595.5C1268.3,595.4 1267.7,595.2 1267.1,595.1C1266.5,595 1265.9,595 1265.3,594.9C1264.7,594.8 1264.1,594.8 1263.5,594.7C1262.9,594.6 1262,594.5 1261.7,594.5Z" fill="#1d1d1b"/><rect x="1273.9" y="597.3" width="3.4" height="2" fill="#1d1d1b" transform="rotate(12.4 1275.6 598.3)"/>
<path d="M1255.5,605.2C1255.8,605.2 1256.8,605.1 1257.4,605.1C1258,605.1 1258.6,605.2 1259.2,605.2C1259.9,605.2 1260.5,605.3 1261.1,605.3C1261.7,605.4 1262.3,605.5 1262.9,605.6C1263.5,605.7 1264.1,605.8 1264.7,606C1265.3,606.1 1265.9,606.3 1266.5,606.5C1267,606.6 1267.6,606.9 1268.2,607.1C1268.8,607.3 1269.4,607.5 1270,607.7C1270.5,607.9 1271.1,608.1 1271.7,608.4C1272.3,608.6 1272.9,608.8 1273.4,609C1274,609.2 1274.6,609.4 1275.2,609.5C1275.8,609.7 1276.4,609.8 1277,610C1277.6,610.1 1278.2,610.2 1278.8,610.3C1279.4,610.4 1280,610.4 1280.6,610.5C1281.2,610.6 1281.8,610.6 1282.5,610.6C1283.1,610.7 1284,610.8 1284.3,610.8L1284.3,610.8C1284,610.9 1283,611.1 1282.3,611.2C1281.7,611.3 1281.1,611.4 1280.4,611.5C1279.8,611.6 1279.2,611.6 1278.5,611.6C1277.9,611.6 1277.3,611.6 1276.7,611.6C1276.1,611.6 1275.5,611.5 1274.8,611.4C1274.2,611.3 1273.6,611.2 1273.1,611C1272.5,610.9 1271.9,610.7 1271.3,610.5C1270.7,610.3 1270.1,610.1 1269.5,609.9C1269,609.6 1268.4,609.4 1267.8,609.2C1267.2,609 1266.6,608.7 1266.1,608.5C1265.5,608.3 1264.9,608 1264.3,607.8C1263.7,607.6 1263.2,607.4 1262.6,607.2C1262,607 1261.4,606.8 1260.8,606.7C1260.2,606.5 1259.6,606.3 1259,606.2C1258.5,606 1257.9,605.9 1257.3,605.7C1256.7,605.6 1255.8,605.3 1255.5,605.2Z" fill="#1d1d1b"/><rect x="1266.1" y="605.4" width="3.4" height="2" fill="#1d1d1b" transform="rotate(11 1267.8 606.4)"/>
<path d="M977.7,598.2C978.2,598.2 979.6,598.4 980.6,598.5C981.5,598.6 982.5,598.8 983.4,599C984.3,599.1 985.3,599.3 986.2,599.5C987.1,599.7 988,599.9 988.9,600.2C989.8,600.4 990.8,600.6 991.7,600.9C992.6,601.1 993.5,601.4 994.3,601.7C995.2,601.9 996.1,602.2 997,602.5C997.9,602.8 998.8,603.2 999.6,603.5C1000.5,603.8 1001.4,604.2 1002.2,604.5C1003.1,604.9 1003.9,605.3 1004.8,605.7C1005.6,606 1006.5,606.4 1007.3,606.9C1008.2,607.3 1009,607.7 1009.8,608.2C1010.7,608.6 1011.5,609 1012.3,609.5C1013.1,610 1013.9,610.5 1014.8,611C1015.6,611.5 1016.4,611.9 1017.2,612.5C1018,613 1019.1,613.9 1019.5,614.2L1019.5,614.2C1019,614.1 1017.6,613.9 1016.7,613.6C1015.8,613.4 1014.9,613.2 1014,613C1013.1,612.7 1012.2,612.5 1011.3,612.2C1010.4,611.9 1009.5,611.7 1008.6,611.4C1007.7,611.1 1006.8,610.9 1005.9,610.6C1005,610.3 1004.1,610 1003.3,609.7C1002.4,609.4 1001.5,609.1 1000.6,608.8C999.7,608.4 998.9,608.1 998,607.8C997.1,607.5 996.3,607.1 995.4,606.8C994.5,606.4 993.7,606.1 992.8,605.7C991.9,605.3 991.1,605 990.2,604.6C989.4,604.2 988.5,603.8 987.7,603.4C986.8,603 986,602.6 985.2,602.2C984.3,601.8 983.5,601.4 982.6,601C981.8,600.5 981,600.1 980.1,599.6C979.3,599.2 978.1,598.4 977.7,598.2Z" fill="#1d1d1b"/><rect x="992.2" y="606.1" width="8.2" height="4.6" fill="#1d1d1b" transform="rotate(20.9 996.3 608.4)"/>
<path d="M968.1,619.7C968.6,619.8 969.9,620 970.8,620.2C971.7,620.4 972.6,620.6 973.5,620.9C974.4,621.1 975.2,621.3 976.1,621.6C977,621.8 977.9,622.1 978.7,622.3C979.6,622.6 980.5,622.9 981.3,623.1C982.2,623.4 983.1,623.7 983.9,624C984.8,624.3 985.6,624.6 986.5,624.9C987.4,625.2 988.2,625.5 989.1,625.8C989.9,626.1 990.7,626.5 991.6,626.8C992.4,627.1 993.3,627.5 994.1,627.8C994.9,628.2 995.8,628.5 996.6,628.9C997.4,629.3 998.3,629.7 999.1,630C999.9,630.4 1000.7,630.8 1001.5,631.2C1002.4,631.6 1003.2,632 1004,632.4C1004.8,632.8 1005.6,633.2 1006.4,633.7C1007.2,634.1 1008.4,634.9 1008.8,635.1L1008.8,635.1C1008.3,635.1 1006.9,635 1006,634.9C1005.1,634.7 1004.2,634.6 1003.2,634.4C1002.3,634.3 1001.4,634.1 1000.5,633.9C999.6,633.7 998.7,633.5 997.8,633.3C997,633.1 996.1,632.9 995.2,632.6C994.3,632.4 993.4,632.1 992.6,631.9C991.7,631.6 990.8,631.3 990,631C989.1,630.7 988.3,630.4 987.4,630.1C986.6,629.8 985.7,629.5 984.9,629.1C984.1,628.8 983.2,628.4 982.4,628C981.6,627.6 980.8,627.3 979.9,626.9C979.1,626.4 978.3,626 977.5,625.6C976.7,625.2 975.9,624.7 975.1,624.3C974.3,623.8 973.5,623.4 972.7,622.9C971.9,622.4 971.1,621.9 970.4,621.4C969.6,620.8 968.5,620 968.1,619.7Z" fill="#1d1d1b"/><rect x="986.2" y="622.7" width="8.2" height="4.6" fill="#1d1d1b" transform="rotate(20.7 990.3 625)"/>
<path d="M1138.6,592.5C1139.1,592.5 1140.5,592.7 1141.5,592.8C1142.4,592.9 1143.3,593.1 1144.3,593.3C1145.2,593.4 1146.1,593.6 1147,593.8C1147.9,594 1148.8,594.3 1149.7,594.5C1150.6,594.7 1151.5,594.9 1152.4,595.2C1153.3,595.5 1154.2,595.7 1155.1,596C1156,596.3 1156.9,596.6 1157.7,596.9C1158.6,597.2 1159.5,597.5 1160.4,597.8C1161.2,598.2 1162.1,598.5 1162.9,598.9C1163.8,599.3 1164.6,599.6 1165.5,600C1166.3,600.4 1167.1,600.8 1168,601.2C1168.8,601.7 1169.6,602.1 1170.4,602.5C1171.3,603 1172.1,603.4 1172.9,603.9C1173.7,604.4 1174.5,604.9 1175.3,605.3C1176.1,605.8 1176.9,606.3 1177.7,606.9C1178.5,607.4 1179.6,608.3 1180,608.6L1180,608.6C1179.5,608.5 1178.1,608.3 1177.2,608C1176.3,607.8 1175.4,607.6 1174.5,607.3C1173.6,607.1 1172.7,606.8 1171.8,606.6C1171,606.3 1170.1,606.1 1169.2,605.8C1168.3,605.5 1167.4,605.2 1166.5,604.9C1165.6,604.6 1164.8,604.4 1163.9,604.1C1163,603.7 1162.1,603.4 1161.3,603.1C1160.4,602.8 1159.5,602.5 1158.7,602.1C1157.8,601.8 1157,601.5 1156.1,601.1C1155.2,600.8 1154.4,600.4 1153.5,600C1152.7,599.7 1151.8,599.3 1151,598.9C1150.2,598.5 1149.3,598.1 1148.5,597.7C1147.6,597.3 1146.8,596.9 1146,596.5C1145.1,596.1 1144.3,595.7 1143.5,595.3C1142.7,594.8 1141.8,594.4 1141,594C1140.2,593.5 1139,592.7 1138.6,592.5Z" fill="#1d1d1b"/><rect x="1150.8" y="599.6" width="8.2" height="4.6" fill="#1d1d1b" transform="rotate(21.3 1154.9 601.9)"/>
<path d="M1129,614.2C1129.5,614.3 1130.8,614.5 1131.7,614.7C1132.7,614.9 1133.5,615.1 1134.4,615.4C1135.3,615.6 1136.2,615.8 1137.1,616.1C1138,616.3 1138.9,616.6 1139.8,616.8C1140.7,617.1 1141.5,617.3 1142.4,617.6C1143.3,617.9 1144.2,618.2 1145,618.4C1145.9,618.7 1146.8,619 1147.7,619.3C1148.5,619.6 1149.4,619.9 1150.2,620.3C1151.1,620.6 1152,620.9 1152.8,621.2C1153.7,621.6 1154.5,621.9 1155.4,622.3C1156.2,622.6 1157.1,623 1157.9,623.3C1158.7,623.7 1159.6,624.1 1160.4,624.5C1161.3,624.8 1162.1,625.2 1162.9,625.6C1163.8,626 1164.6,626.4 1165.4,626.8C1166.2,627.2 1167.1,627.6 1167.9,628.1C1168.7,628.5 1169.9,629.3 1170.3,629.5L1170.3,629.5C1169.8,629.5 1168.4,629.4 1167.5,629.3C1166.5,629.1 1165.6,629 1164.7,628.8C1163.8,628.7 1162.8,628.5 1161.9,628.3C1161,628.1 1160.1,627.9 1159.2,627.7C1158.3,627.5 1157.4,627.3 1156.5,627.1C1155.6,626.8 1154.7,626.6 1153.9,626.3C1153,626.1 1152.1,625.8 1151.2,625.5C1150.4,625.2 1149.5,624.9 1148.6,624.6C1147.8,624.3 1146.9,623.9 1146.1,623.6C1145.2,623.2 1144.4,622.9 1143.5,622.5C1142.7,622.1 1141.9,621.7 1141,621.3C1140.2,620.9 1139.4,620.5 1138.6,620.1C1137.7,619.7 1136.9,619.2 1136.1,618.8C1135.3,618.3 1134.5,617.8 1133.7,617.4C1132.9,616.9 1132.1,616.4 1131.3,615.9C1130.5,615.3 1129.4,614.5 1129,614.2Z" fill="#1d1d1b"/><rect x="1147.4" y="617.2" width="8.2" height="4.6" fill="#1d1d1b" transform="rotate(20.3 1151.5 619.5)"/>
<path d="M1312.5,589.9C1313,590 1314.5,590.1 1315.4,590.2C1316.4,590.3 1317.3,590.5 1318.3,590.7C1319.2,590.9 1320.2,591.1 1321.1,591.3C1322,591.5 1323,591.7 1323.9,592C1324.8,592.2 1325.7,592.4 1326.7,592.7C1327.6,593 1328.5,593.2 1329.4,593.5C1330.3,593.8 1331.2,594.1 1332.1,594.4C1333,594.7 1333.9,595.1 1334.7,595.4C1335.6,595.7 1336.5,596.1 1337.4,596.5C1338.3,596.8 1339.1,597.2 1340,597.6C1340.8,598 1341.7,598.4 1342.6,598.8C1343.4,599.3 1344.2,599.7 1345.1,600.2C1345.9,600.6 1346.8,601.1 1347.6,601.5C1348.4,602 1349.3,602.5 1350.1,603C1350.9,603.5 1351.7,604 1352.5,604.6C1353.3,605.1 1354.5,606 1354.9,606.3L1354.9,606.3C1354.4,606.2 1353,605.9 1352.1,605.7C1351.1,605.5 1350.2,605.2 1349.3,605C1348.4,604.7 1347.5,604.5 1346.6,604.2C1345.7,604 1344.7,603.7 1343.8,603.4C1342.9,603.1 1342,602.8 1341.1,602.5C1340.2,602.3 1339.3,601.9 1338.4,601.6C1337.5,601.3 1336.6,601 1335.7,600.7C1334.9,600.4 1334,600 1333.1,599.7C1332.2,599.3 1331.3,599 1330.4,598.6C1329.6,598.3 1328.7,597.9 1327.8,597.5C1327,597.2 1326.1,596.8 1325.2,596.4C1324.4,596 1323.5,595.6 1322.6,595.2C1321.8,594.8 1320.9,594.4 1320.1,594C1319.2,593.6 1318.4,593.1 1317.5,592.7C1316.7,592.3 1315.8,591.8 1315,591.4C1314.1,590.9 1312.9,590.1 1312.5,589.9Z" fill="#1d1d1b"/><rect x="1326.9" y="597.8" width="8.2" height="4.6" fill="#1d1d1b" transform="rotate(21.1 1331 600.1)"/>
<path d="M1302.9,611.4C1303.4,611.5 1304.8,611.8 1305.7,612C1306.6,612.2 1307.5,612.5 1308.4,612.8C1309.3,613 1310.2,613.3 1311.1,613.6C1312,613.9 1312.9,614.2 1313.8,614.5C1314.7,614.7 1315.6,615 1316.5,615.4C1317.4,615.7 1318.3,616 1319.2,616.3C1320.1,616.6 1320.9,616.9 1321.8,617.3C1322.7,617.6 1323.6,618 1324.4,618.3C1325.3,618.7 1326.2,619 1327,619.4C1327.9,619.8 1328.8,620.2 1329.6,620.5C1330.5,620.9 1331.3,621.3 1332.2,621.7C1333,622.1 1333.9,622.5 1334.7,623C1335.6,623.4 1336.4,623.8 1337.3,624.2C1338.1,624.6 1338.9,625.1 1339.8,625.5C1340.6,626 1341.4,626.4 1342.3,626.9C1343.1,627.4 1344.3,628.1 1344.7,628.4L1344.7,628.4C1344.2,628.3 1342.8,628.2 1341.8,628C1340.8,627.9 1339.9,627.7 1339,627.5C1338,627.3 1337.1,627.1 1336.2,626.9C1335.3,626.7 1334.3,626.4 1333.4,626.2C1332.5,625.9 1331.6,625.7 1330.7,625.4C1329.8,625.1 1328.9,624.8 1328,624.5C1327.1,624.2 1326.2,623.9 1325.3,623.6C1324.5,623.3 1323.6,622.9 1322.7,622.6C1321.8,622.2 1321,621.9 1320.1,621.5C1319.3,621.1 1318.4,620.7 1317.5,620.3C1316.7,619.9 1315.9,619.5 1315,619C1314.2,618.6 1313.4,618.1 1312.5,617.7C1311.7,617.2 1310.9,616.7 1310.1,616.3C1309.2,615.8 1308.4,615.3 1307.6,614.8C1306.8,614.2 1306,613.7 1305.2,613.2C1304.4,612.6 1303.3,611.7 1302.9,611.4Z" fill="#1d1d1b"/><rect x="1323.3" y="616" width="8.2" height="4.6" fill="#1d1d1b" transform="rotate(22.1 1327.4 618.3)"/>
<path d="M1048.2,593.7 L1049.1,594.1 L1050.4,594.7 L1051.9,595.3 L1053.6,595.9 L1055.3,596.4 L1056.9,596.8 L1058.3,597 L1059.7,597.2 L1061.1,597.3 L1062.5,597.3 L1063.9,597.2 L1065.5,597.1 L1067.2,596.9 L1069,596.6 L1070.8,596.2 L1072.7,595.8 L1074.6,595.3 L1076.5,594.8 L1078.5,594.3 L1080.5,593.7 L1082.5,593 L1084.4,592.4 L1086.4,591.8 L1088.3,591.2 L1090.2,590.7 L1092,590.1 L1093.8,589.6 L1095.6,589.1 L1097.4,588.7 L1099.3,588.2 L1101.1,587.8 L1102.9,587.4 L1104.8,587.1 L1106.6,586.7 L1108.5,586.5 L1110.4,586.3 L1112.6,586.2 L1115,586.3 L1117.6,586.3 L1119.9,586.5 L1122,586.6 L1123.4,586.6 L1123.4,586.6 L1122,586.3 L1120,585.9 L1117.7,585.5 L1115.2,585.1 L1112.7,584.7 L1110.4,584.5 L1108.3,584.5 L1106.4,584.5 L1104.4,584.7 L1102.5,584.9 L1100.6,585.1 L1098.7,585.4 L1096.8,585.6 L1094.9,586 L1093,586.3 L1091.1,586.7 L1089.2,587.1 L1087.3,587.6 L1085.3,588.1 L1083.3,588.6 L1081.3,589.2 L1079.3,589.7 L1077.4,590.3 L1075.5,590.8 L1073.6,591.2 L1071.7,591.7 L1069.9,592.2 L1068.2,592.6 L1066.5,593 L1064.9,593.3 L1063.5,593.6 L1062.1,593.9 L1060.9,594.1 L1059.7,594.2 L1058.4,594.3 L1057.1,594.4 L1055.6,594.4 L1054,594.2 L1052.2,594.1 L1050.6,593.9 L1049.2,593.8 L1048.2,593.7Z" fill="#1d1d1b"/>
<path d="M1039.8,598.4 L1040.5,598.8 L1041.4,599.2 L1042.5,599.8 L1043.8,600.4 L1045.1,600.9 L1046.3,601.3 L1047.6,601.6 L1048.8,601.9 L1050.1,602.1 L1051.4,602.3 L1052.7,602.4 L1053.9,602.5 L1055.1,602.5 L1056.3,602.5 L1057.4,602.4 L1058.5,602.3 L1059.7,602.2 L1060.8,602 L1062,601.7 L1063.2,601.5 L1064.4,601.2 L1065.6,600.8 L1066.8,600.5 L1068,600.1 L1069.3,599.6 L1070.5,599.1 L1071.8,598.6 L1073,598.1 L1074.3,597.6 L1075.5,597 L1076.8,596.5 L1078.2,596 L1079.6,595.5 L1081,594.9 L1082.3,594.4 L1083.7,593.9 L1085,593.4 L1086.2,592.8 L1087.5,592.3 L1088.7,591.8 L1089.9,591.3 L1091.2,590.8 L1092.6,590.3 L1094.1,589.8 L1095.6,589.3 L1097,588.9 L1098.2,588.5 L1099.1,588.2 L1099.1,588.2 L1098.2,588.3 L1096.9,588.5 L1095.5,588.7 L1093.9,589 L1092.3,589.3 L1090.8,589.6 L1089.5,589.9 L1088.2,590.2 L1086.9,590.6 L1085.6,591 L1084.3,591.3 L1082.9,591.7 L1081.6,592.1 L1080.1,592.5 L1078.7,592.9 L1077.3,593.3 L1075.9,593.7 L1074.5,594.2 L1073.1,594.6 L1071.8,595.1 L1070.6,595.5 L1069.3,596 L1068.1,596.4 L1067,596.7 L1065.8,597.1 L1064.6,597.4 L1063.5,597.7 L1062.4,598 L1061.3,598.2 L1060.2,598.4 L1059.1,598.6 L1058.1,598.8 L1057,599 L1056,599.1 L1055,599.2 L1053.9,599.3 L1052.7,599.4 L1051.5,599.5 L1050.3,599.5 L1049.1,599.5 L1047.8,599.5 L1046.7,599.5 L1045.5,599.4 L1044.1,599.2 L1042.8,598.9 L1041.6,598.7 L1040.6,598.5 L1039.8,598.4Z" fill="#1d1d1b"/>
<path d="M1100.2,591.1 L1101.1,591 L1102.3,590.8 L1103.8,590.5 L1105.3,590.3 L1106.8,590 L1108.2,589.9 L1109.5,589.8 L1110.9,589.8 L1112.2,589.7 L1113.5,589.7 L1114.8,589.8 L1115.9,589.9 L1116.9,590 L1117.9,590.1 L1118.8,590.3 L1119.7,590.5 L1120.5,590.8 L1121.3,591.1 L1122,591.4 L1122.7,591.8 L1123.3,592.2 L1124,592.7 L1124.6,593.2 L1125.2,593.7 L1125.9,594.3 L1126.4,594.8 L1127,595.4 L1127.6,596.1 L1128.1,596.7 L1128.6,597.4 L1129.1,598.1 L1129.6,598.9 L1130.1,599.8 L1130.6,600.6 L1131,601.3 L1131.3,601.8 L1131.3,601.8 L1131.2,601.2 L1131,600.5 L1130.8,599.5 L1130.6,598.5 L1130.3,597.5 L1130,596.6 L1129.6,595.8 L1129.2,595 L1128.8,594.2 L1128.3,593.4 L1127.7,592.6 L1127.2,591.9 L1126.6,591.2 L1125.9,590.5 L1125.2,589.8 L1124.5,589.2 L1123.6,588.6 L1122.7,588.1 L1121.7,587.7 L1120.7,587.3 L1119.6,587 L1118.5,586.8 L1117.3,586.6 L1116.1,586.5 L1114.8,586.6 L1113.4,586.6 L1112,586.8 L1110.6,587 L1109.2,587.3 L1107.8,587.7 L1106.4,588.2 L1104.9,588.8 L1103.4,589.5 L1102.1,590.1 L1101,590.7 L1100.2,591.1Z" fill="#1d1d1b"/>
<rect x="1086.6" y="591.1" width="8" height="3.2" fill="#1d1d1b" transform="rotate(-17 1090.6 592.7)"/>
<path d="M1114.9,621 L1113.5,620.9 L1111.6,620.8 L1109.3,620.7 L1106.9,620.6 L1104.3,620.6 L1101.9,620.6 L1099.6,620.8 L1097.1,621 L1094.7,621.2 L1092.2,621.5 L1089.8,621.8 L1087.5,622.2 L1085.4,622.5 L1083.3,623 L1081.3,623.4 L1079.3,623.8 L1077.4,624.3 L1075.5,624.8 L1073.6,625.3 L1071.8,625.9 L1069.9,626.4 L1068.1,627 L1066.3,627.6 L1064.5,628.3 L1062.6,629 L1060.7,629.8 L1058.8,630.6 L1056.9,631.4 L1055.1,632.3 L1053.2,633.1 L1051.3,634 L1049.4,634.9 L1047.6,635.8 L1045.8,636.7 L1044,637.6 L1042.2,638.3 L1040.3,639 L1038.3,639.6 L1036.1,640.2 L1034.2,640.7 L1032.5,641.1 L1031.3,641.5 L1031.3,641.5 L1032.6,641.5 L1034.3,641.5 L1036.3,641.5 L1038.6,641.4 L1040.8,641.2 L1043,640.9 L1045,640.4 L1047,639.8 L1049,639.1 L1051,638.4 L1052.9,637.6 L1054.8,636.9 L1056.7,636.1 L1058.6,635.3 L1060.5,634.5 L1062.3,633.6 L1064.1,632.9 L1065.9,632.1 L1067.7,631.4 L1069.5,630.8 L1071.2,630.2 L1072.9,629.6 L1074.7,629 L1076.5,628.4 L1078.4,627.8 L1080.2,627.2 L1082.1,626.6 L1084,626.1 L1086,625.5 L1088.1,625 L1090.3,624.5 L1092.6,624 L1095,623.5 L1097.4,623 L1099.8,622.6 L1102.1,622.2 L1104.4,621.9 L1106.9,621.6 L1109.3,621.4 L1111.6,621.3 L1113.5,621.1 L1114.9,621Z" fill="#1d1d1b"/>
<path d="M1075,625.4 L1074,625.7 L1072.6,626 L1070.9,626.5 L1069.2,627 L1067.4,627.6 L1065.7,628.2 L1064.1,628.8 L1062.5,629.4 L1060.9,630.1 L1059.4,630.8 L1057.9,631.5 L1056.4,632.1 L1055.1,632.7 L1053.8,633.2 L1052.6,633.8 L1051.5,634.3 L1050.4,634.8 L1049.4,635.2 L1048.5,635.5 L1047.7,635.8 L1047,636 L1046.3,636.3 L1045.5,636.5 L1044.4,636.8 L1043.2,637.1 L1041.7,637.5 L1040.2,637.8 L1038.7,638.2 L1037.2,638.4 L1035.9,638.6 L1034.6,638.7 L1033.3,638.7 L1032,638.6 L1030.8,638.5 L1029.5,638.3 L1028.4,638.1 L1027.2,637.9 L1026.1,637.6 L1025,637.3 L1024,637 L1023.1,636.6 L1022.2,636.2 L1021.3,635.6 L1020.5,635.1 L1019.7,634.4 L1018.9,633.7 L1018.2,633 L1017.6,632.2 L1017,631.4 L1016.5,630.3 L1016.1,629.2 L1015.6,628.1 L1015.3,627.2 L1015,626.5 L1015,626.5 L1015.1,627.2 L1015.2,628.2 L1015.4,629.4 L1015.6,630.6 L1015.9,631.8 L1016.4,633 L1016.9,633.9 L1017.6,634.9 L1018.3,635.8 L1019,636.7 L1019.9,637.5 L1020.8,638.2 L1021.8,638.9 L1022.9,639.5 L1024,640.1 L1025.2,640.5 L1026.4,640.9 L1027.6,641.3 L1028.9,641.6 L1030.3,641.9 L1031.7,642.1 L1033.1,642.2 L1034.6,642.3 L1036.1,642.2 L1037.8,642 L1039.4,641.7 L1041.1,641.3 L1042.6,640.8 L1044.1,640.4 L1045.4,640 L1046.4,639.7 L1047.3,639.4 L1048.1,639.1 L1048.9,638.8 L1049.7,638.5 L1050.6,638 L1051.7,637.5 L1052.8,637 L1053.9,636.3 L1055.1,635.7 L1056.3,635 L1057.6,634.3 L1058.9,633.6 L1060.3,632.8 L1061.8,631.9 L1063.3,631 L1064.8,630.2 L1066.3,629.4 L1067.8,628.7 L1069.5,627.9 L1071.2,627.1 L1072.7,626.4 L1074.1,625.8 L1075,625.4Z" fill="#1d1d1b"/>
<path d="M1051,630.6 L1049.7,630.9 L1047.9,631.5 L1045.8,632.1 L1043.5,632.8 L1041.4,633.4 L1039.6,633.9 L1038,634.2 L1036.5,634.4 L1035,634.6 L1033.7,634.7 L1032.3,634.7 L1031.1,634.7 L1029.9,634.6 L1028.8,634.4 L1027.7,634.2 L1026.6,633.9 L1025.6,633.5 L1024.7,633.1 L1023.8,632.7 L1023,632.2 L1022.3,631.8 L1021.6,631.2 L1020.9,630.5 L1020.2,629.8 L1019.4,629 L1018.6,627.9 L1017.8,626.7 L1017.1,625.6 L1016.5,624.7 L1016,624 L1016,624 L1016.2,624.8 L1016.6,625.9 L1017,627.2 L1017.5,628.5 L1018,629.8 L1018.6,631 L1019.3,631.9 L1019.9,632.8 L1020.7,633.6 L1021.5,634.4 L1022.3,635.1 L1023.3,635.7 L1024.4,636.3 L1025.5,636.8 L1026.8,637.3 L1028.1,637.7 L1029.5,637.9 L1030.9,638.1 L1032.4,638.1 L1033.9,638 L1035.5,637.8 L1037.1,637.5 L1038.7,637.1 L1040.4,636.5 L1042.3,635.7 L1044.3,634.7 L1046.4,633.5 L1048.3,632.3 L1049.9,631.3 L1051,630.6Z" fill="#1d1d1b"/>
<rect x="1067.2" y="626" width="8" height="3.2" fill="#1d1d1b" transform="rotate(-22 1071.2 627.6)"/>
<path d="M1210.8,591.1 L1211.6,591.5 L1212.8,591.9 L1214.2,592.5 L1215.8,593.1 L1217.3,593.6 L1218.9,593.9 L1220.3,594.2 L1221.8,594.4 L1223.4,594.6 L1224.9,594.7 L1226.5,594.7 L1228,594.7 L1229.6,594.6 L1231.1,594.3 L1232.6,594.1 L1234,593.7 L1235.5,593.4 L1237,593 L1238.5,592.7 L1240,592.4 L1241.5,592 L1243.1,591.6 L1244.7,591.2 L1246.4,590.7 L1248.1,590.2 L1249.9,589.7 L1251.6,589.1 L1253.4,588.5 L1255.2,588 L1256.9,587.4 L1258.7,586.9 L1260.5,586.3 L1262.4,585.8 L1264.2,585.3 L1265.9,584.8 L1267.5,584.4 L1269.1,584 L1270.5,583.7 L1271.8,583.4 L1273.2,583.1 L1274.6,582.9 L1276,582.7 L1277.7,582.6 L1279.6,582.5 L1281.5,582.5 L1283.3,582.5 L1284.9,582.4 L1286,582.4 L1286,582.4 L1284.9,582.2 L1283.4,582 L1281.6,581.8 L1279.6,581.6 L1277.7,581.4 L1276,581.3 L1274.4,581.3 L1273,581.4 L1271.6,581.5 L1270.1,581.6 L1268.7,581.8 L1267.1,582 L1265.3,582.3 L1263.5,582.6 L1261.7,583 L1259.8,583.4 L1257.9,583.8 L1256.1,584.2 L1254.2,584.6 L1252.4,585.1 L1250.6,585.5 L1248.8,586 L1247.1,586.5 L1245.4,586.9 L1243.8,587.3 L1242.2,587.6 L1240.6,588 L1239.1,588.3 L1237.6,588.6 L1236,589 L1234.5,589.3 L1233.1,589.7 L1231.7,590 L1230.3,590.4 L1228.9,590.7 L1227.6,590.9 L1226.2,591.1 L1224.8,591.3 L1223.4,591.4 L1221.9,591.5 L1220.5,591.6 L1219.1,591.7 L1217.7,591.6 L1216.1,591.5 L1214.5,591.4 L1213,591.3 L1211.7,591.1 L1210.8,591.1Z" fill="#1d1d1b"/>
<path d="M1199,596.2 L1199.8,596.6 L1200.8,597.1 L1202.1,597.8 L1203.5,598.4 L1204.9,599 L1206.3,599.4 L1207.6,599.8 L1208.9,600.1 L1210.3,600.3 L1211.6,600.5 L1213,600.6 L1214.3,600.7 L1215.5,600.6 L1216.8,600.6 L1217.9,600.4 L1219.1,600.2 L1220.2,600 L1221.4,599.8 L1222.5,599.5 L1223.7,599.2 L1224.9,598.9 L1226,598.6 L1227.2,598.2 L1228.3,597.8 L1229.5,597.4 L1230.6,597 L1231.7,596.5 L1232.8,596.1 L1233.9,595.6 L1235,595.2 L1236.1,594.8 L1237.2,594.4 L1238.3,594 L1239.4,593.5 L1240.6,593.1 L1241.7,592.7 L1242.9,592.3 L1244.2,591.8 L1245.4,591.4 L1246.6,590.9 L1247.9,590.5 L1249.2,590 L1250.5,589.6 L1252,589.1 L1253.5,588.7 L1255,588.2 L1256.1,587.9 L1257,587.6 L1257,587.6 L1256.1,587.7 L1254.9,587.9 L1253.4,588.1 L1251.8,588.3 L1250.3,588.5 L1248.8,588.8 L1247.5,589 L1246.2,589.3 L1244.9,589.6 L1243.6,589.9 L1242.3,590.2 L1241.1,590.5 L1239.9,590.8 L1238.7,591.1 L1237.5,591.4 L1236.3,591.7 L1235.2,592.1 L1234,592.4 L1232.9,592.8 L1231.7,593.1 L1230.6,593.5 L1229.5,593.9 L1228.4,594.2 L1227.3,594.6 L1226.2,594.9 L1225.1,595.2 L1223.9,595.5 L1222.8,595.8 L1221.7,596 L1220.6,596.2 L1219.5,596.5 L1218.4,596.7 L1217.4,596.9 L1216.3,597.1 L1215.2,597.2 L1214.1,597.3 L1213,597.4 L1211.8,597.5 L1210.5,597.5 L1209.2,597.5 L1208,597.4 L1206.7,597.4 L1205.4,597.2 L1203.9,597 L1202.4,596.8 L1201,596.5 L1199.9,596.3 L1199,596.2Z" fill="#1d1d1b"/>
<path d="M1266.8,589.2 L1267.6,589.1 L1268.7,588.9 L1270.1,588.6 L1271.5,588.4 L1272.9,588.1 L1274.2,588 L1275.4,588 L1276.8,588 L1278.1,588 L1279.4,588.1 L1280.7,588.1 L1281.9,588.2 L1283,588.4 L1284.1,588.5 L1285.1,588.7 L1286.1,588.9 L1287.1,589.1 L1288,589.4 L1288.8,589.6 L1289.6,590 L1290.3,590.3 L1291.1,590.7 L1291.8,591.1 L1292.4,591.5 L1293.1,592 L1293.7,592.5 L1294.4,593.1 L1295,593.7 L1295.6,594.4 L1296.1,595 L1296.7,595.7 L1297.2,596.6 L1297.8,597.5 L1298.3,598.3 L1298.7,599 L1299,599.5 L1299,599.5 L1298.9,598.9 L1298.7,598.1 L1298.5,597.2 L1298.2,596.1 L1297.9,595.1 L1297.5,594.2 L1297,593.3 L1296.6,592.5 L1296,591.7 L1295.5,590.9 L1294.8,590.2 L1294.2,589.5 L1293.4,588.8 L1292.7,588.2 L1291.8,587.6 L1291,587.1 L1290,586.6 L1289,586.2 L1288,585.9 L1286.9,585.6 L1285.8,585.3 L1284.6,585.2 L1283.4,585 L1282.1,585 L1280.8,585 L1279.4,585 L1278,585.2 L1276.6,585.4 L1275.2,585.6 L1273.8,586 L1272.5,586.4 L1271.1,587 L1269.7,587.6 L1268.5,588.3 L1267.5,588.8 L1266.8,589.2Z" fill="#1d1d1b"/>
<rect x="1242.4" y="590.3" width="8" height="3.2" fill="#1d1d1b" transform="rotate(-17 1246.4 591.9)"/>
<path d="M1279.8,616.5 L1278.7,616.3 L1277.2,616.1 L1275.4,615.9 L1273.5,615.7 L1271.7,615.5 L1270,615.4 L1268.5,615.3 L1267.2,615.3 L1265.9,615.3 L1264.6,615.4 L1263.1,615.5 L1261.5,615.7 L1259.7,615.9 L1257.8,616.1 L1255.7,616.5 L1253.7,616.8 L1251.6,617.2 L1249.6,617.7 L1247.6,618.3 L1245.7,618.9 L1243.9,619.5 L1242,620.2 L1240.2,620.9 L1238.4,621.6 L1236.5,622.4 L1234.6,623.1 L1232.8,623.9 L1230.9,624.7 L1229,625.5 L1227.2,626.3 L1225.2,627.1 L1223.3,628 L1221.4,628.9 L1219.4,629.8 L1217.6,630.6 L1215.8,631.4 L1214.1,632.1 L1212.3,632.8 L1210.7,633.5 L1209,634.1 L1207.4,634.7 L1205.8,635.2 L1204.1,635.7 L1202.2,636 L1200.3,636.3 L1198.6,636.6 L1197.1,636.8 L1196,637 L1196,637 L1197.1,637.1 L1198.6,637.3 L1200.4,637.5 L1202.3,637.6 L1204.3,637.7 L1206.2,637.6 L1208,637.4 L1209.8,637 L1211.6,636.6 L1213.5,636.2 L1215.3,635.6 L1217.2,635 L1219.1,634.3 L1221.1,633.6 L1223.1,632.7 L1225,631.8 L1226.9,631 L1228.8,630.1 L1230.7,629.3 L1232.6,628.4 L1234.4,627.6 L1236.2,626.8 L1238,626 L1239.8,625.2 L1241.6,624.4 L1243.4,623.6 L1245.2,622.8 L1246.9,622 L1248.7,621.3 L1250.4,620.7 L1252.3,620.1 L1254.3,619.5 L1256.3,619 L1258.2,618.5 L1260.1,618.1 L1261.9,617.7 L1263.4,617.4 L1264.8,617.2 L1266,617 L1267.3,616.8 L1268.6,616.7 L1270,616.6 L1271.6,616.5 L1273.5,616.5 L1275.4,616.5 L1277.2,616.5 L1278.7,616.5 L1279.8,616.5Z" fill="#1d1d1b"/>
<path d="M1243,625.4 L1241.8,625.8 L1240,626.5 L1238,627.2 L1235.8,628 L1233.7,628.9 L1231.6,629.6 L1229.8,630.3 L1227.9,631.1 L1226,631.8 L1224.2,632.6 L1222.3,633.2 L1220.5,633.8 L1218.7,634.4 L1216.8,634.9 L1215,635.4 L1213.2,635.9 L1211.5,636.2 L1209.8,636.5 L1208.1,636.6 L1206.4,636.7 L1204.7,636.7 L1203,636.6 L1201.4,636.5 L1199.8,636.3 L1198.3,636 L1196.7,635.6 L1195.2,635.2 L1193.8,634.7 L1192.5,634.1 L1191.3,633.6 L1190.3,632.9 L1189.3,632.2 L1188.5,631.4 L1187.7,630.5 L1187,629.6 L1186.3,628.7 L1185.7,627.7 L1185.1,626.7 L1184.6,625.6 L1184.2,624.5 L1183.8,623.5 L1183.5,622.5 L1183.2,621.6 L1183.1,620.6 L1183,619.6 L1182.9,618.8 L1182.9,618 L1182.8,617.5 L1182.8,617.5 L1182.7,618 L1182.6,618.8 L1182.5,619.6 L1182.5,620.6 L1182.4,621.7 L1182.5,622.7 L1182.7,623.8 L1182.9,624.9 L1183.2,626.1 L1183.5,627.3 L1184,628.6 L1184.5,629.7 L1185.1,630.8 L1185.8,631.9 L1186.6,633 L1187.5,634.1 L1188.5,635.1 L1189.7,636 L1191.1,636.9 L1192.5,637.6 L1194.1,638.3 L1195.8,638.9 L1197.5,639.4 L1199.2,639.7 L1200.9,640 L1202.7,640.2 L1204.6,640.3 L1206.5,640.3 L1208.3,640.2 L1210.2,639.9 L1212.1,639.6 L1214,639.1 L1215.9,638.6 L1217.8,638 L1219.7,637.3 L1221.5,636.6 L1223.3,635.8 L1225.2,634.9 L1227,634 L1228.8,633.1 L1230.6,632.1 L1232.4,631.2 L1234.3,630.2 L1236.3,629.1 L1238.4,628 L1240.3,626.9 L1241.9,626.1 L1243,625.4Z" fill="#1d1d1b"/>
<path d="M1217,632.4 L1215.7,632.5 L1214,632.8 L1211.9,633.1 L1209.7,633.4 L1207.7,633.6 L1205.9,633.7 L1204.3,633.6 L1202.8,633.4 L1201.2,633.2 L1199.8,632.9 L1198.4,632.5 L1197,632.1 L1195.8,631.7 L1194.6,631.1 L1193.4,630.5 L1192.3,629.8 L1191.2,629.1 L1190.2,628.3 L1189.3,627.4 L1188.4,626.4 L1187.6,625.3 L1186.8,624.2 L1186.1,623.3 L1185.6,622.6 L1185.6,622.6 L1185.9,623.4 L1186.2,624.5 L1186.7,625.8 L1187.2,627.1 L1187.9,628.5 L1188.8,629.7 L1189.7,630.8 L1190.7,631.8 L1191.9,632.7 L1193.1,633.6 L1194.5,634.4 L1196,635.1 L1197.5,635.6 L1199.1,636 L1200.8,636.3 L1202.5,636.5 L1204.3,636.5 L1206.1,636.3 L1208.1,635.9 L1210.2,635.3 L1212.3,634.5 L1214.2,633.7 L1215.8,632.9 L1217,632.4Z" fill="#1d1d1b"/>
<rect x="1237.4" y="618.8" width="8" height="3.2" fill="#1d1d1b" transform="rotate(-22 1241.4 620.4)"/>
<line x1="916" y1="617.2" x2="947.2" y2="604.1" stroke="#6e1f18" stroke-width="3.9" stroke-linecap="butt"/>
<line x1="959.6" y1="615.9" x2="981.7" y2="606.3" stroke="#6e1f18" stroke-width="3.9" stroke-linecap="butt"/>
<line x1="1004.3" y1="621" x2="1026.9" y2="611.4" stroke="#6e1f18" stroke-width="3.9" stroke-linecap="butt"/>
<line x1="1047.7" y1="622.1" x2="1107.6" y2="599" stroke="#6e1f18" stroke-width="3.9" stroke-linecap="butt"/>
<line x1="1121.7" y1="611.4" x2="1143.7" y2="601.8" stroke="#6e1f18" stroke-width="3.9" stroke-linecap="butt"/>
<line x1="1169.6" y1="617.6" x2="1192.2" y2="607.5" stroke="#6e1f18" stroke-width="3.9" stroke-linecap="butt"/>
<line x1="1202.4" y1="623.3" x2="1265.6" y2="598.4" stroke="#6e1f18" stroke-width="3.9" stroke-linecap="butt"/>
<line x1="1284.9" y1="609" x2="1310.5" y2="601" stroke="#6e1f18" stroke-width="3.9" stroke-linecap="butt"/>
<line x1="1358.8" y1="615.9" x2="1398" y2="600.8" stroke="#6e1f18" stroke-width="3.9" stroke-linecap="butt"/>
<polygon points="1066,609.8 1094.9,599.2 1078.4,597.6 1078.3,600.1 1082.2,600.7 1065,607" fill="#000"/>
<polygon points="1091.6,610.2 1063.2,621 1079.7,622.4 1079.8,619.9 1075.9,619.4 1092.7,613" fill="#000"/>
<polygon points="1227.8,608.2 1256.4,598.4 1240,596.4 1239.8,598.9 1243.7,599.6 1226.8,605.4" fill="#000"/>
<polygon points="1253.2,608.6 1223.6,619.4 1240.1,621.1 1240.2,618.6 1236.3,618 1254.2,611.4" fill="#000"/>
<g transform="rotate(0 1034.8 589.9)"><path d="M1040.5,592.2 A6.1,6.1 0 1 1 1038.9,585.4" fill="none" stroke="#000" stroke-width="2.6"/><polygon points="1042,588.2 1040.3,580.9 1034.5,587.3" fill="#000"/></g>
<g transform="rotate(0 1010.5 637.4)"><path d="M1016.2,639.7 A6.1,6.1 0 1 1 1014.6,632.9" fill="none" stroke="#000" stroke-width="2.6"/><polygon points="1017.7,635.7 1016,628.4 1010.2,634.8" fill="#000"/></g>
<g transform="rotate(0 1130.2 583.7)"><path d="M1135.9,586 A6.1,6.1 0 1 1 1134.3,579.2" fill="none" stroke="#000" stroke-width="2.6"/><polygon points="1137.4,582 1135.7,574.7 1129.9,581.1" fill="#000"/></g>
<g transform="rotate(0 1109.3 621.6)"><path d="M1115,623.9 A6.1,6.1 0 1 1 1113.4,617.1" fill="none" stroke="#000" stroke-width="2.6"/><polygon points="1116.5,619.9 1114.8,612.6 1109,619" fill="#000"/></g>
<g transform="rotate(0 1201.8 587.7)"><path d="M1207.5,590 A6.1,6.1 0 1 1 1205.9,583.2" fill="none" stroke="#000" stroke-width="2.6"/><polygon points="1209,586 1207.3,578.7 1201.5,585.1" fill="#000"/></g>
<g transform="rotate(0 1178.1 634.6)"><path d="M1183.8,636.9 A6.1,6.1 0 1 1 1182.2,630.1" fill="none" stroke="#000" stroke-width="2.6"/><polygon points="1185.3,632.9 1183.6,625.6 1177.8,632" fill="#000"/></g>
<g transform="rotate(0 1293.3 581.5)"><path d="M1299,583.8 A6.1,6.1 0 1 1 1297.4,577" fill="none" stroke="#000" stroke-width="2.6"/><polygon points="1300.5,579.8 1298.8,572.5 1293,578.9" fill="#000"/></g>
<g transform="rotate(0 1273 623.3)"><path d="M1278.7,625.6 A6.1,6.1 0 1 1 1277.1,618.8" fill="none" stroke="#000" stroke-width="2.6"/><polygon points="1280.2,621.6 1278.5,614.3 1272.7,620.7" fill="#000"/></g>
<polygon points="1204.2,522.8 1217.6,509.4 1211.6,503.8 1234.7,503.8 1234.7,526.9 1229.1,520.9 1215.7,534.3" fill="#fff" stroke="#000" stroke-width="1.7" stroke-linejoin="miter"/>
<polygon points="1104.8,688.6 1091.4,702 1097.5,707.6 1074.4,707.6 1074.4,684.5 1080,690.6 1093.4,677.2" fill="#fff" stroke="#000" stroke-width="1.7" stroke-linejoin="miter"/>
</g>
<path d="M926,537.9 V498 H966.9" fill="none" stroke="#000" stroke-width="3.7"/><text x="932.9" y="521" font-size="14" textLength="45.6" lengthAdjust="spacingAndGlyphs" fill="#000">100 km</text>
<rect x="916.9" y="489" width="479.2" height="245" fill="none" stroke="#1d1d1b" stroke-width="3.7"/><rect x="1366.1" y="706.1" width="30" height="27.8" fill="#fff" stroke="#1d1d1b" stroke-width="3.7"/><text x="1381.6" y="727.8" font-size="33" text-anchor="middle" fill="#000">e</text>
<clipPath id="clipf"><rect x="916" y="825.9" width="479.5" height="244.9"/></clipPath>
<g clip-path="url(#clipf)">
<polygon points="1099,824.7 1157.9,854.4 1056,1059.6 997.1,1029.9" fill="#faf5b8"/>
<polygon points="1259.4,838.8 1312.7,865.8 1217.2,1058.6 1162.9,1031.4" fill="#faf5b8"/>
<path d="M920.2,865C931,866.9 969.1,873.7 985,876.2C1000.9,878.7 1006.6,878.8 1015.8,880.2C1025,881.6 1034,883.5 1040,884.4C1046,885.3 1048.5,885.9 1051.8,885.9C1055.1,885.9 1056.9,885.5 1060,884.6C1063.1,883.7 1066.3,882.6 1070.4,880.6C1074.5,878.6 1080.7,874.6 1084.8,872.4C1088.9,870.2 1091.4,868.8 1095,867.4C1098.6,866 1100.9,865.2 1106.4,864.3C1111.9,863.4 1120.8,862.2 1128,862.2C1135.2,862.2 1140.9,863.1 1149.6,864.3C1158.3,865.5 1172.3,868.2 1180,869.4C1187.7,870.6 1191.5,870.9 1196,871.5C1200.5,872.1 1203.4,872.5 1207,872.8C1210.6,873 1214.4,873.1 1217.6,873C1220.8,872.9 1223.1,872.6 1226,872C1228.9,871.4 1231,870.9 1234.9,869.6C1238.8,868.3 1245.5,865.5 1249.3,864.3C1253.1,863.1 1254.9,863 1258,862.6C1261.1,862.2 1262.7,862 1268,862.2C1273.3,862.4 1280.9,862.5 1289.6,863.6C1298.3,864.7 1302.8,865.7 1320,868.6C1337.2,871.5 1380.7,878.9 1392.8,880.9L1392.8,1028.5C1380.7,1026.5 1339.6,1019.4 1320,1016.2C1300.4,1013 1287.5,1011.4 1275.2,1009.4C1262.9,1007.4 1253.6,1005.3 1246.4,1004C1239.2,1002.7 1236.8,1002 1232,1001.8C1227.2,1001.6 1222.4,1001.8 1217.6,1002.6C1212.8,1003.5 1207.5,1005.7 1203.2,1006.9C1198.9,1008.1 1195.6,1009.2 1192,1010C1188.4,1010.8 1186.3,1011.4 1181.6,1011.9C1176.9,1012.4 1174.1,1012.8 1164,1012.7C1153.9,1012.6 1130.5,1011.7 1120.8,1011.2C1111.1,1010.7 1110.3,1009.8 1106,1009.6C1101.7,1009.4 1098.4,1009.2 1094.9,1009.8C1091.4,1010.3 1088.1,1011.3 1084.8,1012.9C1081.5,1014.5 1078.1,1017.5 1075,1019.4C1071.9,1021.3 1069.4,1023.2 1066.2,1024.6C1063,1026 1059.1,1027.3 1056.1,1028C1053.1,1028.7 1051.1,1028.6 1048,1028.6C1044.9,1028.6 1045.2,1028.8 1037.4,1027.8C1029.6,1026.8 1020.9,1025.6 1001.4,1022.7C981.9,1019.8 933.7,1012.6 920.2,1010.6Z" fill="#b9baba" fill-opacity="0.465"/>
<clipPath id="ycl"><polygon points="1099,824.7 1157.9,854.4 1056,1059.6 997.1,1029.9"/><polygon points="1259.4,838.8 1312.7,865.8 1217.2,1058.6 1162.9,1031.4"/></clipPath>
<path d="M916,933.6C916.4,933.6 911.6,933.9 918.6,933.4C925.6,932.9 944.4,930.7 958.2,930.6C972,930.5 988.2,931.5 1001.4,932.7C1014.6,933.9 1028.5,936.3 1037.4,937.8C1046.3,939.2 1049.9,940.5 1055,941.4C1060.1,942.3 1063.8,943.3 1068,943.4C1072.2,943.5 1075.5,942.7 1080,941.8C1084.5,940.9 1088.2,939.7 1095,937.8C1101.8,935.9 1112.9,932.8 1120.8,930.6C1128.7,928.4 1136.4,925.9 1142.4,924.8C1148.4,923.7 1152.2,923.8 1156.8,924.1C1161.4,924.4 1165.9,925.5 1170,926.6C1174.1,927.8 1176.1,929.1 1181.6,931C1187.1,932.9 1197.2,936.1 1203.2,938C1209.2,939.9 1212.8,941.3 1217.6,942.4C1222.4,943.5 1227.4,944.6 1232,944.6C1236.6,944.6 1240.4,943.6 1245,942.2C1249.6,940.8 1253.2,938.7 1259.4,936.3C1265.6,933.9 1275,930.3 1282.4,927.7C1289.8,925.1 1297.6,921.9 1304,920.5C1310.4,919.1 1314.4,918.8 1320.8,919.3C1327.2,919.8 1334,921.5 1342.4,923.4C1350.8,925.3 1362.8,929.2 1371.2,930.6C1379.6,932 1389.2,931.8 1392.8,932L1392.8,969.4C1390.4,968.8 1384.4,966.9 1378.4,965.8C1372.4,964.7 1365.2,963.1 1356.8,963C1348.4,962.9 1335.2,964.8 1328,965.1C1320.8,965.4 1320,965.2 1313.6,965C1307.2,964.8 1297.2,964.6 1289.6,963.7C1282,962.8 1275.2,960.5 1268,959.4C1260.8,958.3 1252.4,957.2 1246.4,957.2C1240.4,957.2 1238.5,958.4 1232,959.4C1225.5,960.4 1213.7,961.7 1207.5,963C1201.3,964.3 1199.6,966.1 1195,967.4C1190.4,968.7 1185.2,970 1180,970.6C1174.8,971.2 1169.1,971 1164,970.8C1158.9,970.6 1155.6,970.6 1149.6,969.4C1143.6,968.2 1135.2,965.9 1128,963.7C1120.8,961.6 1113.6,958.2 1106.4,956.5C1099.2,954.8 1091.7,953.8 1084.8,953.6C1077.9,953.5 1071.7,953.9 1065,955.6C1058.3,957.3 1049.8,961.5 1044.5,963.7C1039.2,965.9 1037.1,967.5 1033,969C1028.9,970.5 1025.5,972 1020,972.6C1014.5,973.2 1007.9,972.9 1000,972.5C992.1,972.1 982,970.5 972.6,970.2C963.2,969.9 952.8,970.3 943.8,970.9C934.8,971.5 923.2,973.2 918.6,973.8C914,974.3 916.4,974.1 916,974.2Z" fill="#d1dc96"/>
<path d="M916,933.6C916.4,933.6 911.6,933.9 918.6,933.4C925.6,932.9 944.4,930.7 958.2,930.6C972,930.5 988.2,931.5 1001.4,932.7C1014.6,933.9 1028.5,936.3 1037.4,937.8C1046.3,939.2 1049.9,940.5 1055,941.4C1060.1,942.3 1063.8,943.3 1068,943.4C1072.2,943.5 1075.5,942.7 1080,941.8C1084.5,940.9 1088.2,939.7 1095,937.8C1101.8,935.9 1112.9,932.8 1120.8,930.6C1128.7,928.4 1136.4,925.9 1142.4,924.8C1148.4,923.7 1152.2,923.8 1156.8,924.1C1161.4,924.4 1165.9,925.5 1170,926.6C1174.1,927.8 1176.1,929.1 1181.6,931C1187.1,932.9 1197.2,936.1 1203.2,938C1209.2,939.9 1212.8,941.3 1217.6,942.4C1222.4,943.5 1227.4,944.6 1232,944.6C1236.6,944.6 1240.4,943.6 1245,942.2C1249.6,940.8 1253.2,938.7 1259.4,936.3C1265.6,933.9 1275,930.3 1282.4,927.7C1289.8,925.1 1297.6,921.9 1304,920.5C1310.4,919.1 1314.4,918.8 1320.8,919.3C1327.2,919.8 1334,921.5 1342.4,923.4C1350.8,925.3 1362.8,929.2 1371.2,930.6C1379.6,932 1389.2,931.8 1392.8,932L1392.8,969.4C1390.4,968.8 1384.4,966.9 1378.4,965.8C1372.4,964.7 1365.2,963.1 1356.8,963C1348.4,962.9 1335.2,964.8 1328,965.1C1320.8,965.4 1320,965.2 1313.6,965C1307.2,964.8 1297.2,964.6 1289.6,963.7C1282,962.8 1275.2,960.5 1268,959.4C1260.8,958.3 1252.4,957.2 1246.4,957.2C1240.4,957.2 1238.5,958.4 1232,959.4C1225.5,960.4 1213.7,961.7 1207.5,963C1201.3,964.3 1199.6,966.1 1195,967.4C1190.4,968.7 1185.2,970 1180,970.6C1174.8,971.2 1169.1,971 1164,970.8C1158.9,970.6 1155.6,970.6 1149.6,969.4C1143.6,968.2 1135.2,965.9 1128,963.7C1120.8,961.6 1113.6,958.2 1106.4,956.5C1099.2,954.8 1091.7,953.8 1084.8,953.6C1077.9,953.5 1071.7,953.9 1065,955.6C1058.3,957.3 1049.8,961.5 1044.5,963.7C1039.2,965.9 1037.1,967.5 1033,969C1028.9,970.5 1025.5,972 1020,972.6C1014.5,973.2 1007.9,972.9 1000,972.5C992.1,972.1 982,970.5 972.6,970.2C963.2,969.9 952.8,970.3 943.8,970.9C934.8,971.5 923.2,973.2 918.6,973.8C914,974.3 916.4,974.1 916,974.2Z" fill="#ccda88" clip-path="url(#ycl)"/>
<path d="M918.6,952.9 L921.5,952.9 L925.4,952.8 L930.1,952.7 L935.1,952.5 L940.2,952.4 L945,952.3 L949.5,952.2 L954.1,952.1 L958.7,952 L963.4,951.9 L968,951.9 L972.6,952 L977.1,952.1 L981.6,952.3 L986.1,952.6 L990.6,952.8 L995.2,953.1 L1000,953.4 L1005,953.7 L1010.2,954.1 L1015.6,954.5 L1020.8,954.9 L1025.8,955.2 L1030.2,955.5 L1034,955.7 L1037.4,955.9 L1040.5,956 L1043.4,956.1 L1046.1,956.2 L1048.8,956.1 L1051.5,956 L1054.1,955.8 L1056.6,955.5 L1058.8,955.2 L1060.6,954.9 L1062,954.6 L1062,954.6 L1060.6,954.6 L1058.8,954.8 L1056.5,955 L1054.1,955.2 L1051.4,955.4 L1048.8,955.5 L1046.2,955.4 L1043.4,955.3 L1040.6,955.2 L1037.5,955 L1034.1,954.8 L1030.2,954.5 L1025.8,954.2 L1020.9,953.8 L1015.7,953.4 L1010.3,952.9 L1005,952.5 L1000,952.2 L995.3,951.9 L990.7,951.6 L986.2,951.3 L981.7,951.1 L977.2,950.9 L972.6,950.8 L968,950.8 L963.4,950.8 L958.7,950.9 L954.1,951 L949.5,951.2 L945,951.3 L940.2,951.5 L935.1,951.8 L930.1,952.1 L925.4,952.3 L921.5,952.6 L918.6,952.9Z" fill="#1d1d1b"/>
<path d="M1076,949 L1077.2,948.8 L1078.8,948.5 L1080.7,948 L1082.9,947.6 L1085.3,947.1 L1087.8,946.7 L1090.4,946.3 L1093.1,945.8 L1096,945.4 L1099.2,945 L1102.6,944.7 L1106.4,944.7 L1110.6,944.9 L1115.2,945.3 L1120.1,945.8 L1125.2,946.4 L1130.2,947.1 L1135.1,947.7 L1140,948.4 L1144.8,949.2 L1149.7,950 L1154.6,950.8 L1159.4,951.5 L1163.9,952 L1168.4,952.4 L1172.9,952.6 L1177.2,952.7 L1181.3,952.7 L1185.2,952.7 L1188.8,952.7 L1192,952.7 L1195,952.7 L1197.7,952.7 L1200.2,952.6 L1202.6,952.5 L1205,952.4 L1207.4,952.3 L1209.6,952.2 L1211.7,952 L1213.7,951.9 L1215.7,951.7 L1217.6,951.5 L1219.6,951.2 L1221.6,950.9 L1223.6,950.5 L1225.4,950.2 L1226.9,949.9 L1228,949.6 L1228,949.6 L1226.9,949.7 L1225.4,949.9 L1223.6,950.2 L1221.6,950.4 L1219.5,950.7 L1217.6,950.9 L1215.6,951.1 L1213.7,951.2 L1211.6,951.3 L1209.5,951.4 L1207.3,951.5 L1205,951.6 L1202.6,951.6 L1200.2,951.7 L1197.7,951.7 L1195,951.7 L1192,951.7 L1188.8,951.7 L1185.2,951.6 L1181.3,951.6 L1177.2,951.5 L1172.9,951.4 L1168.5,951.1 L1164.1,950.8 L1159.5,950.3 L1154.8,949.6 L1150,948.8 L1145,947.9 L1140.1,947.2 L1135.3,946.5 L1130.4,945.9 L1125.3,945.3 L1120.2,944.7 L1115.3,944.2 L1110.6,943.9 L1106.4,943.7 L1102.6,943.8 L1099.1,944.1 L1095.9,944.6 L1093,945.1 L1090.2,945.6 L1087.6,946.1 L1085.2,946.6 L1082.8,947.1 L1080.6,947.6 L1078.7,948.2 L1077.2,948.6 L1076,949Z" fill="#1d1d1b"/>
<path d="M1242,946.6 L1243.7,946.4 L1245.8,946.1 L1248.5,945.7 L1251.4,945.3 L1254.6,944.9 L1257.9,944.6 L1261.5,944.4 L1265.5,944.2 L1269.7,944.1 L1274.1,944.1 L1278.3,944 L1282.4,944.1 L1286.3,944.1 L1290,944.3 L1293.8,944.5 L1297.5,944.7 L1301.2,945 L1305,945.2 L1308.7,945.5 L1312.4,945.8 L1316.1,946.1 L1319.8,946.4 L1323.8,946.7 L1328,947 L1332.3,947.3 L1336.9,947.6 L1341.5,947.9 L1346.4,948.2 L1351.5,948.5 L1356.8,948.6 L1362.8,948.6 L1369.6,948.5 L1376.6,948.4 L1383.2,948.2 L1388.8,948 L1392.8,947.8 L1392.8,947.8 L1388.8,947.7 L1383.2,947.7 L1376.6,947.7 L1369.6,947.7 L1362.8,947.7 L1356.8,947.6 L1351.5,947.4 L1346.5,947.1 L1341.6,946.8 L1336.9,946.5 L1332.4,946.1 L1328,945.8 L1323.9,945.5 L1319.9,945.2 L1316.2,944.8 L1312.5,944.5 L1308.8,944.2 L1305,944 L1301.3,943.7 L1297.5,943.5 L1293.8,943.3 L1290.1,943.1 L1286.3,943 L1282.4,942.9 L1278.3,943 L1274,943 L1269.7,943.1 L1265.5,943.3 L1261.5,943.6 L1257.9,943.8 L1254.5,944.2 L1251.3,944.7 L1248.4,945.2 L1245.8,945.7 L1243.6,946.2 L1242,946.6Z" fill="#1d1d1b"/>
<path d="M999.2,909.2 A30.7,30.7 0 0 1 1060.6,909.2" fill="none" stroke="#1d1d1b" stroke-width="1.05" stroke-dasharray="4.8,3.8"/>
<path d="M928.9,985.5 A30.7,30.7 0 0 0 990.3,985.5" fill="none" stroke="#1d1d1b" stroke-width="1.05" stroke-dasharray="4.8,3.8"/>
<path d="M1156.7,912 A30.7,30.7 0 0 1 1218.1,912" fill="none" stroke="#1d1d1b" stroke-width="1.05" stroke-dasharray="4.8,3.8"/>
<path d="M1090.1,987 A30.7,30.7 0 0 0 1151.5,987" fill="none" stroke="#1d1d1b" stroke-width="1.05" stroke-dasharray="4.8,3.8"/>
<path d="M1322.1,912.3 A30.7,30.7 0 0 1 1383.5,912.3" fill="none" stroke="#1d1d1b" stroke-width="1.05" stroke-dasharray="4.8,3.8"/>
<path d="M1254.6,981.3 A30.7,30.7 0 0 0 1316,981.3" fill="none" stroke="#1d1d1b" stroke-width="1.05" stroke-dasharray="4.8,3.8"/>
<path d="M933.7,908.2 L935.3,908.6 L937.6,909.2 L940.2,909.9 L943.1,910.6 L946.1,911.1 L948.9,911.5 L951.5,911.8 L954.1,911.9 L956.7,912 L959.5,911.9 L962.4,911.7 L965.6,911.3 L969.2,910.7 L973,909.9 L977.1,908.9 L981.2,907.9 L985.3,906.7 L989.3,905.6 L993.5,904.2 L998.1,902.7 L1002.6,901.1 L1006.8,899.5 L1010.3,898.2 L1012.9,897.2 L1012.9,897.2 L1010.2,897.8 L1006.6,898.8 L1002.2,899.9 L997.6,901.1 L993,902.2 L988.7,903.2 L984.6,904.2 L980.5,905.1 L976.4,906 L972.4,906.8 L968.6,907.5 L965.2,908.1 L962.1,908.5 L959.2,908.9 L956.6,909.1 L954.1,909.2 L951.6,909.2 L949.1,909.3 L946.3,909.2 L943.4,909 L940.4,908.8 L937.7,908.5 L935.4,908.3 L933.7,908.2Z" fill="#5e5e5d"/>
<path d="M1011.5,883.8 L1013.4,884.4 L1016,885 L1019.1,885.8 L1022.4,886.6 L1025.6,887.4 L1028.5,888.3 L1031.1,889.3 L1033.8,890.3 L1036.4,891.4 L1039,892.6 L1041.3,893.7 L1043.4,894.9 L1045.2,896.1 L1046.9,897.4 L1048.4,898.8 L1049.8,900.2 L1051.1,901.7 L1052.3,903.3 L1053.4,905.1 L1054.5,907.2 L1055.4,909.4 L1056.3,911.6 L1057,913.4 L1057.6,914.7 L1057.6,914.7 L1057.4,913.3 L1057.1,911.4 L1056.8,909 L1056.3,906.6 L1055.6,904.1 L1054.7,901.9 L1053.7,900 L1052.5,898.1 L1051.1,896.3 L1049.6,894.5 L1047.8,892.9 L1045.8,891.3 L1043.5,889.8 L1041,888.4 L1038.2,887.2 L1035.4,886.1 L1032.5,885.2 L1029.5,884.5 L1026.3,884 L1022.9,883.7 L1019.4,883.6 L1016.2,883.6 L1013.5,883.7 L1011.5,883.8Z" fill="#5e5e5d"/>
<path d="M1010,906.1 L1011.1,907.2 L1012.8,908.7 L1014.7,910.3 L1016.9,912.1 L1019.1,913.8 L1021.2,915.2 L1023.2,916.5 L1025.2,917.7 L1027.3,918.8 L1029.4,919.8 L1031.6,920.8 L1033.7,921.7 L1036.1,922.7 L1038.8,923.6 L1041.4,924.5 L1043.9,925.2 L1046,925.8 L1047.5,926.2 L1047.5,926.2 L1046.2,925.3 L1044.4,924.1 L1042.2,922.7 L1039.8,921.3 L1037.5,919.9 L1035.3,918.6 L1033.3,917.4 L1031.3,916.2 L1029.3,915.1 L1027.2,914 L1025.2,912.9 L1023.1,911.8 L1020.9,910.7 L1018.4,909.6 L1015.9,908.5 L1013.5,907.5 L1011.5,906.6 L1010,906.1Z" fill="#5e5e5d"/>
<path d="M1170.7,883.4 L1172.6,884 L1175.2,884.6 L1178.3,885.4 L1181.6,886.2 L1184.8,887 L1187.7,887.9 L1190.3,888.9 L1193,889.9 L1195.6,891 L1198.2,892.2 L1200.5,893.3 L1202.6,894.5 L1204.4,895.7 L1206.1,897 L1207.6,898.4 L1209,899.8 L1210.3,901.3 L1211.5,902.9 L1212.6,904.7 L1213.7,906.8 L1214.6,909 L1215.5,911.2 L1216.2,913 L1216.8,914.3 L1216.8,914.3 L1216.6,912.9 L1216.3,911 L1216,908.6 L1215.5,906.2 L1214.8,903.7 L1213.9,901.5 L1212.9,899.6 L1211.7,897.7 L1210.3,895.9 L1208.8,894.1 L1207,892.5 L1205,890.9 L1202.7,889.4 L1200.2,888 L1197.4,886.8 L1194.6,885.7 L1191.7,884.8 L1188.7,884.1 L1185.5,883.6 L1182.1,883.3 L1178.6,883.2 L1175.4,883.2 L1172.7,883.3 L1170.7,883.4Z" fill="#5e5e5d"/>
<path d="M1170.1,899.6 L1171.1,900.8 L1172.5,902.5 L1174.3,904.4 L1176.2,906.4 L1178.1,908.4 L1180,910.1 L1181.9,911.6 L1183.8,913 L1185.7,914.4 L1187.6,915.6 L1189.6,916.9 L1191.7,918.1 L1193.9,919.3 L1196.3,920.5 L1198.8,921.7 L1201.2,922.7 L1203.1,923.5 L1204.6,924.1 L1204.6,924.1 L1203.4,923.1 L1201.8,921.7 L1199.8,920.1 L1197.7,918.4 L1195.5,916.7 L1193.6,915.2 L1191.7,913.7 L1189.9,912.3 L1188.1,911 L1186.2,909.6 L1184.3,908.3 L1182.4,907 L1180.3,905.6 L1178,904.1 L1175.7,902.7 L1173.4,901.4 L1171.5,900.3 L1170.1,899.6Z" fill="#5e5e5d"/>
<path d="M1334.8,883 L1336.7,883.6 L1339.3,884.2 L1342.4,885 L1345.7,885.8 L1348.9,886.6 L1351.8,887.5 L1354.4,888.5 L1357.1,889.5 L1359.7,890.6 L1362.3,891.8 L1364.6,892.9 L1366.7,894.1 L1368.5,895.3 L1370.2,896.6 L1371.7,898 L1373.1,899.4 L1374.4,900.9 L1375.6,902.5 L1376.7,904.3 L1377.8,906.4 L1378.7,908.6 L1379.6,910.8 L1380.3,912.6 L1380.9,913.9 L1380.9,913.9 L1380.7,912.5 L1380.4,910.6 L1380.1,908.2 L1379.6,905.8 L1378.9,903.3 L1378,901.1 L1377,899.2 L1375.8,897.3 L1374.4,895.5 L1372.9,893.7 L1371.1,892.1 L1369.1,890.5 L1366.8,889 L1364.3,887.6 L1361.5,886.4 L1358.7,885.3 L1355.8,884.4 L1352.8,883.7 L1349.6,883.2 L1346.2,882.9 L1342.7,882.8 L1339.5,882.8 L1336.8,882.9 L1334.8,883Z" fill="#5e5e5d"/>
<path d="M1330.9,895.3 L1331.9,896.6 L1333.4,898.3 L1335.2,900.2 L1337.1,902.3 L1339.2,904.3 L1341.1,906 L1343,907.6 L1344.9,909 L1346.9,910.4 L1348.9,911.7 L1350.9,913 L1353,914.2 L1355.3,915.5 L1357.8,916.7 L1360.3,918 L1362.7,919 L1364.7,919.9 L1366.2,920.5 L1366.2,920.5 L1365,919.4 L1363.3,918 L1361.3,916.4 L1359.1,914.6 L1356.9,912.9 L1354.9,911.3 L1353,909.9 L1351.2,908.4 L1349.3,907 L1347.4,905.6 L1345.5,904.3 L1343.5,902.9 L1341.3,901.5 L1339,900 L1336.6,898.5 L1334.3,897.2 L1332.3,896.1 L1330.9,895.3Z" fill="#5e5e5d"/>
<path d="M948.1,976.6 L949.4,977.6 L951.1,979 L953.3,980.6 L955.6,982.3 L957.9,984 L960.1,985.5 L962.1,987 L964.2,988.5 L966.3,989.9 L968.4,991.4 L970.7,992.8 L972.9,994.2 L975.5,995.6 L978.2,997.1 L981.1,998.6 L983.7,1000 L986,1001.1 L987.7,1001.8 L987.7,1001.8 L986.4,1000.5 L984.5,998.8 L982.3,996.9 L979.8,994.8 L977.3,992.8 L975.1,991 L972.9,989.4 L970.8,987.9 L968.6,986.4 L966.4,985 L964.2,983.7 L961.9,982.5 L959.5,981.3 L956.9,980 L954.2,978.9 L951.7,977.9 L949.6,977.1 L948.1,976.6Z" fill="#5e5e5d"/>
<path d="M934.4,983.8 L934.4,984.9 L934.4,986.4 L934.4,988.2 L934.6,990.1 L934.9,992.1 L935.4,994 L936.2,995.8 L937,997.5 L938.1,999.3 L939.3,1001 L940.7,1002.8 L942.4,1004.4 L944.3,1006.1 L946.5,1007.7 L948.8,1009.2 L951.3,1010.6 L953.9,1012 L956.6,1013.2 L959.7,1014.4 L963.1,1015.5 L966.6,1016.5 L969.9,1017.3 L972.8,1018 L974.8,1018.4 L974.8,1018.4 L973,1017.4 L970.4,1016 L967.4,1014.4 L964.2,1012.7 L961.1,1011.1 L958.4,1009.6 L956,1008.2 L953.5,1006.7 L951.2,1005.3 L949,1003.9 L947,1002.5 L945.2,1001.2 L943.6,999.8 L942.2,998.5 L940.9,997.1 L939.8,995.8 L938.7,994.4 L937.8,993 L937,991.5 L936.3,989.7 L935.7,988 L935.2,986.3 L934.8,984.8 L934.4,983.8Z" fill="#5e5e5d"/>
<path d="M1103.1,965.9 L1104.4,966.9 L1106.1,968.3 L1108.3,969.9 L1110.6,971.6 L1112.9,973.3 L1115.1,974.8 L1117.1,976.3 L1119.2,977.8 L1121.3,979.2 L1123.4,980.7 L1125.7,982.1 L1127.9,983.5 L1130.5,984.9 L1133.2,986.4 L1136.1,987.9 L1138.7,989.3 L1141,990.4 L1142.7,991.1 L1142.7,991.1 L1141.4,989.8 L1139.5,988.1 L1137.3,986.2 L1134.8,984.1 L1132.3,982.1 L1130.1,980.3 L1127.9,978.7 L1125.8,977.2 L1123.6,975.7 L1121.4,974.3 L1119.2,973 L1116.9,971.8 L1114.5,970.6 L1111.9,969.3 L1109.2,968.2 L1106.7,967.2 L1104.6,966.4 L1103.1,965.9Z" fill="#5e5e5d"/>
<path d="M1087.2,975.4 L1087.2,976.5 L1087.2,978 L1087.2,979.8 L1087.4,981.7 L1087.7,983.7 L1088.2,985.6 L1089,987.4 L1089.8,989.1 L1090.9,990.9 L1092.1,992.6 L1093.5,994.4 L1095.2,996 L1097.1,997.7 L1099.3,999.3 L1101.6,1000.8 L1104.1,1002.2 L1106.7,1003.6 L1109.4,1004.8 L1112.5,1006 L1115.9,1007.1 L1119.4,1008.1 L1122.7,1008.9 L1125.6,1009.6 L1127.6,1010 L1127.6,1010 L1125.8,1009 L1123.2,1007.6 L1120.2,1006 L1117,1004.3 L1113.9,1002.7 L1111.2,1001.2 L1108.8,999.8 L1106.3,998.3 L1104,996.9 L1101.8,995.5 L1099.8,994.1 L1098,992.8 L1096.4,991.4 L1095,990.1 L1093.7,988.7 L1092.6,987.4 L1091.5,986 L1090.6,984.6 L1089.8,983.1 L1089.1,981.3 L1088.5,979.6 L1088,977.9 L1087.6,976.4 L1087.2,975.4Z" fill="#5e5e5d"/>
<path d="M1273.3,963.4 L1274.6,964.4 L1276.3,965.8 L1278.5,967.4 L1280.8,969.1 L1283.1,970.8 L1285.3,972.3 L1287.3,973.8 L1289.4,975.3 L1291.5,976.7 L1293.6,978.2 L1295.9,979.6 L1298.1,981 L1300.7,982.4 L1303.4,983.9 L1306.3,985.4 L1308.9,986.8 L1311.2,987.9 L1312.9,988.6 L1312.9,988.6 L1311.6,987.3 L1309.7,985.6 L1307.5,983.7 L1305,981.6 L1302.5,979.6 L1300.3,977.8 L1298.1,976.2 L1296,974.7 L1293.8,973.2 L1291.6,971.8 L1289.4,970.5 L1287.1,969.3 L1284.7,968.1 L1282.1,966.8 L1279.4,965.7 L1276.9,964.7 L1274.8,963.9 L1273.3,963.4Z" fill="#5e5e5d"/>
<path d="M1259.6,979 L1259.6,980.1 L1259.6,981.6 L1259.6,983.4 L1259.8,985.3 L1260.1,987.3 L1260.6,989.2 L1261.4,991 L1262.2,992.7 L1263.3,994.5 L1264.5,996.2 L1265.9,998 L1267.6,999.6 L1269.5,1001.3 L1271.7,1002.9 L1274,1004.4 L1276.5,1005.8 L1279.1,1007.2 L1281.8,1008.4 L1284.9,1009.6 L1288.3,1010.7 L1291.8,1011.7 L1295.1,1012.5 L1298,1013.2 L1300,1013.6 L1300,1013.6 L1298.2,1012.6 L1295.6,1011.2 L1292.6,1009.6 L1289.4,1007.9 L1286.3,1006.3 L1283.6,1004.8 L1281.2,1003.4 L1278.7,1001.9 L1276.4,1000.5 L1274.2,999.1 L1272.2,997.7 L1270.4,996.4 L1268.8,995 L1267.4,993.7 L1266.1,992.3 L1265,991 L1263.9,989.6 L1263,988.2 L1262.2,986.7 L1261.5,984.9 L1260.9,983.2 L1260.4,981.5 L1260,980 L1259.6,979Z" fill="#5e5e5d"/>
<path d="M1306.4,1004.7 L1308.2,1004.2 L1310.7,1003.4 L1313.7,1002.5 L1316.9,1001.5 L1320.2,1000.5 L1323.3,999.6 L1326.5,998.7 L1329.7,997.7 L1333,996.7 L1336.3,995.7 L1339.6,994.8 L1342.8,994 L1345.9,993.2 L1348.9,992.5 L1351.9,991.9 L1355,991.3 L1358,990.8 L1361.1,990.3 L1364.5,989.9 L1368.2,989.4 L1372,989.1 L1375.5,988.7 L1378.5,988.5 L1380.6,988.2 L1380.6,988.2 L1378.5,988.1 L1375.5,988 L1371.9,987.9 L1368.1,987.9 L1364.4,987.9 L1360.9,988.1 L1357.7,988.4 L1354.6,988.7 L1351.4,989.1 L1348.3,989.7 L1345.2,990.3 L1342,991 L1338.8,991.9 L1335.5,992.9 L1332.2,994.1 L1328.9,995.2 L1325.7,996.4 L1322.7,997.6 L1319.6,998.9 L1316.4,1000.2 L1313.3,1001.5 L1310.5,1002.8 L1308.1,1003.9 L1306.4,1004.7Z" fill="#5e5e5d"/>
<path d="M1061,915.4 L1062.1,915.7 L1063.7,916.2 L1065.6,916.7 L1067.7,917.2 L1069.9,917.6 L1072,917.9 L1074.1,918 L1076.3,918.1 L1078.6,918 L1080.9,917.9 L1083.1,917.6 L1085.1,917.4 L1087.1,917 L1088.9,916.5 L1090.6,916.1 L1092.2,915.5 L1093.8,915 L1095.6,914.5 L1097.4,913.9 L1099.3,913.3 L1101.2,912.6 L1103.2,912 L1105.1,911.3 L1106.9,910.7 L1108.7,910 L1110.5,909.4 L1112.2,908.8 L1113.9,908.1 L1115.6,907.5 L1117.4,907 L1119.2,906.5 L1121,905.9 L1122.9,905.4 L1124.7,905 L1126.5,904.6 L1128.2,904.2 L1129.7,903.9 L1131.2,903.6 L1132.7,903.4 L1134.1,903.2 L1135.5,903.1 L1137,903 L1138.7,902.9 L1140.5,903 L1142.4,903 L1144.1,903.1 L1145.6,903.2 L1146.7,903.2 L1146.7,903.2 L1145.6,903 L1144.2,902.8 L1142.4,902.5 L1140.6,902.2 L1138.7,902 L1137,901.8 L1135.5,901.8 L1134,901.8 L1132.5,901.8 L1131,901.9 L1129.5,902 L1127.8,902.2 L1126.1,902.4 L1124.2,902.7 L1122.3,903 L1120.4,903.4 L1118.5,903.8 L1116.6,904.2 L1114.8,904.7 L1113,905.2 L1111.2,905.7 L1109.4,906.2 L1107.7,906.8 L1105.9,907.3 L1104,907.9 L1102,908.5 L1100.1,909 L1098.2,909.6 L1096.3,910.2 L1094.4,910.7 L1092.7,911.2 L1091,911.8 L1089.4,912.2 L1087.8,912.7 L1086.2,913.1 L1084.5,913.4 L1082.5,913.8 L1080.4,914.2 L1078.3,914.5 L1076.1,914.8 L1074,915.1 L1072,915.3 L1070,915.4 L1067.9,915.5 L1065.8,915.4 L1063.8,915.4 L1062.2,915.4 L1061,915.4Z" fill="#5e5e5d"/>
<path d="M1069.7,910.4 L1070.7,910.8 L1072,911.4 L1073.6,912 L1075.3,912.6 L1077.1,913.2 L1078.8,913.7 L1080.5,914 L1082.2,914.3 L1084,914.5 L1085.7,914.6 L1087.5,914.6 L1089.2,914.5 L1090.9,914.2 L1092.6,913.7 L1094.3,913.1 L1095.8,912.5 L1097.1,912 L1098,911.6 L1098,911.6 L1097,911.6 L1095.6,911.7 L1094,911.9 L1092.3,912 L1090.6,912.1 L1089,912.1 L1087.5,912.1 L1085.8,912 L1084.2,911.9 L1082.5,911.8 L1080.8,911.7 L1079.2,911.5 L1077.5,911.4 L1075.7,911.1 L1073.9,910.9 L1072.2,910.7 L1070.7,910.5 L1069.7,910.4Z" fill="#5e5e5d"/>
<path d="M1128,903.4 L1129.3,903.6 L1131.2,903.7 L1133.4,903.9 L1135.7,904.1 L1137.9,904.4 L1139.8,904.7 L1141.5,905.1 L1143.1,905.6 L1144.6,906.1 L1146.1,906.7 L1147.5,907.3 L1148.8,908 L1150,908.7 L1151.2,909.5 L1152.4,910.3 L1153.5,911.2 L1154.5,912.2 L1155.5,913.1 L1156.4,914.3 L1157.4,915.6 L1158.3,917.1 L1159.1,918.5 L1159.8,919.7 L1160.4,920.5 L1160.4,920.5 L1160.2,919.5 L1159.9,918.2 L1159.5,916.6 L1158.9,914.9 L1158.3,913.2 L1157.5,911.7 L1156.6,910.3 L1155.6,909.1 L1154.4,907.9 L1153.2,906.9 L1151.9,905.9 L1150.4,905 L1148.9,904.3 L1147.3,903.6 L1145.6,903.1 L1143.9,902.6 L1142.1,902.3 L1140.2,902.1 L1138.1,902.1 L1135.7,902.2 L1133.4,902.5 L1131.2,902.8 L1129.3,903.2 L1128,903.4Z" fill="#5e5e5d"/>
<path d="M1130.9,914.7 L1132.2,915.1 L1134,915.7 L1136.1,916.3 L1138.3,917 L1140.6,917.6 L1142.7,918.3 L1144.9,918.9 L1147.3,919.7 L1149.7,920.4 L1152,921 L1154,921.6 L1155.4,921.9 L1155.4,921.9 L1154.1,921.2 L1152.3,920.3 L1150.2,919.2 L1147.8,918.2 L1145.5,917.3 L1143.3,916.5 L1141,916 L1138.7,915.5 L1136.3,915.2 L1134.1,915 L1132.2,914.8 L1130.9,914.7Z" fill="#5e5e5d"/>
<path d="M1054.6,927.7 L1056,928.2 L1058,928.7 L1060.3,929.4 L1062.8,930.1 L1065.4,930.8 L1067.8,931.5 L1070.2,932.2 L1072.8,933 L1075.6,933.9 L1078.1,934.6 L1080.3,935.2 L1081.9,935.6 L1081.9,935.6 L1080.4,934.9 L1078.4,933.8 L1076,932.7 L1073.4,931.6 L1070.7,930.5 L1068.2,929.7 L1065.8,929.1 L1063.2,928.6 L1060.5,928.3 L1058.1,928 L1056.1,927.8 L1054.6,927.7Z" fill="#5e5e5d"/>
<path d="M1220.5,913.3 L1221.6,913.7 L1223.2,914.3 L1225,914.9 L1227,915.6 L1229,916.1 L1230.9,916.6 L1232.6,916.9 L1234.2,917.1 L1235.9,917.2 L1237.5,917.3 L1239.2,917.3 L1240.9,917.2 L1242.5,917 L1244.2,916.6 L1245.8,916.2 L1247.4,915.7 L1249,915.2 L1250.6,914.7 L1252.4,914.1 L1254.2,913.5 L1256,912.8 L1257.9,912.2 L1259.7,911.5 L1261.5,910.8 L1263.2,910.1 L1264.9,909.5 L1266.5,908.8 L1268.2,908.1 L1269.8,907.5 L1271.6,906.8 L1273.4,906.2 L1275.2,905.6 L1277.1,904.9 L1279,904.3 L1280.9,903.7 L1282.8,903.2 L1284.5,902.6 L1286.3,902.1 L1288,901.6 L1289.7,901.2 L1291.4,900.8 L1293.2,900.4 L1294.9,900.1 L1296.8,899.8 L1298.6,899.5 L1300.5,899.3 L1302.2,899.2 L1304,899.1 L1305.7,899.2 L1307.6,899.4 L1309.4,899.6 L1311.1,899.9 L1312.6,900.2 L1313.6,900.3 L1313.6,900.3 L1312.6,900 L1311.2,899.6 L1309.5,899.2 L1307.7,898.7 L1305.8,898.3 L1304,898.1 L1302.2,898 L1300.4,897.9 L1298.5,898 L1296.6,898.1 L1294.7,898.2 L1292.8,898.4 L1291,898.6 L1289.2,898.9 L1287.4,899.3 L1285.7,899.6 L1283.9,900 L1282,900.4 L1280.1,900.9 L1278.2,901.4 L1276.2,901.9 L1274.3,902.4 L1272.3,903 L1270.4,903.6 L1268.6,904.1 L1266.9,904.7 L1265.2,905.4 L1263.5,906 L1261.9,906.6 L1260.1,907.2 L1258.4,907.8 L1256.5,908.5 L1254.7,909.1 L1252.9,909.7 L1251.1,910.3 L1249.4,910.9 L1247.7,911.4 L1246.2,912 L1244.7,912.5 L1243.2,912.9 L1241.8,913.3 L1240.3,913.6 L1238.9,913.8 L1237.4,914 L1235.9,914.1 L1234.3,914.2 L1232.8,914.2 L1231.1,914.2 L1229.3,914.2 L1227.3,914 L1225.3,913.8 L1223.3,913.6 L1221.7,913.4 L1220.5,913.3Z" fill="#5e5e5d"/>
<path d="M1230.6,907.5 L1231.3,907.9 L1232.4,908.4 L1233.6,909 L1235,909.6 L1236.4,910.2 L1237.8,910.6 L1239.2,911 L1240.6,911.3 L1242,911.5 L1243.5,911.6 L1245,911.7 L1246.5,911.6 L1248,911.4 L1249.7,911 L1251.4,910.5 L1252.9,909.9 L1254.1,909.4 L1255,909 L1255,909 L1254,909 L1252.7,909 L1251.1,909 L1249.4,909.1 L1247.8,909.2 L1246.3,909.2 L1245,909.1 L1243.6,909 L1242.3,909 L1240.9,908.8 L1239.5,908.7 L1238.2,908.6 L1236.8,908.4 L1235.4,908.2 L1233.9,908 L1232.6,907.8 L1231.4,907.6 L1230.6,907.5Z" fill="#5e5e5d"/>
<path d="M1297.8,901.8 L1298.9,901.9 L1300.5,902.1 L1302.4,902.3 L1304.4,902.4 L1306.3,902.6 L1307.9,902.9 L1309.4,903.1 L1310.8,903.4 L1312.2,903.8 L1313.6,904.1 L1314.8,904.5 L1316,904.8 L1317,905.2 L1318,905.5 L1318.8,905.9 L1319.6,906.3 L1320.3,906.7 L1321,907.2 L1321.6,907.7 L1322.1,908.2 L1322.6,908.7 L1323,909.4 L1323.5,910.2 L1324,911.1 L1324.5,912.4 L1325.2,913.9 L1325.8,915.7 L1326.4,917.4 L1326.9,918.8 L1327.3,919.8 L1327.3,919.8 L1327.2,918.7 L1327.2,917.2 L1327,915.4 L1326.8,913.5 L1326.5,911.8 L1326.2,910.3 L1325.8,909.1 L1325.4,908.1 L1324.9,907.2 L1324.4,906.3 L1323.8,905.5 L1323,904.8 L1322.2,904.1 L1321.3,903.5 L1320.3,902.9 L1319.3,902.4 L1318.2,902 L1317,901.6 L1315.7,901.2 L1314.3,900.9 L1312.8,900.7 L1311.3,900.5 L1309.7,900.4 L1308.1,900.3 L1306.3,900.4 L1304.3,900.6 L1302.3,900.9 L1300.5,901.3 L1298.9,901.6 L1297.8,901.8Z" fill="#5e5e5d"/>
<path d="M994.9,984.6 L995,985.5 L995.1,986.6 L995.3,988.1 L995.6,989.6 L996,991.1 L996.6,992.5 L997.4,993.7 L998.4,994.9 L999.5,996 L1000.7,997 L1002.1,997.9 L1003.7,998.6 L1005.4,999.2 L1007.3,999.5 L1009.2,999.7 L1011.2,999.8 L1013.2,999.6 L1015.3,999.3 L1017.5,998.7 L1019.8,997.8 L1022.1,996.7 L1024.3,995.6 L1026,994.6 L1027.3,993.9 L1027.3,993.9 L1025.8,994 L1023.8,994.3 L1021.5,994.6 L1019,995 L1016.7,995.3 L1014.7,995.5 L1012.9,995.6 L1011.1,995.6 L1009.4,995.5 L1007.8,995.4 L1006.3,995.2 L1004.9,995 L1003.7,994.6 L1002.5,994.1 L1001.4,993.4 L1000.4,992.7 L999.4,991.9 L998.6,991.1 L997.8,990.2 L997.1,989 L996.4,987.7 L995.8,986.5 L995.3,985.4 L994.9,984.6Z" fill="#5e5e5d"/>
<path d="M1011.5,1003.3 L1012.9,1002.9 L1014.8,1002.3 L1017.1,1001.6 L1019.5,1000.9 L1022,1000.1 L1024.4,999.3 L1026.6,998.4 L1028.9,997.5 L1031.2,996.6 L1033.5,995.7 L1035.8,994.8 L1038,994 L1040.1,993.3 L1042.2,992.7 L1044.3,992 L1046.3,991.5 L1048.4,991 L1050.4,990.5 L1052.5,990.1 L1054.7,989.8 L1056.9,989.4 L1059.1,989.2 L1061.3,988.9 L1063.4,988.6 L1065.4,988.3 L1067.4,988 L1069.3,987.7 L1071.3,987.5 L1073.1,987.2 L1075,987 L1077,986.8 L1079.2,986.6 L1081.3,986.4 L1083.3,986.3 L1085,986.1 L1086.2,986 L1086.2,986 L1085,985.8 L1083.3,985.5 L1081.4,985.3 L1079.2,985 L1077,984.8 L1075,984.6 L1073,984.5 L1071.1,984.5 L1069.1,984.5 L1067.1,984.6 L1065.1,984.7 L1063,984.8 L1060.9,985 L1058.6,985.2 L1056.4,985.5 L1054.1,985.8 L1051.8,986.2 L1049.6,986.7 L1047.4,987.2 L1045.3,987.9 L1043.2,988.6 L1041.1,989.3 L1039,990.1 L1036.8,991 L1034.6,992 L1032.4,993.1 L1030.1,994.2 L1027.9,995.4 L1025.8,996.5 L1023.6,997.5 L1021.4,998.6 L1019.1,999.7 L1016.8,1000.8 L1014.6,1001.8 L1012.8,1002.7 L1011.5,1003.3Z" fill="#5e5e5d"/>
<path d="M1060.3,989.6 L1061.3,989.8 L1062.6,989.9 L1064.2,990.1 L1065.8,990.2 L1067.5,990.4 L1068.9,990.5 L1070.3,990.7 L1071.7,990.8 L1073.1,990.9 L1074.4,991.1 L1075.8,991.3 L1077.2,991.7 L1078.7,992.3 L1080.6,993.1 L1082.5,994 L1084.3,994.9 L1085.9,995.6 L1087,996.1 L1087,996.1 L1086.1,995.3 L1084.8,994.2 L1083.2,992.9 L1081.5,991.6 L1079.7,990.4 L1078,989.5 L1076.5,988.9 L1074.9,988.4 L1073.4,988.2 L1072,988 L1070.5,987.9 L1069.1,987.9 L1067.4,988 L1065.7,988.2 L1064.1,988.6 L1062.5,988.9 L1061.2,989.3 L1060.3,989.6Z" fill="#5e5e5d"/>
<path d="M1061,960.8 L1062.4,961.2 L1064.3,961.7 L1066.6,962.2 L1069,962.8 L1071.5,963.3 L1073.8,963.9 L1076.2,964.5 L1078.8,965.2 L1081.5,965.9 L1084,966.5 L1086.1,967 L1087.7,967.3 L1087.7,967.3 L1086.3,966.6 L1084.3,965.7 L1081.9,964.7 L1079.3,963.7 L1076.6,962.8 L1074.2,962.1 L1071.8,961.6 L1069.3,961.3 L1066.7,961.1 L1064.4,960.9 L1062.4,960.8 L1061,960.8Z" fill="#5e5e5d"/>
<path d="M1007.2,970.9 L1008.5,971.4 L1010.4,972.1 L1012.6,972.8 L1015,973.6 L1017.4,974.5 L1019.7,975.2 L1022.1,976.1 L1024.7,977.1 L1027.4,978.1 L1030,979 L1032.2,979.7 L1033.8,980.2 L1033.8,980.2 L1032.4,979.4 L1030.4,978.2 L1028,976.9 L1025.3,975.6 L1022.7,974.5 L1020.3,973.6 L1017.9,972.8 L1015.4,972.2 L1012.9,971.7 L1010.6,971.4 L1008.6,971.1 L1007.2,970.9Z" fill="#5e5e5d"/>
<path d="M1164.5,979.4 L1164.6,980.3 L1164.7,981.4 L1164.9,982.9 L1165.2,984.4 L1165.6,985.9 L1166.2,987.3 L1167,988.5 L1168,989.7 L1169.1,990.8 L1170.3,991.8 L1171.7,992.7 L1173.3,993.4 L1175,994 L1176.9,994.3 L1178.8,994.5 L1180.8,994.6 L1182.8,994.4 L1184.9,994.1 L1187.1,993.5 L1189.4,992.6 L1191.7,991.5 L1193.9,990.4 L1195.6,989.4 L1196.9,988.7 L1196.9,988.7 L1195.4,988.8 L1193.4,989.1 L1191.1,989.4 L1188.6,989.8 L1186.3,990.1 L1184.3,990.3 L1182.5,990.4 L1180.7,990.4 L1179,990.3 L1177.4,990.2 L1175.9,990 L1174.5,989.8 L1173.3,989.4 L1172.1,988.9 L1171,988.2 L1170,987.5 L1169,986.7 L1168.2,985.9 L1167.4,985 L1166.7,983.8 L1166,982.5 L1165.4,981.3 L1164.9,980.2 L1164.5,979.4Z" fill="#5e5e5d"/>
<path d="M1181.1,998.1 L1182.5,997.7 L1184.4,997.1 L1186.7,996.4 L1189.1,995.7 L1191.6,994.9 L1194,994.1 L1196.2,993.2 L1198.5,992.3 L1200.8,991.4 L1203.1,990.5 L1205.4,989.6 L1207.6,988.8 L1209.7,988.1 L1211.8,987.5 L1213.9,986.8 L1215.9,986.3 L1218,985.8 L1220,985.3 L1222.1,984.9 L1224.3,984.6 L1226.5,984.2 L1228.7,984 L1230.9,983.7 L1233,983.4 L1235,983.1 L1237,982.8 L1238.9,982.5 L1240.9,982.3 L1242.7,982 L1244.6,981.8 L1246.6,981.6 L1248.8,981.4 L1250.9,981.2 L1252.9,981.1 L1254.6,980.9 L1255.8,980.8 L1255.8,980.8 L1254.6,980.6 L1252.9,980.3 L1251,980.1 L1248.8,979.8 L1246.6,979.6 L1244.6,979.4 L1242.6,979.3 L1240.7,979.3 L1238.7,979.3 L1236.7,979.4 L1234.7,979.5 L1232.6,979.6 L1230.5,979.8 L1228.2,980 L1226,980.3 L1223.7,980.6 L1221.4,981 L1219.2,981.5 L1217,982 L1214.9,982.7 L1212.8,983.4 L1210.7,984.1 L1208.6,984.9 L1206.4,985.8 L1204.2,986.8 L1202,987.9 L1199.7,989 L1197.5,990.2 L1195.4,991.3 L1193.2,992.3 L1191,993.4 L1188.7,994.5 L1186.4,995.6 L1184.2,996.6 L1182.4,997.5 L1181.1,998.1Z" fill="#5e5e5d"/>
<path d="M1229.9,984.4 L1230.9,984.6 L1232.2,984.7 L1233.8,984.9 L1235.4,985 L1237.1,985.2 L1238.5,985.3 L1239.9,985.5 L1241.3,985.6 L1242.7,985.7 L1244,985.9 L1245.4,986.1 L1246.8,986.5 L1248.3,987.1 L1250.2,987.9 L1252.1,988.8 L1253.9,989.7 L1255.5,990.4 L1256.6,990.9 L1256.6,990.9 L1255.7,990.1 L1254.4,989 L1252.8,987.7 L1251.1,986.4 L1249.3,985.2 L1247.6,984.3 L1246.1,983.7 L1244.5,983.2 L1243,983 L1241.6,982.8 L1240.1,982.7 L1238.7,982.7 L1237,982.8 L1235.3,983 L1233.7,983.4 L1232.1,983.7 L1230.8,984.1 L1229.9,984.4Z" fill="#5e5e5d"/>
<line x1="916.8" y1="937" x2="952.8" y2="926.8" stroke="#6e1f18" stroke-width="3.9" stroke-dasharray="3.7,3.9" stroke-linecap="butt"/>
<line x1="978.4" y1="932" x2="1009.3" y2="919" stroke="#6e1f18" stroke-width="2.2" stroke-dasharray="2.1,2.3" stroke-linecap="butt"/>
<line x1="1032.4" y1="935.6" x2="1062.6" y2="922.6" stroke="#6e1f18" stroke-width="2.2" stroke-dasharray="2.1,2.3" stroke-linecap="butt"/>
<line x1="931.6" y1="978.8" x2="954.6" y2="969.4" stroke="#6e1f18" stroke-width="2.2" stroke-dasharray="2.1,2.3" stroke-linecap="butt"/>
<line x1="987.7" y1="981" x2="1007.2" y2="972.5" stroke="#6e1f18" stroke-width="2.2" stroke-dasharray="2.1,2.3" stroke-linecap="butt"/>
<line x1="1024.4" y1="973.8" x2="1066.1" y2="957.9" stroke="#6e1f18" stroke-width="3.9" stroke-dasharray="3.7,3.9" stroke-linecap="butt"/>
<line x1="1045.2" y1="963.4" x2="1093.4" y2="936.7" stroke="#6e1f18" stroke-width="3.8" stroke-linecap="butt"/>
<line x1="1085.5" y1="939" x2="1145.3" y2="919.6" stroke="#6e1f18" stroke-width="3.9" stroke-dasharray="3.7,3.9" stroke-linecap="butt"/>
<line x1="1087" y1="969.4" x2="1107.1" y2="960.8" stroke="#6e1f18" stroke-width="2.2" stroke-dasharray="2.1,2.3" stroke-linecap="butt"/>
<line x1="1155.4" y1="925.5" x2="1176.2" y2="916.9" stroke="#6e1f18" stroke-width="2.2" stroke-dasharray="2.1,2.3" stroke-linecap="butt"/>
<line x1="1160" y1="923.4" x2="1175.8" y2="916.9" stroke="#6e1f18" stroke-width="2.2" stroke-dasharray="2.1,2.3" stroke-linecap="butt"/>
<line x1="1188.8" y1="931.3" x2="1210.4" y2="923.4" stroke="#6e1f18" stroke-width="2.2" stroke-dasharray="2.1,2.3" stroke-linecap="butt"/>
<line x1="1262.2" y1="968.7" x2="1284.6" y2="962.2" stroke="#6e1f18" stroke-width="2.2" stroke-dasharray="2.1,2.3" stroke-linecap="butt"/>
<line x1="1174.4" y1="972.3" x2="1213" y2="960.9" stroke="#6e1f18" stroke-width="3.9" stroke-dasharray="3.7,3.9" stroke-linecap="butt"/>
<line x1="1208.2" y1="963" x2="1259.4" y2="936.3" stroke="#6e1f18" stroke-width="3.8" stroke-linecap="butt"/>
<line x1="1249" y1="940.4" x2="1306.4" y2="919.8" stroke="#6e1f18" stroke-width="3.9" stroke-dasharray="3.7,3.9" stroke-linecap="butt"/>
<line x1="1319.4" y1="921.9" x2="1342.4" y2="914.4" stroke="#6e1f18" stroke-width="2.2" stroke-dasharray="2.1,2.3" stroke-linecap="butt"/>
<polygon points="1218.4,949.6 1245.9,935.2 1229.4,935.7 1229.5,938.2 1233.5,938.3 1217,946.9" fill="#000"/>
<polygon points="1252.8,946.2 1225.3,961.8 1241.8,960.7 1241.5,958.2 1237.6,958.3 1254.3,948.8" fill="#000"/>
<polygon points="1208.8,858.4 1222.2,845 1216.2,839.4 1239.3,839.4 1239.3,862.5 1233.7,856.5 1220.3,869.9" fill="#fff" stroke="#000" stroke-width="1.7" stroke-linejoin="miter"/>
<polygon points="1110,1024.2 1096.6,1037.6 1102.6,1043.2 1079.5,1043.2 1079.5,1020.1 1085.1,1026.1 1098.5,1012.7" fill="#fff" stroke="#000" stroke-width="1.7" stroke-linejoin="miter"/>
</g>
<path d="M925.4,874.8 V834.9 H965.9" fill="none" stroke="#000" stroke-width="3.7"/><text x="932.8" y="858" font-size="14" textLength="45.6" lengthAdjust="spacingAndGlyphs" fill="#000">100 km</text>
<rect x="916.1" y="826" width="479.4" height="244.8" fill="none" stroke="#1d1d1b" stroke-width="3.7"/><rect x="1365.2" y="1032.8" width="30.2" height="38" fill="#fff" stroke="#1d1d1b" stroke-width="3.7"/><text x="1380.8" y="1063.8" font-size="33" text-anchor="middle" fill="#000">f</text>
</svg></body></html>
